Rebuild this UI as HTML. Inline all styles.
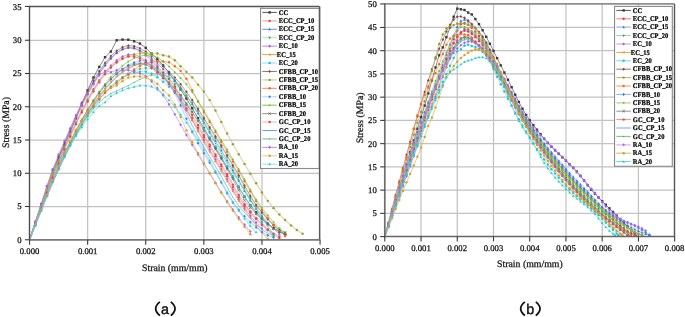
<!DOCTYPE html>
<html><head><meta charset="utf-8"><style>
html,body{margin:0;padding:0;background:#fff;width:685px;height:317px;overflow:hidden}
svg{display:block;text-rendering:geometricPrecision;filter:blur(0.3px)}
.tk{font-family:"Liberation Serif",serif;font-size:8.7px;fill:#111;stroke:#111;stroke-width:0.25px}
.at{font-family:"Liberation Serif",serif;font-size:9.8px;fill:#111;stroke:#111;stroke-width:0.25px}
.lg{font-family:"Liberation Serif",serif;font-size:7.1px;text-rendering:geometricPrecision;font-weight:bold;fill:#000;stroke:#000;stroke-width:0.22px}
.cap{font-family:"Liberation Sans",sans-serif;font-size:14.3px;fill:#111;stroke:#111;stroke-width:0.45px;text-anchor:middle}
</style></head><body>
<svg width="685" height="317" viewBox="0 0 685 317">
<line x1="87.65" y1="6.45" x2="87.65" y2="239.75" stroke="#c2c2c2" stroke-width="1.25"/>
<line x1="145.75" y1="6.45" x2="145.75" y2="239.75" stroke="#c2c2c2" stroke-width="1.25"/>
<line x1="203.85" y1="6.45" x2="203.85" y2="239.75" stroke="#c2c2c2" stroke-width="1.25"/>
<line x1="261.95" y1="6.45" x2="261.95" y2="239.75" stroke="#c2c2c2" stroke-width="1.25"/>
<line x1="29.55" y1="206.50" x2="319.65" y2="206.50" stroke="#c2c2c2" stroke-width="1.25"/>
<line x1="29.55" y1="173.25" x2="319.65" y2="173.25" stroke="#c2c2c2" stroke-width="1.25"/>
<line x1="29.55" y1="140.00" x2="319.65" y2="140.00" stroke="#c2c2c2" stroke-width="1.25"/>
<line x1="29.55" y1="106.75" x2="319.65" y2="106.75" stroke="#c2c2c2" stroke-width="1.25"/>
<line x1="29.55" y1="73.50" x2="319.65" y2="73.50" stroke="#c2c2c2" stroke-width="1.25"/>
<line x1="29.55" y1="40.25" x2="319.65" y2="40.25" stroke="#c2c2c2" stroke-width="1.25"/>
<line x1="421.03" y1="3.95" x2="421.03" y2="236.60" stroke="#c2c2c2" stroke-width="1.25"/>
<line x1="457.26" y1="3.95" x2="457.26" y2="236.60" stroke="#c2c2c2" stroke-width="1.25"/>
<line x1="493.49" y1="3.95" x2="493.49" y2="236.60" stroke="#c2c2c2" stroke-width="1.25"/>
<line x1="529.72" y1="3.95" x2="529.72" y2="236.60" stroke="#c2c2c2" stroke-width="1.25"/>
<line x1="565.95" y1="3.95" x2="565.95" y2="236.60" stroke="#c2c2c2" stroke-width="1.25"/>
<line x1="602.18" y1="3.95" x2="602.18" y2="236.60" stroke="#c2c2c2" stroke-width="1.25"/>
<line x1="638.41" y1="3.95" x2="638.41" y2="236.60" stroke="#c2c2c2" stroke-width="1.25"/>
<line x1="384.80" y1="213.36" x2="674.50" y2="213.36" stroke="#c2c2c2" stroke-width="1.25"/>
<line x1="384.80" y1="190.12" x2="674.50" y2="190.12" stroke="#c2c2c2" stroke-width="1.25"/>
<line x1="384.80" y1="166.88" x2="674.50" y2="166.88" stroke="#c2c2c2" stroke-width="1.25"/>
<line x1="384.80" y1="143.64" x2="674.50" y2="143.64" stroke="#c2c2c2" stroke-width="1.25"/>
<line x1="384.80" y1="120.40" x2="674.50" y2="120.40" stroke="#c2c2c2" stroke-width="1.25"/>
<line x1="384.80" y1="97.16" x2="674.50" y2="97.16" stroke="#c2c2c2" stroke-width="1.25"/>
<line x1="384.80" y1="73.92" x2="674.50" y2="73.92" stroke="#c2c2c2" stroke-width="1.25"/>
<line x1="384.80" y1="50.68" x2="674.50" y2="50.68" stroke="#c2c2c2" stroke-width="1.25"/>
<line x1="384.80" y1="27.44" x2="674.50" y2="27.44" stroke="#c2c2c2" stroke-width="1.25"/>
<clipPath id="cl"><rect x="29.55" y="6.45" width="290.09999999999997" height="233.3"/></clipPath>
<clipPath id="cr"><rect x="384.8" y="3.95" width="289.7" height="232.65"/></clipPath>
<g clip-path="url(#cl)"><polyline points="29.55,239.75 35.36,222.04 41.17,204.50 46.98,186.52 52.79,169.93 58.60,156.68 64.41,144.77 70.22,131.99 76.03,118.04 81.84,104.09 87.65,90.32 93.46,77.49 99.27,66.85 105.08,57.21 110.89,51.55 116.70,40.25 122.51,39.58 128.32,39.72 134.13,41.25 139.94,43.57 145.75,47.90 151.56,53.55 157.37,58.87 163.18,65.41 168.99,72.83 174.80,80.81 180.61,89.37 186.42,98.58 192.23,108.25 198.04,118.18 203.85,128.19 209.66,138.06 215.47,147.80 221.28,157.65 227.09,167.45 232.90,177.15 238.71,187.15 244.52,196.79 250.33,205.17 256.14,212.30 261.95,218.61 267.76,223.79 273.57,228.06 279.38,231.69 285.19,234.43" fill="none" stroke="#555555" stroke-width="0.7" stroke-linejoin="round"/>
<rect x="34.16" y="220.84" width="2.40" height="2.40" fill="#3a3a3a"/><rect x="39.97" y="203.31" width="2.40" height="2.40" fill="#3a3a3a"/><rect x="45.78" y="185.32" width="2.40" height="2.40" fill="#3a3a3a"/><rect x="51.59" y="168.73" width="2.40" height="2.40" fill="#3a3a3a"/><rect x="57.40" y="155.48" width="2.40" height="2.40" fill="#3a3a3a"/><rect x="63.21" y="143.57" width="2.40" height="2.40" fill="#3a3a3a"/><rect x="69.02" y="130.79" width="2.40" height="2.40" fill="#3a3a3a"/><rect x="74.83" y="116.84" width="2.40" height="2.40" fill="#3a3a3a"/><rect x="80.64" y="102.89" width="2.40" height="2.40" fill="#3a3a3a"/><rect x="86.45" y="89.12" width="2.40" height="2.40" fill="#3a3a3a"/><rect x="92.26" y="76.29" width="2.40" height="2.40" fill="#3a3a3a"/><rect x="98.07" y="65.65" width="2.40" height="2.40" fill="#3a3a3a"/><rect x="103.88" y="56.01" width="2.40" height="2.40" fill="#3a3a3a"/><rect x="109.69" y="50.35" width="2.40" height="2.40" fill="#3a3a3a"/><rect x="115.50" y="39.05" width="2.40" height="2.40" fill="#3a3a3a"/><rect x="121.31" y="38.38" width="2.40" height="2.40" fill="#3a3a3a"/><rect x="127.12" y="38.52" width="2.40" height="2.40" fill="#3a3a3a"/><rect x="132.93" y="40.05" width="2.40" height="2.40" fill="#3a3a3a"/><rect x="138.74" y="42.37" width="2.40" height="2.40" fill="#3a3a3a"/><rect x="144.55" y="46.70" width="2.40" height="2.40" fill="#3a3a3a"/><rect x="150.36" y="52.35" width="2.40" height="2.40" fill="#3a3a3a"/><rect x="156.17" y="57.67" width="2.40" height="2.40" fill="#3a3a3a"/><rect x="161.98" y="64.21" width="2.40" height="2.40" fill="#3a3a3a"/><rect x="167.79" y="71.63" width="2.40" height="2.40" fill="#3a3a3a"/><rect x="173.60" y="79.61" width="2.40" height="2.40" fill="#3a3a3a"/><rect x="179.41" y="88.17" width="2.40" height="2.40" fill="#3a3a3a"/><rect x="185.22" y="97.38" width="2.40" height="2.40" fill="#3a3a3a"/><rect x="191.03" y="107.05" width="2.40" height="2.40" fill="#3a3a3a"/><rect x="196.84" y="116.98" width="2.40" height="2.40" fill="#3a3a3a"/><rect x="202.65" y="126.99" width="2.40" height="2.40" fill="#3a3a3a"/><rect x="208.46" y="136.86" width="2.40" height="2.40" fill="#3a3a3a"/><rect x="214.27" y="146.60" width="2.40" height="2.40" fill="#3a3a3a"/><rect x="220.08" y="156.45" width="2.40" height="2.40" fill="#3a3a3a"/><rect x="225.89" y="166.25" width="2.40" height="2.40" fill="#3a3a3a"/><rect x="231.70" y="175.95" width="2.40" height="2.40" fill="#3a3a3a"/><rect x="237.51" y="185.95" width="2.40" height="2.40" fill="#3a3a3a"/><rect x="243.32" y="195.59" width="2.40" height="2.40" fill="#3a3a3a"/><rect x="249.13" y="203.97" width="2.40" height="2.40" fill="#3a3a3a"/><rect x="254.94" y="211.10" width="2.40" height="2.40" fill="#3a3a3a"/><rect x="260.75" y="217.41" width="2.40" height="2.40" fill="#3a3a3a"/><rect x="266.56" y="222.59" width="2.40" height="2.40" fill="#3a3a3a"/><rect x="272.37" y="226.86" width="2.40" height="2.40" fill="#3a3a3a"/><rect x="278.18" y="230.49" width="2.40" height="2.40" fill="#3a3a3a"/><rect x="283.99" y="233.23" width="2.40" height="2.40" fill="#3a3a3a"/>
<polyline points="29.55,239.75 35.36,222.97 41.17,206.57 46.98,190.59 52.79,175.06 58.60,160.02 64.41,145.54 70.22,131.66 76.03,118.45 81.84,105.99 87.65,94.37 93.46,83.68 99.27,74.04 105.08,65.60 110.89,58.51 116.70,52.99 122.51,49.26 128.32,47.63 134.13,48.29 139.94,50.99 145.75,55.22 151.56,60.51 157.37,66.39 163.18,72.37 168.99,78.71 174.80,86.44 180.61,95.29 186.42,104.92 192.23,115.00 198.04,125.20 203.85,135.19 209.66,144.78 215.47,154.52 221.28,164.38 227.09,174.22 232.90,184.60 238.71,195.03 244.52,204.18 250.33,211.47 256.14,218.26 261.95,224.48 267.76,229.97 273.57,234.54 279.38,238.02" fill="none" stroke="#f77d7d" stroke-width="1.4" stroke-opacity="0.45" stroke-linejoin="round"/>
<circle cx="35.36" cy="222.97" r="1.20" fill="#f03a3a"/><circle cx="41.17" cy="206.57" r="1.20" fill="#f03a3a"/><circle cx="46.98" cy="190.59" r="1.20" fill="#f03a3a"/><circle cx="52.79" cy="175.06" r="1.20" fill="#f03a3a"/><circle cx="58.60" cy="160.02" r="1.20" fill="#f03a3a"/><circle cx="64.41" cy="145.54" r="1.20" fill="#f03a3a"/><circle cx="70.22" cy="131.66" r="1.20" fill="#f03a3a"/><circle cx="76.03" cy="118.45" r="1.20" fill="#f03a3a"/><circle cx="81.84" cy="105.99" r="1.20" fill="#f03a3a"/><circle cx="87.65" cy="94.37" r="1.20" fill="#f03a3a"/><circle cx="93.46" cy="83.68" r="1.20" fill="#f03a3a"/><circle cx="99.27" cy="74.04" r="1.20" fill="#f03a3a"/><circle cx="105.08" cy="65.60" r="1.20" fill="#f03a3a"/><circle cx="110.89" cy="58.51" r="1.20" fill="#f03a3a"/><circle cx="116.70" cy="52.99" r="1.20" fill="#f03a3a"/><circle cx="122.51" cy="49.26" r="1.20" fill="#f03a3a"/><circle cx="128.32" cy="47.63" r="1.20" fill="#f03a3a"/><circle cx="134.13" cy="48.29" r="1.20" fill="#f03a3a"/><circle cx="139.94" cy="50.99" r="1.20" fill="#f03a3a"/><circle cx="145.75" cy="55.22" r="1.20" fill="#f03a3a"/><circle cx="151.56" cy="60.51" r="1.20" fill="#f03a3a"/><circle cx="157.37" cy="66.39" r="1.20" fill="#f03a3a"/><circle cx="163.18" cy="72.37" r="1.20" fill="#f03a3a"/><circle cx="168.99" cy="78.71" r="1.20" fill="#f03a3a"/><circle cx="174.80" cy="86.44" r="1.20" fill="#f03a3a"/><circle cx="180.61" cy="95.29" r="1.20" fill="#f03a3a"/><circle cx="186.42" cy="104.92" r="1.20" fill="#f03a3a"/><circle cx="192.23" cy="115.00" r="1.20" fill="#f03a3a"/><circle cx="198.04" cy="125.20" r="1.20" fill="#f03a3a"/><circle cx="203.85" cy="135.19" r="1.20" fill="#f03a3a"/><circle cx="209.66" cy="144.78" r="1.20" fill="#f03a3a"/><circle cx="215.47" cy="154.52" r="1.20" fill="#f03a3a"/><circle cx="221.28" cy="164.38" r="1.20" fill="#f03a3a"/><circle cx="227.09" cy="174.22" r="1.20" fill="#f03a3a"/><circle cx="232.90" cy="184.60" r="1.20" fill="#f03a3a"/><circle cx="238.71" cy="195.03" r="1.20" fill="#f03a3a"/><circle cx="244.52" cy="204.18" r="1.20" fill="#f03a3a"/><circle cx="250.33" cy="211.47" r="1.20" fill="#f03a3a"/><circle cx="256.14" cy="218.26" r="1.20" fill="#f03a3a"/><circle cx="261.95" cy="224.48" r="1.20" fill="#f03a3a"/><circle cx="267.76" cy="229.97" r="1.20" fill="#f03a3a"/><circle cx="273.57" cy="234.54" r="1.20" fill="#f03a3a"/><circle cx="279.38" cy="238.02" r="1.20" fill="#f03a3a"/>
<polyline points="29.55,239.75 35.36,222.66 41.17,205.99 46.98,189.78 52.79,174.07 58.60,158.90 64.41,144.33 70.22,130.41 76.03,117.21 81.84,104.80 87.65,93.27 93.46,82.71 99.27,73.24 105.08,64.98 110.89,58.09 116.70,52.76 122.51,49.18 128.32,47.63 134.13,48.16 139.94,50.40 145.75,53.97 151.56,58.51 157.37,63.66 163.18,69.08 168.99,74.44 174.80,80.50 180.61,87.60 186.42,95.55 192.23,104.14 198.04,113.17 203.85,122.44 209.66,131.75 215.47,140.91 221.28,150.38 227.09,160.30 232.90,170.29 238.71,180.31 244.52,190.71 250.33,200.52 256.14,208.79 261.95,216.15 267.76,222.87 273.57,228.80 279.38,233.76" fill="none" stroke="#5b95ec" stroke-width="0.7" stroke-linejoin="round"/>
<path d="M35.36 221.22L36.68 223.62L34.04 223.62Z" fill="#2f74e0"/><path d="M41.17 204.55L42.49 206.95L39.85 206.95Z" fill="#2f74e0"/><path d="M46.98 188.34L48.30 190.74L45.66 190.74Z" fill="#2f74e0"/><path d="M52.79 172.63L54.11 175.03L51.47 175.03Z" fill="#2f74e0"/><path d="M58.60 157.46L59.92 159.86L57.28 159.86Z" fill="#2f74e0"/><path d="M64.41 142.89L65.73 145.29L63.09 145.29Z" fill="#2f74e0"/><path d="M70.22 128.97L71.54 131.37L68.90 131.37Z" fill="#2f74e0"/><path d="M76.03 115.77L77.35 118.17L74.71 118.17Z" fill="#2f74e0"/><path d="M81.84 103.36L83.16 105.76L80.52 105.76Z" fill="#2f74e0"/><path d="M87.65 91.83L88.97 94.23L86.33 94.23Z" fill="#2f74e0"/><path d="M93.46 81.27L94.78 83.67L92.14 83.67Z" fill="#2f74e0"/><path d="M99.27 71.80L100.59 74.20L97.95 74.20Z" fill="#2f74e0"/><path d="M105.08 63.54L106.40 65.94L103.76 65.94Z" fill="#2f74e0"/><path d="M110.89 56.65L112.21 59.05L109.57 59.05Z" fill="#2f74e0"/><path d="M116.70 51.32L118.02 53.72L115.38 53.72Z" fill="#2f74e0"/><path d="M122.51 47.74L123.83 50.14L121.19 50.14Z" fill="#2f74e0"/><path d="M128.32 46.19L129.64 48.59L127.00 48.59Z" fill="#2f74e0"/><path d="M134.13 46.72L135.45 49.12L132.81 49.12Z" fill="#2f74e0"/><path d="M139.94 48.96L141.26 51.36L138.62 51.36Z" fill="#2f74e0"/><path d="M145.75 52.53L147.07 54.93L144.43 54.93Z" fill="#2f74e0"/><path d="M151.56 57.07L152.88 59.47L150.24 59.47Z" fill="#2f74e0"/><path d="M157.37 62.22L158.69 64.62L156.05 64.62Z" fill="#2f74e0"/><path d="M163.18 67.64L164.50 70.04L161.86 70.04Z" fill="#2f74e0"/><path d="M168.99 73.00L170.31 75.40L167.67 75.40Z" fill="#2f74e0"/><path d="M174.80 79.06L176.12 81.46L173.48 81.46Z" fill="#2f74e0"/><path d="M180.61 86.16L181.93 88.56L179.29 88.56Z" fill="#2f74e0"/><path d="M186.42 94.11L187.74 96.51L185.10 96.51Z" fill="#2f74e0"/><path d="M192.23 102.70L193.55 105.10L190.91 105.10Z" fill="#2f74e0"/><path d="M198.04 111.73L199.36 114.13L196.72 114.13Z" fill="#2f74e0"/><path d="M203.85 121.00L205.17 123.40L202.53 123.40Z" fill="#2f74e0"/><path d="M209.66 130.31L210.98 132.71L208.34 132.71Z" fill="#2f74e0"/><path d="M215.47 139.47L216.79 141.87L214.15 141.87Z" fill="#2f74e0"/><path d="M221.28 148.94L222.60 151.34L219.96 151.34Z" fill="#2f74e0"/><path d="M227.09 158.86L228.41 161.26L225.77 161.26Z" fill="#2f74e0"/><path d="M232.90 168.85L234.22 171.25L231.58 171.25Z" fill="#2f74e0"/><path d="M238.71 178.87L240.03 181.27L237.39 181.27Z" fill="#2f74e0"/><path d="M244.52 189.27L245.84 191.67L243.20 191.67Z" fill="#2f74e0"/><path d="M250.33 199.08L251.65 201.48L249.01 201.48Z" fill="#2f74e0"/><path d="M256.14 207.35L257.46 209.75L254.82 209.75Z" fill="#2f74e0"/><path d="M261.95 214.71L263.27 217.11L260.63 217.11Z" fill="#2f74e0"/><path d="M267.76 221.43L269.08 223.83L266.44 223.83Z" fill="#2f74e0"/><path d="M273.57 227.36L274.89 229.76L272.25 229.76Z" fill="#2f74e0"/><path d="M279.38 232.32L280.70 234.72L278.06 234.72Z" fill="#2f74e0"/>
<polyline points="29.55,239.75 35.36,224.13 41.17,209.19 46.98,194.93 52.79,181.38 58.60,168.54 64.41,156.42 70.22,145.03 76.03,134.37 81.84,124.47 87.65,115.33 93.46,106.96 99.27,99.38 105.08,92.58 110.89,86.60 116.70,81.43 122.51,77.09 128.32,73.60 134.13,70.96 139.94,69.18 145.75,68.31 151.56,68.47 157.37,70.58 163.18,74.29 168.99,79.03 174.80,84.28 180.61,89.53 186.42,95.69 192.23,103.03 198.04,111.24 203.85,120.04 209.66,129.13 215.47,138.21 221.28,147.42 227.09,157.25 232.90,167.30 238.71,177.26 244.52,187.89 250.33,198.12 256.14,206.48 261.95,213.21 267.76,219.41 273.57,224.85 279.38,229.27 285.19,232.44" fill="none" stroke="#8fd3aa" stroke-width="1.4" stroke-opacity="0.45" stroke-linejoin="round"/>
<path d="M35.36 225.57L36.68 223.17L34.04 223.17Z" fill="#25a05a"/><path d="M41.17 210.63L42.49 208.23L39.85 208.23Z" fill="#25a05a"/><path d="M46.98 196.37L48.30 193.97L45.66 193.97Z" fill="#25a05a"/><path d="M52.79 182.82L54.11 180.42L51.47 180.42Z" fill="#25a05a"/><path d="M58.60 169.98L59.92 167.58L57.28 167.58Z" fill="#25a05a"/><path d="M64.41 157.86L65.73 155.46L63.09 155.46Z" fill="#25a05a"/><path d="M70.22 146.47L71.54 144.07L68.90 144.07Z" fill="#25a05a"/><path d="M76.03 135.81L77.35 133.41L74.71 133.41Z" fill="#25a05a"/><path d="M81.84 125.91L83.16 123.51L80.52 123.51Z" fill="#25a05a"/><path d="M87.65 116.77L88.97 114.37L86.33 114.37Z" fill="#25a05a"/><path d="M93.46 108.40L94.78 106.00L92.14 106.00Z" fill="#25a05a"/><path d="M99.27 100.82L100.59 98.42L97.95 98.42Z" fill="#25a05a"/><path d="M105.08 94.02L106.40 91.62L103.76 91.62Z" fill="#25a05a"/><path d="M110.89 88.04L112.21 85.64L109.57 85.64Z" fill="#25a05a"/><path d="M116.70 82.87L118.02 80.47L115.38 80.47Z" fill="#25a05a"/><path d="M122.51 78.53L123.83 76.13L121.19 76.13Z" fill="#25a05a"/><path d="M128.32 75.04L129.64 72.64L127.00 72.64Z" fill="#25a05a"/><path d="M134.13 72.40L135.45 70.00L132.81 70.00Z" fill="#25a05a"/><path d="M139.94 70.62L141.26 68.22L138.62 68.22Z" fill="#25a05a"/><path d="M145.75 69.75L147.07 67.35L144.43 67.35Z" fill="#25a05a"/><path d="M151.56 69.91L152.88 67.51L150.24 67.51Z" fill="#25a05a"/><path d="M157.37 72.02L158.69 69.62L156.05 69.62Z" fill="#25a05a"/><path d="M163.18 75.73L164.50 73.33L161.86 73.33Z" fill="#25a05a"/><path d="M168.99 80.47L170.31 78.07L167.67 78.07Z" fill="#25a05a"/><path d="M174.80 85.72L176.12 83.32L173.48 83.32Z" fill="#25a05a"/><path d="M180.61 90.97L181.93 88.57L179.29 88.57Z" fill="#25a05a"/><path d="M186.42 97.13L187.74 94.73L185.10 94.73Z" fill="#25a05a"/><path d="M192.23 104.47L193.55 102.07L190.91 102.07Z" fill="#25a05a"/><path d="M198.04 112.68L199.36 110.28L196.72 110.28Z" fill="#25a05a"/><path d="M203.85 121.48L205.17 119.08L202.53 119.08Z" fill="#25a05a"/><path d="M209.66 130.57L210.98 128.17L208.34 128.17Z" fill="#25a05a"/><path d="M215.47 139.65L216.79 137.25L214.15 137.25Z" fill="#25a05a"/><path d="M221.28 148.86L222.60 146.46L219.96 146.46Z" fill="#25a05a"/><path d="M227.09 158.69L228.41 156.29L225.77 156.29Z" fill="#25a05a"/><path d="M232.90 168.74L234.22 166.34L231.58 166.34Z" fill="#25a05a"/><path d="M238.71 178.70L240.03 176.30L237.39 176.30Z" fill="#25a05a"/><path d="M244.52 189.33L245.84 186.93L243.20 186.93Z" fill="#25a05a"/><path d="M250.33 199.56L251.65 197.16L249.01 197.16Z" fill="#25a05a"/><path d="M256.14 207.92L257.46 205.52L254.82 205.52Z" fill="#25a05a"/><path d="M261.95 214.65L263.27 212.25L260.63 212.25Z" fill="#25a05a"/><path d="M267.76 220.85L269.08 218.45L266.44 218.45Z" fill="#25a05a"/><path d="M273.57 226.29L274.89 223.89L272.25 223.89Z" fill="#25a05a"/><path d="M279.38 230.71L280.70 228.31L278.06 228.31Z" fill="#25a05a"/><path d="M285.19 233.88L286.51 231.47L283.87 231.47Z" fill="#25a05a"/>
<polyline points="29.55,239.75 35.36,223.33 41.17,207.32 46.98,191.78 52.79,176.72 58.60,162.20 64.41,148.26 70.22,134.96 76.03,122.34 81.84,110.48 87.65,99.46 93.46,89.35 99.27,80.25 105.08,72.28 110.89,65.56 116.70,60.22 122.51,56.46 128.32,54.50 134.13,54.52 139.94,56.75 145.75,60.70 151.56,65.83 157.37,71.62 163.18,77.52 168.99,83.88 174.80,91.69 180.61,100.59 186.42,110.24 192.23,120.26 198.04,130.30 203.85,140.00 209.66,149.59 215.47,159.43 221.28,169.31 227.09,179.25 232.90,189.56 238.71,199.46 244.52,208.08 250.33,215.67 256.14,222.50 261.95,228.44" fill="none" stroke="#b985f3" stroke-width="0.7" stroke-linejoin="round"/>
<path d="M35.36 221.77L36.68 223.33L35.36 224.89L34.04 223.33Z" fill="#a259f0"/><path d="M41.17 205.76L42.49 207.32L41.17 208.88L39.85 207.32Z" fill="#a259f0"/><path d="M46.98 190.22L48.30 191.78L46.98 193.34L45.66 191.78Z" fill="#a259f0"/><path d="M52.79 175.16L54.11 176.72L52.79 178.28L51.47 176.72Z" fill="#a259f0"/><path d="M58.60 160.64L59.92 162.20L58.60 163.76L57.28 162.20Z" fill="#a259f0"/><path d="M64.41 146.70L65.73 148.26L64.41 149.82L63.09 148.26Z" fill="#a259f0"/><path d="M70.22 133.40L71.54 134.96L70.22 136.52L68.90 134.96Z" fill="#a259f0"/><path d="M76.03 120.78L77.35 122.34L76.03 123.90L74.71 122.34Z" fill="#a259f0"/><path d="M81.84 108.92L83.16 110.48L81.84 112.04L80.52 110.48Z" fill="#a259f0"/><path d="M87.65 97.90L88.97 99.46L87.65 101.02L86.33 99.46Z" fill="#a259f0"/><path d="M93.46 87.79L94.78 89.35L93.46 90.91L92.14 89.35Z" fill="#a259f0"/><path d="M99.27 78.69L100.59 80.25L99.27 81.81L97.95 80.25Z" fill="#a259f0"/><path d="M105.08 70.72L106.40 72.28L105.08 73.84L103.76 72.28Z" fill="#a259f0"/><path d="M110.89 64.00L112.21 65.56L110.89 67.12L109.57 65.56Z" fill="#a259f0"/><path d="M116.70 58.66L118.02 60.22L116.70 61.78L115.38 60.22Z" fill="#a259f0"/><path d="M122.51 54.90L123.83 56.46L122.51 58.02L121.19 56.46Z" fill="#a259f0"/><path d="M128.32 52.94L129.64 54.50L128.32 56.06L127.00 54.50Z" fill="#a259f0"/><path d="M134.13 52.96L135.45 54.52L134.13 56.08L132.81 54.52Z" fill="#a259f0"/><path d="M139.94 55.19L141.26 56.75L139.94 58.31L138.62 56.75Z" fill="#a259f0"/><path d="M145.75 59.14L147.07 60.70L145.75 62.26L144.43 60.70Z" fill="#a259f0"/><path d="M151.56 64.27L152.88 65.83L151.56 67.39L150.24 65.83Z" fill="#a259f0"/><path d="M157.37 70.06L158.69 71.62L157.37 73.18L156.05 71.62Z" fill="#a259f0"/><path d="M163.18 75.96L164.50 77.52L163.18 79.08L161.86 77.52Z" fill="#a259f0"/><path d="M168.99 82.32L170.31 83.88L168.99 85.44L167.67 83.88Z" fill="#a259f0"/><path d="M174.80 90.13L176.12 91.69L174.80 93.25L173.48 91.69Z" fill="#a259f0"/><path d="M180.61 99.03L181.93 100.59L180.61 102.15L179.29 100.59Z" fill="#a259f0"/><path d="M186.42 108.68L187.74 110.24L186.42 111.80L185.10 110.24Z" fill="#a259f0"/><path d="M192.23 118.70L193.55 120.26L192.23 121.82L190.91 120.26Z" fill="#a259f0"/><path d="M198.04 128.74L199.36 130.30L198.04 131.86L196.72 130.30Z" fill="#a259f0"/><path d="M203.85 138.44L205.17 140.00L203.85 141.56L202.53 140.00Z" fill="#a259f0"/><path d="M209.66 148.03L210.98 149.59L209.66 151.15L208.34 149.59Z" fill="#a259f0"/><path d="M215.47 157.87L216.79 159.43L215.47 160.99L214.15 159.43Z" fill="#a259f0"/><path d="M221.28 167.75L222.60 169.31L221.28 170.87L219.96 169.31Z" fill="#a259f0"/><path d="M227.09 177.69L228.41 179.25L227.09 180.81L225.77 179.25Z" fill="#a259f0"/><path d="M232.90 188.00L234.22 189.56L232.90 191.12L231.58 189.56Z" fill="#a259f0"/><path d="M238.71 197.90L240.03 199.46L238.71 201.02L237.39 199.46Z" fill="#a259f0"/><path d="M244.52 206.52L245.84 208.08L244.52 209.64L243.20 208.08Z" fill="#a259f0"/><path d="M250.33 214.11L251.65 215.67L250.33 217.23L249.01 215.67Z" fill="#a259f0"/><path d="M256.14 220.94L257.46 222.50L256.14 224.06L254.82 222.50Z" fill="#a259f0"/><path d="M261.95 226.88L263.27 228.44L261.95 230.00L260.63 228.44Z" fill="#a259f0"/>
<polyline points="29.55,239.75 35.36,224.39 41.17,209.56 46.98,195.29 52.79,181.60 58.60,168.52 64.41,156.05 70.22,144.23 76.03,133.09 81.84,122.64 87.65,112.92 93.46,103.95 99.27,95.76 105.08,88.40 110.89,81.88 116.70,76.26 122.51,71.56 128.32,67.82 134.13,65.10 139.94,63.42 145.75,62.86 151.56,64.54 157.37,68.91 163.18,74.97 168.99,81.72 174.80,88.80 180.61,97.98 186.42,108.72 192.23,120.19 198.04,131.55 203.85,142.00 209.66,151.85 215.47,161.57 221.28,171.28 227.09,181.25 232.90,191.43 238.71,201.16 244.52,209.82 250.33,217.88 256.14,225.45 261.95,232.43 267.76,238.75" fill="none" stroke="#e0aa40" stroke-width="0.7" stroke-linejoin="round"/>
<path d="M33.92 224.39L36.32 223.07L36.32 225.71Z" fill="#de9a14"/><path d="M39.73 209.56L42.13 208.24L42.13 210.88Z" fill="#de9a14"/><path d="M45.54 195.29L47.94 193.97L47.94 196.61Z" fill="#de9a14"/><path d="M51.35 181.60L53.75 180.28L53.75 182.92Z" fill="#de9a14"/><path d="M57.16 168.52L59.56 167.20L59.56 169.84Z" fill="#de9a14"/><path d="M62.97 156.05L65.37 154.73L65.37 157.37Z" fill="#de9a14"/><path d="M68.78 144.23L71.18 142.91L71.18 145.55Z" fill="#de9a14"/><path d="M74.59 133.09L76.99 131.77L76.99 134.41Z" fill="#de9a14"/><path d="M80.40 122.64L82.80 121.32L82.80 123.96Z" fill="#de9a14"/><path d="M86.21 112.92L88.61 111.60L88.61 114.24Z" fill="#de9a14"/><path d="M92.02 103.95L94.42 102.63L94.42 105.27Z" fill="#de9a14"/><path d="M97.83 95.76L100.23 94.44L100.23 97.08Z" fill="#de9a14"/><path d="M103.64 88.40L106.04 87.08L106.04 89.72Z" fill="#de9a14"/><path d="M109.45 81.88L111.85 80.56L111.85 83.20Z" fill="#de9a14"/><path d="M115.26 76.26L117.66 74.94L117.66 77.58Z" fill="#de9a14"/><path d="M121.07 71.56L123.47 70.24L123.47 72.88Z" fill="#de9a14"/><path d="M126.88 67.82L129.28 66.50L129.28 69.14Z" fill="#de9a14"/><path d="M132.69 65.10L135.09 63.78L135.09 66.42Z" fill="#de9a14"/><path d="M138.50 63.42L140.90 62.10L140.90 64.74Z" fill="#de9a14"/><path d="M144.31 62.86L146.71 61.54L146.71 64.18Z" fill="#de9a14"/><path d="M150.12 64.54L152.52 63.22L152.52 65.86Z" fill="#de9a14"/><path d="M155.93 68.91L158.33 67.59L158.33 70.23Z" fill="#de9a14"/><path d="M161.74 74.97L164.14 73.65L164.14 76.29Z" fill="#de9a14"/><path d="M167.55 81.72L169.95 80.40L169.95 83.04Z" fill="#de9a14"/><path d="M173.36 88.80L175.76 87.48L175.76 90.12Z" fill="#de9a14"/><path d="M179.17 97.98L181.57 96.66L181.57 99.30Z" fill="#de9a14"/><path d="M184.98 108.72L187.38 107.40L187.38 110.04Z" fill="#de9a14"/><path d="M190.79 120.19L193.19 118.87L193.19 121.51Z" fill="#de9a14"/><path d="M196.60 131.55L199.00 130.23L199.00 132.87Z" fill="#de9a14"/><path d="M202.41 142.00L204.81 140.68L204.81 143.32Z" fill="#de9a14"/><path d="M208.22 151.85L210.62 150.53L210.62 153.17Z" fill="#de9a14"/><path d="M214.03 161.57L216.43 160.25L216.43 162.89Z" fill="#de9a14"/><path d="M219.84 171.28L222.24 169.96L222.24 172.60Z" fill="#de9a14"/><path d="M225.65 181.25L228.05 179.93L228.05 182.57Z" fill="#de9a14"/><path d="M231.46 191.43L233.86 190.11L233.86 192.75Z" fill="#de9a14"/><path d="M237.27 201.16L239.67 199.84L239.67 202.48Z" fill="#de9a14"/><path d="M243.08 209.82L245.48 208.50L245.48 211.14Z" fill="#de9a14"/><path d="M248.89 217.88L251.29 216.56L251.29 219.20Z" fill="#de9a14"/><path d="M254.70 225.45L257.10 224.13L257.10 226.77Z" fill="#de9a14"/><path d="M260.51 232.43L262.91 231.11L262.91 233.75Z" fill="#de9a14"/><path d="M266.32 238.75L268.72 237.43L268.72 240.07Z" fill="#de9a14"/>
<polyline points="29.55,239.75 35.36,224.42 41.17,209.68 46.98,195.57 52.79,182.09 58.60,169.26 64.41,157.11 70.22,145.66 76.03,134.93 81.84,124.94 87.65,115.72 93.46,107.28 99.27,99.66 105.08,92.89 110.89,86.99 116.70,81.99 122.51,77.92 128.32,74.82 134.13,72.70 139.94,71.66 145.75,71.78 151.56,73.76 157.37,77.24 163.18,81.71 168.99,86.67 174.80,91.63 180.61,97.35 186.42,104.15 192.23,111.80 198.04,120.05 203.85,128.66 209.66,137.39 215.47,146.35 221.28,156.15 227.09,166.27 232.90,176.20 238.71,186.30 244.52,196.30 250.33,205.61 256.14,214.07 261.95,222.07 267.76,229.55 273.57,236.43" fill="none" stroke="#72dde3" stroke-width="1.4" stroke-opacity="0.45" stroke-linejoin="round"/>
<circle cx="35.36" cy="224.42" r="1.20" fill="#16c6d0"/><circle cx="41.17" cy="209.68" r="1.20" fill="#16c6d0"/><circle cx="46.98" cy="195.57" r="1.20" fill="#16c6d0"/><circle cx="52.79" cy="182.09" r="1.20" fill="#16c6d0"/><circle cx="58.60" cy="169.26" r="1.20" fill="#16c6d0"/><circle cx="64.41" cy="157.11" r="1.20" fill="#16c6d0"/><circle cx="70.22" cy="145.66" r="1.20" fill="#16c6d0"/><circle cx="76.03" cy="134.93" r="1.20" fill="#16c6d0"/><circle cx="81.84" cy="124.94" r="1.20" fill="#16c6d0"/><circle cx="87.65" cy="115.72" r="1.20" fill="#16c6d0"/><circle cx="93.46" cy="107.28" r="1.20" fill="#16c6d0"/><circle cx="99.27" cy="99.66" r="1.20" fill="#16c6d0"/><circle cx="105.08" cy="92.89" r="1.20" fill="#16c6d0"/><circle cx="110.89" cy="86.99" r="1.20" fill="#16c6d0"/><circle cx="116.70" cy="81.99" r="1.20" fill="#16c6d0"/><circle cx="122.51" cy="77.92" r="1.20" fill="#16c6d0"/><circle cx="128.32" cy="74.82" r="1.20" fill="#16c6d0"/><circle cx="134.13" cy="72.70" r="1.20" fill="#16c6d0"/><circle cx="139.94" cy="71.66" r="1.20" fill="#16c6d0"/><circle cx="145.75" cy="71.78" r="1.20" fill="#16c6d0"/><circle cx="151.56" cy="73.76" r="1.20" fill="#16c6d0"/><circle cx="157.37" cy="77.24" r="1.20" fill="#16c6d0"/><circle cx="163.18" cy="81.71" r="1.20" fill="#16c6d0"/><circle cx="168.99" cy="86.67" r="1.20" fill="#16c6d0"/><circle cx="174.80" cy="91.63" r="1.20" fill="#16c6d0"/><circle cx="180.61" cy="97.35" r="1.20" fill="#16c6d0"/><circle cx="186.42" cy="104.15" r="1.20" fill="#16c6d0"/><circle cx="192.23" cy="111.80" r="1.20" fill="#16c6d0"/><circle cx="198.04" cy="120.05" r="1.20" fill="#16c6d0"/><circle cx="203.85" cy="128.66" r="1.20" fill="#16c6d0"/><circle cx="209.66" cy="137.39" r="1.20" fill="#16c6d0"/><circle cx="215.47" cy="146.35" r="1.20" fill="#16c6d0"/><circle cx="221.28" cy="156.15" r="1.20" fill="#16c6d0"/><circle cx="227.09" cy="166.27" r="1.20" fill="#16c6d0"/><circle cx="232.90" cy="176.20" r="1.20" fill="#16c6d0"/><circle cx="238.71" cy="186.30" r="1.20" fill="#16c6d0"/><circle cx="244.52" cy="196.30" r="1.20" fill="#16c6d0"/><circle cx="250.33" cy="205.61" r="1.20" fill="#16c6d0"/><circle cx="256.14" cy="214.07" r="1.20" fill="#16c6d0"/><circle cx="261.95" cy="222.07" r="1.20" fill="#16c6d0"/><circle cx="267.76" cy="229.55" r="1.20" fill="#16c6d0"/><circle cx="273.57" cy="236.43" r="1.20" fill="#16c6d0"/>
<polyline points="29.55,239.75 35.36,222.34 41.17,205.38 46.98,188.90 52.79,172.94 58.60,157.56 64.41,142.80 70.22,128.71 76.03,115.38 81.84,102.87 87.65,91.26 93.46,80.65 99.27,71.16 105.08,62.90 110.89,56.03 116.70,50.72 122.51,47.17 128.32,45.63 134.13,46.14 139.94,48.29 145.75,51.73 151.56,56.13 157.37,61.15 163.18,66.49 168.99,71.80 174.80,77.51 180.61,84.25 186.42,91.85 192.23,100.12 198.04,108.89 203.85,117.98 209.66,127.20 215.47,136.38 221.28,145.55 227.09,155.29 232.90,165.30 238.71,175.22 244.52,185.62 250.33,195.93 256.14,204.94 261.95,212.27 267.76,219.05 273.57,225.13 279.38,230.32 285.19,234.43" fill="none" stroke="#9c6e6e" stroke-width="0.7" stroke-linejoin="round"/>
<path d="M35.36 220.78L36.68 222.34L35.36 223.90L34.04 222.34Z" fill="#7e4646"/><path d="M41.17 203.82L42.49 205.38L41.17 206.94L39.85 205.38Z" fill="#7e4646"/><path d="M46.98 187.34L48.30 188.90L46.98 190.46L45.66 188.90Z" fill="#7e4646"/><path d="M52.79 171.38L54.11 172.94L52.79 174.50L51.47 172.94Z" fill="#7e4646"/><path d="M58.60 156.00L59.92 157.56L58.60 159.12L57.28 157.56Z" fill="#7e4646"/><path d="M64.41 141.24L65.73 142.80L64.41 144.36L63.09 142.80Z" fill="#7e4646"/><path d="M70.22 127.15L71.54 128.71L70.22 130.27L68.90 128.71Z" fill="#7e4646"/><path d="M76.03 113.82L77.35 115.38L76.03 116.94L74.71 115.38Z" fill="#7e4646"/><path d="M81.84 101.31L83.16 102.87L81.84 104.43L80.52 102.87Z" fill="#7e4646"/><path d="M87.65 89.70L88.97 91.26L87.65 92.82L86.33 91.26Z" fill="#7e4646"/><path d="M93.46 79.09L94.78 80.65L93.46 82.21L92.14 80.65Z" fill="#7e4646"/><path d="M99.27 69.60L100.59 71.16L99.27 72.72L97.95 71.16Z" fill="#7e4646"/><path d="M105.08 61.34L106.40 62.90L105.08 64.46L103.76 62.90Z" fill="#7e4646"/><path d="M110.89 54.47L112.21 56.03L110.89 57.59L109.57 56.03Z" fill="#7e4646"/><path d="M116.70 49.16L118.02 50.72L116.70 52.28L115.38 50.72Z" fill="#7e4646"/><path d="M122.51 45.61L123.83 47.17L122.51 48.73L121.19 47.17Z" fill="#7e4646"/><path d="M128.32 44.07L129.64 45.63L128.32 47.19L127.00 45.63Z" fill="#7e4646"/><path d="M134.13 44.58L135.45 46.14L134.13 47.70L132.81 46.14Z" fill="#7e4646"/><path d="M139.94 46.73L141.26 48.29L139.94 49.85L138.62 48.29Z" fill="#7e4646"/><path d="M145.75 50.17L147.07 51.73L145.75 53.29L144.43 51.73Z" fill="#7e4646"/><path d="M151.56 54.57L152.88 56.13L151.56 57.69L150.24 56.13Z" fill="#7e4646"/><path d="M157.37 59.59L158.69 61.15L157.37 62.71L156.05 61.15Z" fill="#7e4646"/><path d="M163.18 64.93L164.50 66.49L163.18 68.05L161.86 66.49Z" fill="#7e4646"/><path d="M168.99 70.24L170.31 71.80L168.99 73.36L167.67 71.80Z" fill="#7e4646"/><path d="M174.80 75.95L176.12 77.51L174.80 79.07L173.48 77.51Z" fill="#7e4646"/><path d="M180.61 82.69L181.93 84.25L180.61 85.81L179.29 84.25Z" fill="#7e4646"/><path d="M186.42 90.29L187.74 91.85L186.42 93.41L185.10 91.85Z" fill="#7e4646"/><path d="M192.23 98.56L193.55 100.12L192.23 101.68L190.91 100.12Z" fill="#7e4646"/><path d="M198.04 107.33L199.36 108.89L198.04 110.45L196.72 108.89Z" fill="#7e4646"/><path d="M203.85 116.42L205.17 117.98L203.85 119.54L202.53 117.98Z" fill="#7e4646"/><path d="M209.66 125.64L210.98 127.20L209.66 128.76L208.34 127.20Z" fill="#7e4646"/><path d="M215.47 134.82L216.79 136.38L215.47 137.94L214.15 136.38Z" fill="#7e4646"/><path d="M221.28 143.99L222.60 145.55L221.28 147.11L219.96 145.55Z" fill="#7e4646"/><path d="M227.09 153.73L228.41 155.29L227.09 156.85L225.77 155.29Z" fill="#7e4646"/><path d="M232.90 163.74L234.22 165.30L232.90 166.86L231.58 165.30Z" fill="#7e4646"/><path d="M238.71 173.66L240.03 175.22L238.71 176.78L237.39 175.22Z" fill="#7e4646"/><path d="M244.52 184.06L245.84 185.62L244.52 187.18L243.20 185.62Z" fill="#7e4646"/><path d="M250.33 194.37L251.65 195.93L250.33 197.49L249.01 195.93Z" fill="#7e4646"/><path d="M256.14 203.38L257.46 204.94L256.14 206.50L254.82 204.94Z" fill="#7e4646"/><path d="M261.95 210.71L263.27 212.27L261.95 213.83L260.63 212.27Z" fill="#7e4646"/><path d="M267.76 217.49L269.08 219.05L267.76 220.61L266.44 219.05Z" fill="#7e4646"/><path d="M273.57 223.57L274.89 225.13L273.57 226.69L272.25 225.13Z" fill="#7e4646"/><path d="M279.38 228.76L280.70 230.32L279.38 231.88L278.06 230.32Z" fill="#7e4646"/><path d="M285.19 232.87L286.51 234.43L285.19 235.99L283.87 234.43Z" fill="#7e4646"/>
<polyline points="29.55,239.75 35.36,223.04 41.17,206.50 46.98,189.66 52.79,173.91 58.60,160.66 64.41,148.54 70.22,136.23 76.03,123.57 81.84,111.41 87.65,99.89 93.46,89.46 99.27,80.40 105.08,72.83 110.89,66.85 116.70,62.19 122.51,58.71 128.32,56.21 134.13,54.49 139.94,53.55 145.75,53.31 151.56,53.22 157.37,53.55 163.18,55.21 168.99,56.54 174.80,60.20 180.61,66.18 186.42,71.84 192.23,77.49 198.04,84.81 203.85,91.45 209.66,100.10 215.47,110.48 221.28,121.96 227.09,133.49 232.90,144.14 238.71,154.25 244.52,164.07 250.33,173.70 256.14,183.23 261.95,192.53 267.76,200.85 273.57,208.16 279.38,214.48 285.19,220.00 291.00,225.39 296.81,229.97 302.62,233.76" fill="none" stroke="#b8b860" stroke-width="1.4" stroke-opacity="0.45" stroke-linejoin="round"/>
<circle cx="35.36" cy="223.04" r="1.20" fill="#9c9c24"/><circle cx="41.17" cy="206.50" r="1.20" fill="#9c9c24"/><circle cx="46.98" cy="189.66" r="1.20" fill="#9c9c24"/><circle cx="52.79" cy="173.91" r="1.20" fill="#9c9c24"/><circle cx="58.60" cy="160.66" r="1.20" fill="#9c9c24"/><circle cx="64.41" cy="148.54" r="1.20" fill="#9c9c24"/><circle cx="70.22" cy="136.23" r="1.20" fill="#9c9c24"/><circle cx="76.03" cy="123.57" r="1.20" fill="#9c9c24"/><circle cx="81.84" cy="111.41" r="1.20" fill="#9c9c24"/><circle cx="87.65" cy="99.89" r="1.20" fill="#9c9c24"/><circle cx="93.46" cy="89.46" r="1.20" fill="#9c9c24"/><circle cx="99.27" cy="80.40" r="1.20" fill="#9c9c24"/><circle cx="105.08" cy="72.83" r="1.20" fill="#9c9c24"/><circle cx="110.89" cy="66.85" r="1.20" fill="#9c9c24"/><circle cx="116.70" cy="62.19" r="1.20" fill="#9c9c24"/><circle cx="122.51" cy="58.71" r="1.20" fill="#9c9c24"/><circle cx="128.32" cy="56.21" r="1.20" fill="#9c9c24"/><circle cx="134.13" cy="54.49" r="1.20" fill="#9c9c24"/><circle cx="139.94" cy="53.55" r="1.20" fill="#9c9c24"/><circle cx="145.75" cy="53.31" r="1.20" fill="#9c9c24"/><circle cx="151.56" cy="53.22" r="1.20" fill="#9c9c24"/><circle cx="157.37" cy="53.55" r="1.20" fill="#9c9c24"/><circle cx="163.18" cy="55.21" r="1.20" fill="#9c9c24"/><circle cx="168.99" cy="56.54" r="1.20" fill="#9c9c24"/><circle cx="174.80" cy="60.20" r="1.20" fill="#9c9c24"/><circle cx="180.61" cy="66.18" r="1.20" fill="#9c9c24"/><circle cx="186.42" cy="71.84" r="1.20" fill="#9c9c24"/><circle cx="192.23" cy="77.49" r="1.20" fill="#9c9c24"/><circle cx="198.04" cy="84.81" r="1.20" fill="#9c9c24"/><circle cx="203.85" cy="91.45" r="1.20" fill="#9c9c24"/><circle cx="209.66" cy="100.10" r="1.20" fill="#9c9c24"/><circle cx="215.47" cy="110.48" r="1.20" fill="#9c9c24"/><circle cx="221.28" cy="121.96" r="1.20" fill="#9c9c24"/><circle cx="227.09" cy="133.49" r="1.20" fill="#9c9c24"/><circle cx="232.90" cy="144.14" r="1.20" fill="#9c9c24"/><circle cx="238.71" cy="154.25" r="1.20" fill="#9c9c24"/><circle cx="244.52" cy="164.07" r="1.20" fill="#9c9c24"/><circle cx="250.33" cy="173.70" r="1.20" fill="#9c9c24"/><circle cx="256.14" cy="183.23" r="1.20" fill="#9c9c24"/><circle cx="261.95" cy="192.53" r="1.20" fill="#9c9c24"/><circle cx="267.76" cy="200.85" r="1.20" fill="#9c9c24"/><circle cx="273.57" cy="208.16" r="1.20" fill="#9c9c24"/><circle cx="279.38" cy="214.48" r="1.20" fill="#9c9c24"/><circle cx="285.19" cy="220.00" r="1.20" fill="#9c9c24"/><circle cx="291.00" cy="225.39" r="1.20" fill="#9c9c24"/><circle cx="296.81" cy="229.97" r="1.20" fill="#9c9c24"/><circle cx="302.62" cy="233.76" r="1.20" fill="#9c9c24"/>
<polyline points="29.55,239.75 35.36,223.08 41.17,207.16 46.98,191.74 52.79,177.24 58.60,164.57 64.41,153.15 70.22,142.20 76.03,130.97 81.84,120.72 87.65,112.85 93.46,105.89 99.27,98.77 105.08,92.78 110.89,87.27 116.70,83.25 122.51,78.15 128.32,74.16 134.13,69.51 139.94,66.18 145.75,63.52 151.56,62.19 157.37,61.20 163.18,61.53 168.99,62.19 174.80,66.18 180.61,70.84 186.42,78.82 192.23,90.13 198.04,101.43 203.85,111.98 209.66,122.12 215.47,132.06 221.28,141.99 227.09,151.82 232.90,161.56 238.71,171.30 244.52,181.24 250.33,191.38 256.14,201.11 261.95,209.91 267.76,218.05 273.57,225.12 279.38,231.04 285.19,235.96" fill="none" stroke="#ff8a4a" stroke-width="0.7" stroke-linejoin="round"/>
<circle cx="35.36" cy="223.08" r="1.20" fill="#ff6412"/><circle cx="41.17" cy="207.16" r="1.20" fill="#ff6412"/><circle cx="46.98" cy="191.74" r="1.20" fill="#ff6412"/><circle cx="52.79" cy="177.24" r="1.20" fill="#ff6412"/><circle cx="58.60" cy="164.57" r="1.20" fill="#ff6412"/><circle cx="64.41" cy="153.15" r="1.20" fill="#ff6412"/><circle cx="70.22" cy="142.20" r="1.20" fill="#ff6412"/><circle cx="76.03" cy="130.97" r="1.20" fill="#ff6412"/><circle cx="81.84" cy="120.72" r="1.20" fill="#ff6412"/><circle cx="87.65" cy="112.85" r="1.20" fill="#ff6412"/><circle cx="93.46" cy="105.89" r="1.20" fill="#ff6412"/><circle cx="99.27" cy="98.77" r="1.20" fill="#ff6412"/><circle cx="105.08" cy="92.78" r="1.20" fill="#ff6412"/><circle cx="110.89" cy="87.27" r="1.20" fill="#ff6412"/><circle cx="116.70" cy="83.25" r="1.20" fill="#ff6412"/><circle cx="122.51" cy="78.15" r="1.20" fill="#ff6412"/><circle cx="128.32" cy="74.16" r="1.20" fill="#ff6412"/><circle cx="134.13" cy="69.51" r="1.20" fill="#ff6412"/><circle cx="139.94" cy="66.18" r="1.20" fill="#ff6412"/><circle cx="145.75" cy="63.52" r="1.20" fill="#ff6412"/><circle cx="151.56" cy="62.19" r="1.20" fill="#ff6412"/><circle cx="157.37" cy="61.20" r="1.20" fill="#ff6412"/><circle cx="163.18" cy="61.53" r="1.20" fill="#ff6412"/><circle cx="168.99" cy="62.19" r="1.20" fill="#ff6412"/><circle cx="174.80" cy="66.18" r="1.20" fill="#ff6412"/><circle cx="180.61" cy="70.84" r="1.20" fill="#ff6412"/><circle cx="186.42" cy="78.82" r="1.20" fill="#ff6412"/><circle cx="192.23" cy="90.13" r="1.20" fill="#ff6412"/><circle cx="198.04" cy="101.43" r="1.20" fill="#ff6412"/><circle cx="203.85" cy="111.98" r="1.20" fill="#ff6412"/><circle cx="209.66" cy="122.12" r="1.20" fill="#ff6412"/><circle cx="215.47" cy="132.06" r="1.20" fill="#ff6412"/><circle cx="221.28" cy="141.99" r="1.20" fill="#ff6412"/><circle cx="227.09" cy="151.82" r="1.20" fill="#ff6412"/><circle cx="232.90" cy="161.56" r="1.20" fill="#ff6412"/><circle cx="238.71" cy="171.30" r="1.20" fill="#ff6412"/><circle cx="244.52" cy="181.24" r="1.20" fill="#ff6412"/><circle cx="250.33" cy="191.38" r="1.20" fill="#ff6412"/><circle cx="256.14" cy="201.11" r="1.20" fill="#ff6412"/><circle cx="261.95" cy="209.91" r="1.20" fill="#ff6412"/><circle cx="267.76" cy="218.05" r="1.20" fill="#ff6412"/><circle cx="273.57" cy="225.12" r="1.20" fill="#ff6412"/><circle cx="279.38" cy="231.04" r="1.20" fill="#ff6412"/><circle cx="285.19" cy="235.96" r="1.20" fill="#ff6412"/>
<polyline points="29.55,239.75 35.36,224.06 41.17,208.94 46.98,194.40 52.79,180.46 58.60,167.14 64.41,154.46 70.22,142.46 76.03,131.14 81.84,120.55 87.65,110.70 93.46,101.62 99.27,93.35 105.08,85.91 110.89,79.34 116.70,73.66 122.51,68.94 128.32,65.18 134.13,62.45 139.94,60.76 145.75,60.20 151.56,62.37 157.37,67.91 163.18,75.34 168.99,83.21 174.80,92.99 180.61,105.35 186.42,118.80 192.23,131.87 198.04,143.17 203.85,153.17 209.66,162.71 215.47,172.26 221.28,182.58 227.09,193.27 232.90,202.72 238.71,209.79 244.52,216.19 250.33,222.15 256.14,227.47 261.95,231.94 267.76,235.37 273.57,237.56" fill="none" stroke="#8fb4ec" stroke-width="1.4" stroke-opacity="0.45" stroke-linejoin="round"/>
<path d="M35.36 222.50L36.68 224.06L35.36 225.62L34.04 224.06Z" fill="#3d7fd8"/><path d="M41.17 207.38L42.49 208.94L41.17 210.50L39.85 208.94Z" fill="#3d7fd8"/><path d="M46.98 192.84L48.30 194.40L46.98 195.96L45.66 194.40Z" fill="#3d7fd8"/><path d="M52.79 178.90L54.11 180.46L52.79 182.02L51.47 180.46Z" fill="#3d7fd8"/><path d="M58.60 165.58L59.92 167.14L58.60 168.70L57.28 167.14Z" fill="#3d7fd8"/><path d="M64.41 152.90L65.73 154.46L64.41 156.02L63.09 154.46Z" fill="#3d7fd8"/><path d="M70.22 140.90L71.54 142.46L70.22 144.02L68.90 142.46Z" fill="#3d7fd8"/><path d="M76.03 129.58L77.35 131.14L76.03 132.70L74.71 131.14Z" fill="#3d7fd8"/><path d="M81.84 118.99L83.16 120.55L81.84 122.11L80.52 120.55Z" fill="#3d7fd8"/><path d="M87.65 109.14L88.97 110.70L87.65 112.26L86.33 110.70Z" fill="#3d7fd8"/><path d="M93.46 100.06L94.78 101.62L93.46 103.18L92.14 101.62Z" fill="#3d7fd8"/><path d="M99.27 91.79L100.59 93.35L99.27 94.91L97.95 93.35Z" fill="#3d7fd8"/><path d="M105.08 84.35L106.40 85.91L105.08 87.47L103.76 85.91Z" fill="#3d7fd8"/><path d="M110.89 77.78L112.21 79.34L110.89 80.90L109.57 79.34Z" fill="#3d7fd8"/><path d="M116.70 72.10L118.02 73.66L116.70 75.22L115.38 73.66Z" fill="#3d7fd8"/><path d="M122.51 67.38L123.83 68.94L122.51 70.50L121.19 68.94Z" fill="#3d7fd8"/><path d="M128.32 63.62L129.64 65.18L128.32 66.74L127.00 65.18Z" fill="#3d7fd8"/><path d="M134.13 60.89L135.45 62.45L134.13 64.01L132.81 62.45Z" fill="#3d7fd8"/><path d="M139.94 59.20L141.26 60.76L139.94 62.32L138.62 60.76Z" fill="#3d7fd8"/><path d="M145.75 58.64L147.07 60.20L145.75 61.76L144.43 60.20Z" fill="#3d7fd8"/><path d="M151.56 60.81L152.88 62.37L151.56 63.93L150.24 62.37Z" fill="#3d7fd8"/><path d="M157.37 66.35L158.69 67.91L157.37 69.47L156.05 67.91Z" fill="#3d7fd8"/><path d="M163.18 73.78L164.50 75.34L163.18 76.90L161.86 75.34Z" fill="#3d7fd8"/><path d="M168.99 81.65L170.31 83.21L168.99 84.77L167.67 83.21Z" fill="#3d7fd8"/><path d="M174.80 91.43L176.12 92.99L174.80 94.55L173.48 92.99Z" fill="#3d7fd8"/><path d="M180.61 103.79L181.93 105.35L180.61 106.91L179.29 105.35Z" fill="#3d7fd8"/><path d="M186.42 117.24L187.74 118.80L186.42 120.36L185.10 118.80Z" fill="#3d7fd8"/><path d="M192.23 130.31L193.55 131.87L192.23 133.43L190.91 131.87Z" fill="#3d7fd8"/><path d="M198.04 141.61L199.36 143.17L198.04 144.73L196.72 143.17Z" fill="#3d7fd8"/><path d="M203.85 151.61L205.17 153.17L203.85 154.73L202.53 153.17Z" fill="#3d7fd8"/><path d="M209.66 161.15L210.98 162.71L209.66 164.27L208.34 162.71Z" fill="#3d7fd8"/><path d="M215.47 170.70L216.79 172.26L215.47 173.82L214.15 172.26Z" fill="#3d7fd8"/><path d="M221.28 181.02L222.60 182.58L221.28 184.14L219.96 182.58Z" fill="#3d7fd8"/><path d="M227.09 191.71L228.41 193.27L227.09 194.83L225.77 193.27Z" fill="#3d7fd8"/><path d="M232.90 201.16L234.22 202.72L232.90 204.28L231.58 202.72Z" fill="#3d7fd8"/><path d="M238.71 208.23L240.03 209.79L238.71 211.35L237.39 209.79Z" fill="#3d7fd8"/><path d="M244.52 214.63L245.84 216.19L244.52 217.75L243.20 216.19Z" fill="#3d7fd8"/><path d="M250.33 220.59L251.65 222.15L250.33 223.71L249.01 222.15Z" fill="#3d7fd8"/><path d="M256.14 225.91L257.46 227.47L256.14 229.03L254.82 227.47Z" fill="#3d7fd8"/><path d="M261.95 230.38L263.27 231.94L261.95 233.50L260.63 231.94Z" fill="#3d7fd8"/><path d="M267.76 233.81L269.08 235.37L267.76 236.93L266.44 235.37Z" fill="#3d7fd8"/><path d="M273.57 236.00L274.89 237.56L273.57 239.12L272.25 237.56Z" fill="#3d7fd8"/>
<polyline points="29.55,239.75 35.36,224.05 41.17,208.90 46.98,194.30 52.79,180.28 58.60,166.85 64.41,154.05 70.22,141.89 76.03,130.40 81.84,119.60 87.65,109.52 93.46,100.18 99.27,91.61 105.08,83.86 110.89,76.93 116.70,70.88 122.51,65.74 128.32,61.54 134.13,58.33 139.94,56.13 145.75,55.04 151.56,55.18 157.37,57.40 163.18,61.31 168.99,66.41 174.80,72.15 180.61,78.00 186.42,84.31 192.23,92.05 198.04,100.87 203.85,110.43 209.66,120.37 215.47,130.35 221.28,140.00 227.09,149.58 232.90,159.41 238.71,169.31 244.52,179.28 250.33,189.69 256.14,199.60 261.95,208.02 267.76,215.41 273.57,222.17 279.38,228.12 285.19,233.10" fill="none" stroke="#7dc846" stroke-width="0.7" stroke-linejoin="round"/>
<circle cx="35.36" cy="224.05" r="0.96" fill="#6cbf2a"/><circle cx="41.17" cy="208.90" r="0.96" fill="#6cbf2a"/><circle cx="46.98" cy="194.30" r="0.96" fill="#6cbf2a"/><circle cx="52.79" cy="180.28" r="0.96" fill="#6cbf2a"/><circle cx="58.60" cy="166.85" r="0.96" fill="#6cbf2a"/><circle cx="64.41" cy="154.05" r="0.96" fill="#6cbf2a"/><circle cx="70.22" cy="141.89" r="0.96" fill="#6cbf2a"/><circle cx="76.03" cy="130.40" r="0.96" fill="#6cbf2a"/><circle cx="81.84" cy="119.60" r="0.96" fill="#6cbf2a"/><circle cx="87.65" cy="109.52" r="0.96" fill="#6cbf2a"/><circle cx="93.46" cy="100.18" r="0.96" fill="#6cbf2a"/><circle cx="99.27" cy="91.61" r="0.96" fill="#6cbf2a"/><circle cx="105.08" cy="83.86" r="0.96" fill="#6cbf2a"/><circle cx="110.89" cy="76.93" r="0.96" fill="#6cbf2a"/><circle cx="116.70" cy="70.88" r="0.96" fill="#6cbf2a"/><circle cx="122.51" cy="65.74" r="0.96" fill="#6cbf2a"/><circle cx="128.32" cy="61.54" r="0.96" fill="#6cbf2a"/><circle cx="134.13" cy="58.33" r="0.96" fill="#6cbf2a"/><circle cx="139.94" cy="56.13" r="0.96" fill="#6cbf2a"/><circle cx="145.75" cy="55.04" r="0.96" fill="#6cbf2a"/><circle cx="151.56" cy="55.18" r="0.96" fill="#6cbf2a"/><circle cx="157.37" cy="57.40" r="0.96" fill="#6cbf2a"/><circle cx="163.18" cy="61.31" r="0.96" fill="#6cbf2a"/><circle cx="168.99" cy="66.41" r="0.96" fill="#6cbf2a"/><circle cx="174.80" cy="72.15" r="0.96" fill="#6cbf2a"/><circle cx="180.61" cy="78.00" r="0.96" fill="#6cbf2a"/><circle cx="186.42" cy="84.31" r="0.96" fill="#6cbf2a"/><circle cx="192.23" cy="92.05" r="0.96" fill="#6cbf2a"/><circle cx="198.04" cy="100.87" r="0.96" fill="#6cbf2a"/><circle cx="203.85" cy="110.43" r="0.96" fill="#6cbf2a"/><circle cx="209.66" cy="120.37" r="0.96" fill="#6cbf2a"/><circle cx="215.47" cy="130.35" r="0.96" fill="#6cbf2a"/><circle cx="221.28" cy="140.00" r="0.96" fill="#6cbf2a"/><circle cx="227.09" cy="149.58" r="0.96" fill="#6cbf2a"/><circle cx="232.90" cy="159.41" r="0.96" fill="#6cbf2a"/><circle cx="238.71" cy="169.31" r="0.96" fill="#6cbf2a"/><circle cx="244.52" cy="179.28" r="0.96" fill="#6cbf2a"/><circle cx="250.33" cy="189.69" r="0.96" fill="#6cbf2a"/><circle cx="256.14" cy="199.60" r="0.96" fill="#6cbf2a"/><circle cx="261.95" cy="208.02" r="0.96" fill="#6cbf2a"/><circle cx="267.76" cy="215.41" r="0.96" fill="#6cbf2a"/><circle cx="273.57" cy="222.17" r="0.96" fill="#6cbf2a"/><circle cx="279.38" cy="228.12" r="0.96" fill="#6cbf2a"/><circle cx="285.19" cy="233.10" r="0.96" fill="#6cbf2a"/>
<polyline points="29.55,239.75 35.36,224.05 41.17,208.88 46.98,194.26 52.79,180.22 58.60,166.79 64.41,154.00 70.22,141.88 76.03,130.46 81.84,119.78 87.65,109.88 93.46,100.79 99.27,92.57 105.08,85.25 110.89,78.89 116.70,73.54 122.51,69.27 128.32,66.13 134.13,64.18 139.94,63.53 145.75,64.65 151.56,67.68 157.37,72.07 163.18,77.29 168.99,82.78 174.80,88.40 180.61,95.29 186.42,103.28 192.23,112.06 198.04,121.32 203.85,130.74 209.66,140.00 215.47,149.43 221.28,159.31 227.09,169.30 232.90,179.41 238.71,190.30 244.52,200.33 250.33,207.72 256.14,213.79 261.95,219.46 267.76,224.48 273.57,228.60 279.38,231.56 285.19,233.10" fill="none" stroke="#929292" stroke-width="0.7" stroke-linejoin="round"/>
<path d="M34.16 222.85L36.56 225.25M36.56 222.85L34.16 225.25" stroke="#6a6a6a" stroke-width="0.8"/><path d="M39.97 207.68L42.37 210.08M42.37 207.68L39.97 210.08" stroke="#6a6a6a" stroke-width="0.8"/><path d="M45.78 193.06L48.18 195.46M48.18 193.06L45.78 195.46" stroke="#6a6a6a" stroke-width="0.8"/><path d="M51.59 179.02L53.99 181.42M53.99 179.02L51.59 181.42" stroke="#6a6a6a" stroke-width="0.8"/><path d="M57.40 165.59L59.80 167.99M59.80 165.59L57.40 167.99" stroke="#6a6a6a" stroke-width="0.8"/><path d="M63.21 152.80L65.61 155.20M65.61 152.80L63.21 155.20" stroke="#6a6a6a" stroke-width="0.8"/><path d="M69.02 140.68L71.42 143.08M71.42 140.68L69.02 143.08" stroke="#6a6a6a" stroke-width="0.8"/><path d="M74.83 129.26L77.23 131.66M77.23 129.26L74.83 131.66" stroke="#6a6a6a" stroke-width="0.8"/><path d="M80.64 118.58L83.04 120.98M83.04 118.58L80.64 120.98" stroke="#6a6a6a" stroke-width="0.8"/><path d="M86.45 108.68L88.85 111.08M88.85 108.68L86.45 111.08" stroke="#6a6a6a" stroke-width="0.8"/><path d="M92.26 99.59L94.66 101.99M94.66 99.59L92.26 101.99" stroke="#6a6a6a" stroke-width="0.8"/><path d="M98.07 91.37L100.47 93.77M100.47 91.37L98.07 93.77" stroke="#6a6a6a" stroke-width="0.8"/><path d="M103.88 84.05L106.28 86.45M106.28 84.05L103.88 86.45" stroke="#6a6a6a" stroke-width="0.8"/><path d="M109.69 77.69L112.09 80.09M112.09 77.69L109.69 80.09" stroke="#6a6a6a" stroke-width="0.8"/><path d="M115.50 72.34L117.90 74.74M117.90 72.34L115.50 74.74" stroke="#6a6a6a" stroke-width="0.8"/><path d="M121.31 68.07L123.71 70.47M123.71 68.07L121.31 70.47" stroke="#6a6a6a" stroke-width="0.8"/><path d="M127.12 64.93L129.52 67.33M129.52 64.93L127.12 67.33" stroke="#6a6a6a" stroke-width="0.8"/><path d="M132.93 62.98L135.33 65.38M135.33 62.98L132.93 65.38" stroke="#6a6a6a" stroke-width="0.8"/><path d="M138.74 62.33L141.14 64.73M141.14 62.33L138.74 64.73" stroke="#6a6a6a" stroke-width="0.8"/><path d="M144.55 63.45L146.95 65.85M146.95 63.45L144.55 65.85" stroke="#6a6a6a" stroke-width="0.8"/><path d="M150.36 66.48L152.76 68.88M152.76 66.48L150.36 68.88" stroke="#6a6a6a" stroke-width="0.8"/><path d="M156.17 70.87L158.57 73.27M158.57 70.87L156.17 73.27" stroke="#6a6a6a" stroke-width="0.8"/><path d="M161.98 76.09L164.38 78.49M164.38 76.09L161.98 78.49" stroke="#6a6a6a" stroke-width="0.8"/><path d="M167.79 81.58L170.19 83.98M170.19 81.58L167.79 83.98" stroke="#6a6a6a" stroke-width="0.8"/><path d="M173.60 87.20L176.00 89.60M176.00 87.20L173.60 89.60" stroke="#6a6a6a" stroke-width="0.8"/><path d="M179.41 94.09L181.81 96.49M181.81 94.09L179.41 96.49" stroke="#6a6a6a" stroke-width="0.8"/><path d="M185.22 102.08L187.62 104.48M187.62 102.08L185.22 104.48" stroke="#6a6a6a" stroke-width="0.8"/><path d="M191.03 110.86L193.43 113.26M193.43 110.86L191.03 113.26" stroke="#6a6a6a" stroke-width="0.8"/><path d="M196.84 120.12L199.24 122.52M199.24 120.12L196.84 122.52" stroke="#6a6a6a" stroke-width="0.8"/><path d="M202.65 129.54L205.05 131.94M205.05 129.54L202.65 131.94" stroke="#6a6a6a" stroke-width="0.8"/><path d="M208.46 138.80L210.86 141.20M210.86 138.80L208.46 141.20" stroke="#6a6a6a" stroke-width="0.8"/><path d="M214.27 148.23L216.67 150.63M216.67 148.23L214.27 150.63" stroke="#6a6a6a" stroke-width="0.8"/><path d="M220.08 158.11L222.48 160.51M222.48 158.11L220.08 160.51" stroke="#6a6a6a" stroke-width="0.8"/><path d="M225.89 168.10L228.29 170.50M228.29 168.10L225.89 170.50" stroke="#6a6a6a" stroke-width="0.8"/><path d="M231.70 178.21L234.10 180.61M234.10 178.21L231.70 180.61" stroke="#6a6a6a" stroke-width="0.8"/><path d="M237.51 189.10L239.91 191.50M239.91 189.10L237.51 191.50" stroke="#6a6a6a" stroke-width="0.8"/><path d="M243.32 199.13L245.72 201.53M245.72 199.13L243.32 201.53" stroke="#6a6a6a" stroke-width="0.8"/><path d="M249.13 206.52L251.53 208.92M251.53 206.52L249.13 208.92" stroke="#6a6a6a" stroke-width="0.8"/><path d="M254.94 212.59L257.34 214.99M257.34 212.59L254.94 214.99" stroke="#6a6a6a" stroke-width="0.8"/><path d="M260.75 218.26L263.15 220.66M263.15 218.26L260.75 220.66" stroke="#6a6a6a" stroke-width="0.8"/><path d="M266.56 223.28L268.96 225.68M268.96 223.28L266.56 225.68" stroke="#6a6a6a" stroke-width="0.8"/><path d="M272.37 227.40L274.77 229.80M274.77 227.40L272.37 229.80" stroke="#6a6a6a" stroke-width="0.8"/><path d="M278.18 230.36L280.58 232.76M280.58 230.36L278.18 232.76" stroke="#6a6a6a" stroke-width="0.8"/><path d="M283.99 231.90L286.39 234.30M286.39 231.90L283.99 234.30" stroke="#6a6a6a" stroke-width="0.8"/>
<polyline points="29.55,239.75 35.36,223.65 41.17,207.94 46.98,192.66 52.79,177.85 58.60,163.55 64.41,149.80 70.22,136.65 76.03,124.17 81.84,112.42 87.65,101.47 93.46,91.41 99.27,82.34 105.08,74.37 110.89,67.63 116.70,62.28 122.51,58.48 128.32,56.50 134.13,56.49 139.94,58.58 145.75,62.28 151.56,67.12 157.37,72.60 163.18,78.24 168.99,84.12 174.80,91.31 180.61,99.56 186.42,108.57 192.23,118.05 198.04,127.70 203.85,137.22 209.66,146.59 215.47,156.37 221.28,166.33 227.09,176.24 232.90,186.83 238.71,197.18 244.52,205.78 250.33,212.56 256.14,218.93 261.95,224.71 267.76,229.69 273.57,233.66 279.38,236.42" fill="none" stroke="#f58a8a" stroke-width="1.4" stroke-opacity="0.45" stroke-linejoin="round"/>
<circle cx="35.36" cy="223.65" r="1.20" fill="#f0404c"/><circle cx="41.17" cy="207.94" r="1.20" fill="#f0404c"/><circle cx="46.98" cy="192.66" r="1.20" fill="#f0404c"/><circle cx="52.79" cy="177.85" r="1.20" fill="#f0404c"/><circle cx="58.60" cy="163.55" r="1.20" fill="#f0404c"/><circle cx="64.41" cy="149.80" r="1.20" fill="#f0404c"/><circle cx="70.22" cy="136.65" r="1.20" fill="#f0404c"/><circle cx="76.03" cy="124.17" r="1.20" fill="#f0404c"/><circle cx="81.84" cy="112.42" r="1.20" fill="#f0404c"/><circle cx="87.65" cy="101.47" r="1.20" fill="#f0404c"/><circle cx="93.46" cy="91.41" r="1.20" fill="#f0404c"/><circle cx="99.27" cy="82.34" r="1.20" fill="#f0404c"/><circle cx="105.08" cy="74.37" r="1.20" fill="#f0404c"/><circle cx="110.89" cy="67.63" r="1.20" fill="#f0404c"/><circle cx="116.70" cy="62.28" r="1.20" fill="#f0404c"/><circle cx="122.51" cy="58.48" r="1.20" fill="#f0404c"/><circle cx="128.32" cy="56.50" r="1.20" fill="#f0404c"/><circle cx="134.13" cy="56.49" r="1.20" fill="#f0404c"/><circle cx="139.94" cy="58.58" r="1.20" fill="#f0404c"/><circle cx="145.75" cy="62.28" r="1.20" fill="#f0404c"/><circle cx="151.56" cy="67.12" r="1.20" fill="#f0404c"/><circle cx="157.37" cy="72.60" r="1.20" fill="#f0404c"/><circle cx="163.18" cy="78.24" r="1.20" fill="#f0404c"/><circle cx="168.99" cy="84.12" r="1.20" fill="#f0404c"/><circle cx="174.80" cy="91.31" r="1.20" fill="#f0404c"/><circle cx="180.61" cy="99.56" r="1.20" fill="#f0404c"/><circle cx="186.42" cy="108.57" r="1.20" fill="#f0404c"/><circle cx="192.23" cy="118.05" r="1.20" fill="#f0404c"/><circle cx="198.04" cy="127.70" r="1.20" fill="#f0404c"/><circle cx="203.85" cy="137.22" r="1.20" fill="#f0404c"/><circle cx="209.66" cy="146.59" r="1.20" fill="#f0404c"/><circle cx="215.47" cy="156.37" r="1.20" fill="#f0404c"/><circle cx="221.28" cy="166.33" r="1.20" fill="#f0404c"/><circle cx="227.09" cy="176.24" r="1.20" fill="#f0404c"/><circle cx="232.90" cy="186.83" r="1.20" fill="#f0404c"/><circle cx="238.71" cy="197.18" r="1.20" fill="#f0404c"/><circle cx="244.52" cy="205.78" r="1.20" fill="#f0404c"/><circle cx="250.33" cy="212.56" r="1.20" fill="#f0404c"/><circle cx="256.14" cy="218.93" r="1.20" fill="#f0404c"/><circle cx="261.95" cy="224.71" r="1.20" fill="#f0404c"/><circle cx="267.76" cy="229.69" r="1.20" fill="#f0404c"/><circle cx="273.57" cy="233.66" r="1.20" fill="#f0404c"/><circle cx="279.38" cy="236.42" r="1.20" fill="#f0404c"/>
<polyline points="29.55,239.75 35.36,224.70 41.17,210.14 46.98,196.10 52.79,182.60 58.60,169.66 64.41,157.31 70.22,145.57 76.03,134.46 81.84,124.02 87.65,114.29 93.46,105.28 99.27,97.03 105.08,89.59 110.89,82.98 116.70,77.26 122.51,72.46 128.32,68.64 134.13,65.84 139.94,64.10 145.75,63.53 151.56,65.36 157.37,70.10 163.18,76.59 168.99,83.66 174.80,91.52 180.61,101.75 186.42,113.40 192.23,125.44 198.04,136.85 203.85,147.04 209.66,156.80 215.47,166.44 221.28,176.24 227.09,186.86 232.90,197.23 238.71,205.79 244.52,212.48 250.33,218.77 256.14,224.45 261.95,229.32 267.76,233.16 273.57,235.76" fill="none" stroke="#6a9cf0" stroke-width="0.7" stroke-linejoin="round"/>

<polyline points="29.55,239.75 35.36,223.34 41.17,206.50 46.98,187.90 52.79,172.00 58.60,161.12 64.41,152.15 70.22,143.62 76.03,134.24 81.84,124.58 87.65,116.06 93.46,108.80 99.27,102.32 105.08,97.19 110.89,93.64 116.70,90.79 122.51,88.22 128.32,85.55 134.13,82.31 139.94,79.30 145.75,76.82 151.56,75.15 157.37,74.83 163.18,74.83 168.99,76.58 174.80,80.34 180.61,86.80 186.42,95.23 192.23,104.76 198.04,113.95 203.85,123.38 209.66,133.25 215.47,143.38 221.28,153.30 227.09,162.87 232.90,172.27 238.71,181.54 244.52,190.72 250.33,199.82 256.14,208.78 261.95,217.55 267.76,226.09 273.57,234.43" fill="none" stroke="#6cc294" stroke-width="0.7" stroke-linejoin="round"/>
<circle cx="35.36" cy="223.34" r="0.60" fill="#33a867"/><circle cx="41.17" cy="206.50" r="0.60" fill="#33a867"/><circle cx="46.98" cy="187.90" r="0.60" fill="#33a867"/><circle cx="52.79" cy="172.00" r="0.60" fill="#33a867"/><circle cx="58.60" cy="161.12" r="0.60" fill="#33a867"/><circle cx="64.41" cy="152.15" r="0.60" fill="#33a867"/><circle cx="70.22" cy="143.62" r="0.60" fill="#33a867"/><circle cx="76.03" cy="134.24" r="0.60" fill="#33a867"/><circle cx="81.84" cy="124.58" r="0.60" fill="#33a867"/><circle cx="87.65" cy="116.06" r="0.60" fill="#33a867"/><circle cx="93.46" cy="108.80" r="0.60" fill="#33a867"/><circle cx="99.27" cy="102.32" r="0.60" fill="#33a867"/><circle cx="105.08" cy="97.19" r="0.60" fill="#33a867"/><circle cx="110.89" cy="93.64" r="0.60" fill="#33a867"/><circle cx="116.70" cy="90.79" r="0.60" fill="#33a867"/><circle cx="122.51" cy="88.22" r="0.60" fill="#33a867"/><circle cx="128.32" cy="85.55" r="0.60" fill="#33a867"/><circle cx="134.13" cy="82.31" r="0.60" fill="#33a867"/><circle cx="139.94" cy="79.30" r="0.60" fill="#33a867"/><circle cx="145.75" cy="76.82" r="0.60" fill="#33a867"/><circle cx="151.56" cy="75.15" r="0.60" fill="#33a867"/><circle cx="157.37" cy="74.83" r="0.60" fill="#33a867"/><circle cx="163.18" cy="74.83" r="0.60" fill="#33a867"/><circle cx="168.99" cy="76.58" r="0.60" fill="#33a867"/><circle cx="174.80" cy="80.34" r="0.60" fill="#33a867"/><circle cx="180.61" cy="86.80" r="0.60" fill="#33a867"/><circle cx="186.42" cy="95.23" r="0.60" fill="#33a867"/><circle cx="192.23" cy="104.76" r="0.60" fill="#33a867"/><circle cx="198.04" cy="113.95" r="0.60" fill="#33a867"/><circle cx="203.85" cy="123.38" r="0.60" fill="#33a867"/><circle cx="209.66" cy="133.25" r="0.60" fill="#33a867"/><circle cx="215.47" cy="143.38" r="0.60" fill="#33a867"/><circle cx="221.28" cy="153.30" r="0.60" fill="#33a867"/><circle cx="227.09" cy="162.87" r="0.60" fill="#33a867"/><circle cx="232.90" cy="172.27" r="0.60" fill="#33a867"/><circle cx="238.71" cy="181.54" r="0.60" fill="#33a867"/><circle cx="244.52" cy="190.72" r="0.60" fill="#33a867"/><circle cx="250.33" cy="199.82" r="0.60" fill="#33a867"/><circle cx="256.14" cy="208.78" r="0.60" fill="#33a867"/><circle cx="261.95" cy="217.55" r="0.60" fill="#33a867"/><circle cx="267.76" cy="226.09" r="0.60" fill="#33a867"/><circle cx="273.57" cy="234.43" r="0.60" fill="#33a867"/>
<polyline points="29.55,239.75 35.36,221.63 41.17,203.84 46.98,186.00 52.79,169.26 58.60,154.57 64.41,141.04 70.22,128.24 76.03,116.13 81.84,104.75 87.65,93.72 93.46,84.14 99.27,75.47 105.08,70.84 110.89,72.17 116.70,70.17 122.51,70.17 128.32,70.17 134.13,71.50 139.94,73.50 145.75,76.16 151.56,81.48 157.37,88.13 163.18,95.45 168.99,104.33 174.80,114.27 180.61,124.71 186.42,135.05 192.23,144.83 198.04,154.39 203.85,163.85 209.66,173.25 215.47,182.78 221.28,192.30 227.09,201.31 232.90,209.54 238.71,217.33 244.52,224.65 250.33,231.44" fill="none" stroke="#bb8af3" stroke-width="0.7" stroke-linejoin="round"/>
<path d="M35.36 220.07L36.68 221.63L35.36 223.19L34.04 221.63Z" fill="#a45ff0"/><path d="M41.17 202.28L42.49 203.84L41.17 205.40L39.85 203.84Z" fill="#a45ff0"/><path d="M46.98 184.44L48.30 186.00L46.98 187.56L45.66 186.00Z" fill="#a45ff0"/><path d="M52.79 167.70L54.11 169.26L52.79 170.82L51.47 169.26Z" fill="#a45ff0"/><path d="M58.60 153.01L59.92 154.57L58.60 156.13L57.28 154.57Z" fill="#a45ff0"/><path d="M64.41 139.48L65.73 141.04L64.41 142.60L63.09 141.04Z" fill="#a45ff0"/><path d="M70.22 126.68L71.54 128.24L70.22 129.80L68.90 128.24Z" fill="#a45ff0"/><path d="M76.03 114.57L77.35 116.13L76.03 117.69L74.71 116.13Z" fill="#a45ff0"/><path d="M81.84 103.19L83.16 104.75L81.84 106.31L80.52 104.75Z" fill="#a45ff0"/><path d="M87.65 92.16L88.97 93.72L87.65 95.28L86.33 93.72Z" fill="#a45ff0"/><path d="M93.46 82.58L94.78 84.14L93.46 85.70L92.14 84.14Z" fill="#a45ff0"/><path d="M99.27 73.91L100.59 75.47L99.27 77.03L97.95 75.47Z" fill="#a45ff0"/><path d="M105.08 69.28L106.40 70.84L105.08 72.40L103.76 70.84Z" fill="#a45ff0"/><path d="M110.89 70.61L112.21 72.17L110.89 73.73L109.57 72.17Z" fill="#a45ff0"/><path d="M116.70 68.61L118.02 70.17L116.70 71.73L115.38 70.17Z" fill="#a45ff0"/><path d="M122.51 68.61L123.83 70.17L122.51 71.73L121.19 70.17Z" fill="#a45ff0"/><path d="M128.32 68.61L129.64 70.17L128.32 71.73L127.00 70.17Z" fill="#a45ff0"/><path d="M134.13 69.94L135.45 71.50L134.13 73.06L132.81 71.50Z" fill="#a45ff0"/><path d="M139.94 71.94L141.26 73.50L139.94 75.06L138.62 73.50Z" fill="#a45ff0"/><path d="M145.75 74.60L147.07 76.16L145.75 77.72L144.43 76.16Z" fill="#a45ff0"/><path d="M151.56 79.92L152.88 81.48L151.56 83.04L150.24 81.48Z" fill="#a45ff0"/><path d="M157.37 86.57L158.69 88.13L157.37 89.69L156.05 88.13Z" fill="#a45ff0"/><path d="M163.18 93.89L164.50 95.45L163.18 97.01L161.86 95.45Z" fill="#a45ff0"/><path d="M168.99 102.77L170.31 104.33L168.99 105.89L167.67 104.33Z" fill="#a45ff0"/><path d="M174.80 112.71L176.12 114.27L174.80 115.83L173.48 114.27Z" fill="#a45ff0"/><path d="M180.61 123.15L181.93 124.71L180.61 126.27L179.29 124.71Z" fill="#a45ff0"/><path d="M186.42 133.49L187.74 135.05L186.42 136.61L185.10 135.05Z" fill="#a45ff0"/><path d="M192.23 143.27L193.55 144.83L192.23 146.39L190.91 144.83Z" fill="#a45ff0"/><path d="M198.04 152.83L199.36 154.39L198.04 155.95L196.72 154.39Z" fill="#a45ff0"/><path d="M203.85 162.29L205.17 163.85L203.85 165.41L202.53 163.85Z" fill="#a45ff0"/><path d="M209.66 171.69L210.98 173.25L209.66 174.81L208.34 173.25Z" fill="#a45ff0"/><path d="M215.47 181.22L216.79 182.78L215.47 184.34L214.15 182.78Z" fill="#a45ff0"/><path d="M221.28 190.74L222.60 192.30L221.28 193.86L219.96 192.30Z" fill="#a45ff0"/><path d="M227.09 199.75L228.41 201.31L227.09 202.87L225.77 201.31Z" fill="#a45ff0"/><path d="M232.90 207.98L234.22 209.54L232.90 211.10L231.58 209.54Z" fill="#a45ff0"/><path d="M238.71 215.77L240.03 217.33L238.71 218.89L237.39 217.33Z" fill="#a45ff0"/><path d="M244.52 223.09L245.84 224.65L244.52 226.21L243.20 224.65Z" fill="#a45ff0"/><path d="M250.33 229.88L251.65 231.44L250.33 233.00L249.01 231.44Z" fill="#a45ff0"/>
<polyline points="29.55,239.75 35.36,225.20 41.17,210.49 46.98,195.36 52.79,180.56 58.60,166.55 64.41,153.22 70.22,141.23 76.03,130.57 81.84,120.72 87.65,111.13 93.46,102.76 99.27,95.90 105.08,90.79 110.89,88.05 116.70,85.47 122.51,81.15 128.32,77.49 134.13,76.49 139.94,76.49 145.75,77.49 151.56,80.15 157.37,83.81 163.18,90.13 168.99,95.45 174.80,104.65 180.61,117.06 186.42,130.33 192.23,142.19 198.04,152.88 203.85,163.21 209.66,173.25 215.47,183.15 221.28,192.83 227.09,202.09 232.90,210.77 238.71,219.03 244.52,226.86 250.33,234.23" fill="none" stroke="#dcb45a" stroke-width="1.4" stroke-opacity="0.45" stroke-linejoin="round"/>
<circle cx="35.36" cy="225.20" r="1.20" fill="#d9a020"/><circle cx="41.17" cy="210.49" r="1.20" fill="#d9a020"/><circle cx="46.98" cy="195.36" r="1.20" fill="#d9a020"/><circle cx="52.79" cy="180.56" r="1.20" fill="#d9a020"/><circle cx="58.60" cy="166.55" r="1.20" fill="#d9a020"/><circle cx="64.41" cy="153.22" r="1.20" fill="#d9a020"/><circle cx="70.22" cy="141.23" r="1.20" fill="#d9a020"/><circle cx="76.03" cy="130.57" r="1.20" fill="#d9a020"/><circle cx="81.84" cy="120.72" r="1.20" fill="#d9a020"/><circle cx="87.65" cy="111.13" r="1.20" fill="#d9a020"/><circle cx="93.46" cy="102.76" r="1.20" fill="#d9a020"/><circle cx="99.27" cy="95.90" r="1.20" fill="#d9a020"/><circle cx="105.08" cy="90.79" r="1.20" fill="#d9a020"/><circle cx="110.89" cy="88.05" r="1.20" fill="#d9a020"/><circle cx="116.70" cy="85.47" r="1.20" fill="#d9a020"/><circle cx="122.51" cy="81.15" r="1.20" fill="#d9a020"/><circle cx="128.32" cy="77.49" r="1.20" fill="#d9a020"/><circle cx="134.13" cy="76.49" r="1.20" fill="#d9a020"/><circle cx="139.94" cy="76.49" r="1.20" fill="#d9a020"/><circle cx="145.75" cy="77.49" r="1.20" fill="#d9a020"/><circle cx="151.56" cy="80.15" r="1.20" fill="#d9a020"/><circle cx="157.37" cy="83.81" r="1.20" fill="#d9a020"/><circle cx="163.18" cy="90.13" r="1.20" fill="#d9a020"/><circle cx="168.99" cy="95.45" r="1.20" fill="#d9a020"/><circle cx="174.80" cy="104.65" r="1.20" fill="#d9a020"/><circle cx="180.61" cy="117.06" r="1.20" fill="#d9a020"/><circle cx="186.42" cy="130.33" r="1.20" fill="#d9a020"/><circle cx="192.23" cy="142.19" r="1.20" fill="#d9a020"/><circle cx="198.04" cy="152.88" r="1.20" fill="#d9a020"/><circle cx="203.85" cy="163.21" r="1.20" fill="#d9a020"/><circle cx="209.66" cy="173.25" r="1.20" fill="#d9a020"/><circle cx="215.47" cy="183.15" r="1.20" fill="#d9a020"/><circle cx="221.28" cy="192.83" r="1.20" fill="#d9a020"/><circle cx="227.09" cy="202.09" r="1.20" fill="#d9a020"/><circle cx="232.90" cy="210.77" r="1.20" fill="#d9a020"/><circle cx="238.71" cy="219.03" r="1.20" fill="#d9a020"/><circle cx="244.52" cy="226.86" r="1.20" fill="#d9a020"/><circle cx="250.33" cy="234.23" r="1.20" fill="#d9a020"/>
<polyline points="29.55,239.75 35.36,225.54 41.17,211.16 46.98,196.30 52.79,181.90 58.60,168.43 64.41,155.81 70.22,144.94 76.03,135.74 81.84,127.37 87.65,119.33 93.46,112.07 99.27,105.89 105.08,102.20 110.89,96.11 116.70,92.98 122.51,90.37 128.32,88.13 134.13,86.80 139.94,85.47 145.75,85.47 151.56,86.47 157.37,89.46 163.18,94.12 168.99,100.07 174.80,106.90 180.61,114.45 186.42,122.58 192.23,131.15 198.04,140.00 203.85,149.74 209.66,160.45 215.47,171.18 221.28,181.62 227.09,192.15 232.90,202.04 238.71,210.68 244.52,218.57 250.33,225.75 256.14,232.10" fill="none" stroke="#55d8de" stroke-width="1.4" stroke-opacity="0.45" stroke-linejoin="round"/>
<path d="M35.36 224.10L36.68 226.50L34.04 226.50Z" fill="#1ecbd2"/><path d="M41.17 209.72L42.49 212.12L39.85 212.12Z" fill="#1ecbd2"/><path d="M46.98 194.86L48.30 197.26L45.66 197.26Z" fill="#1ecbd2"/><path d="M52.79 180.46L54.11 182.86L51.47 182.86Z" fill="#1ecbd2"/><path d="M58.60 166.99L59.92 169.39L57.28 169.39Z" fill="#1ecbd2"/><path d="M64.41 154.37L65.73 156.77L63.09 156.77Z" fill="#1ecbd2"/><path d="M70.22 143.50L71.54 145.90L68.90 145.90Z" fill="#1ecbd2"/><path d="M76.03 134.30L77.35 136.70L74.71 136.70Z" fill="#1ecbd2"/><path d="M81.84 125.93L83.16 128.33L80.52 128.33Z" fill="#1ecbd2"/><path d="M87.65 117.89L88.97 120.29L86.33 120.29Z" fill="#1ecbd2"/><path d="M93.46 110.63L94.78 113.03L92.14 113.03Z" fill="#1ecbd2"/><path d="M99.27 104.45L100.59 106.85L97.95 106.85Z" fill="#1ecbd2"/><path d="M105.08 100.76L106.40 103.16L103.76 103.16Z" fill="#1ecbd2"/><path d="M110.89 94.67L112.21 97.07L109.57 97.07Z" fill="#1ecbd2"/><path d="M116.70 91.54L118.02 93.94L115.38 93.94Z" fill="#1ecbd2"/><path d="M122.51 88.93L123.83 91.33L121.19 91.33Z" fill="#1ecbd2"/><path d="M128.32 86.69L129.64 89.09L127.00 89.09Z" fill="#1ecbd2"/><path d="M134.13 85.36L135.45 87.76L132.81 87.76Z" fill="#1ecbd2"/><path d="M139.94 84.03L141.26 86.43L138.62 86.43Z" fill="#1ecbd2"/><path d="M145.75 84.03L147.07 86.43L144.43 86.43Z" fill="#1ecbd2"/><path d="M151.56 85.03L152.88 87.43L150.24 87.43Z" fill="#1ecbd2"/><path d="M157.37 88.02L158.69 90.42L156.05 90.42Z" fill="#1ecbd2"/><path d="M163.18 92.68L164.50 95.08L161.86 95.08Z" fill="#1ecbd2"/><path d="M168.99 98.63L170.31 101.03L167.67 101.03Z" fill="#1ecbd2"/><path d="M174.80 105.46L176.12 107.86L173.48 107.86Z" fill="#1ecbd2"/><path d="M180.61 113.01L181.93 115.41L179.29 115.41Z" fill="#1ecbd2"/><path d="M186.42 121.14L187.74 123.54L185.10 123.54Z" fill="#1ecbd2"/><path d="M192.23 129.71L193.55 132.11L190.91 132.11Z" fill="#1ecbd2"/><path d="M198.04 138.56L199.36 140.96L196.72 140.96Z" fill="#1ecbd2"/><path d="M203.85 148.30L205.17 150.70L202.53 150.70Z" fill="#1ecbd2"/><path d="M209.66 159.01L210.98 161.41L208.34 161.41Z" fill="#1ecbd2"/><path d="M215.47 169.74L216.79 172.14L214.15 172.14Z" fill="#1ecbd2"/><path d="M221.28 180.18L222.60 182.58L219.96 182.58Z" fill="#1ecbd2"/><path d="M227.09 190.71L228.41 193.11L225.77 193.11Z" fill="#1ecbd2"/><path d="M232.90 200.60L234.22 203.00L231.58 203.00Z" fill="#1ecbd2"/><path d="M238.71 209.24L240.03 211.64L237.39 211.64Z" fill="#1ecbd2"/><path d="M244.52 217.13L245.84 219.53L243.20 219.53Z" fill="#1ecbd2"/><path d="M250.33 224.31L251.65 226.71L249.01 226.71Z" fill="#1ecbd2"/><path d="M256.14 230.66L257.46 233.06L254.82 233.06Z" fill="#1ecbd2"/></g>
<g clip-path="url(#cr)"><polyline points="384.80,236.60 388.42,224.26 392.05,212.02 395.67,199.88 399.29,187.87 402.92,175.95 406.54,164.09 410.16,152.28 413.78,140.52 417.41,128.77 421.03,117.14 424.65,105.51 428.28,93.44 431.90,80.40 435.52,67.43 439.14,55.37 442.77,47.36 446.39,37.20 450.01,27.44 453.64,16.76 457.26,8.62 460.88,9.31 464.51,10.01 468.13,12.57 471.75,14.43 475.38,19.07 479.00,24.19 482.62,30.23 486.24,36.82 489.87,43.74 493.49,50.89 497.11,58.14 500.74,65.39 504.36,72.53 507.98,79.76 511.61,87.22 515.23,94.69 518.85,101.94 522.47,108.75 526.10,114.90 529.72,120.27 533.34,125.09 536.97,129.70 540.59,134.29 544.21,138.73 547.84,142.92 551.46,146.75 555.08,150.34 558.70,153.87 562.33,157.35 565.95,160.78 569.57,164.28 573.20,167.84 576.82,171.59 580.44,175.86 584.07,180.54 587.69,185.27 591.31,189.71 594.93,193.71 598.56,197.52 602.18,201.18 605.80,204.77 609.43,208.34 613.05,211.97 616.67,215.63 620.29,219.29 623.92,222.93 627.54,226.57 631.16,230.20 634.79,233.81" fill="none" stroke="#555555" stroke-width="0.7" stroke-linejoin="round"/>
<rect x="387.22" y="223.06" width="2.40" height="2.40" fill="#3a3a3a"/><rect x="390.85" y="210.82" width="2.40" height="2.40" fill="#3a3a3a"/><rect x="394.47" y="198.68" width="2.40" height="2.40" fill="#3a3a3a"/><rect x="398.09" y="186.67" width="2.40" height="2.40" fill="#3a3a3a"/><rect x="401.72" y="174.75" width="2.40" height="2.40" fill="#3a3a3a"/><rect x="405.34" y="162.89" width="2.40" height="2.40" fill="#3a3a3a"/><rect x="408.96" y="151.08" width="2.40" height="2.40" fill="#3a3a3a"/><rect x="412.58" y="139.32" width="2.40" height="2.40" fill="#3a3a3a"/><rect x="416.21" y="127.57" width="2.40" height="2.40" fill="#3a3a3a"/><rect x="419.83" y="115.94" width="2.40" height="2.40" fill="#3a3a3a"/><rect x="423.45" y="104.31" width="2.40" height="2.40" fill="#3a3a3a"/><rect x="427.08" y="92.24" width="2.40" height="2.40" fill="#3a3a3a"/><rect x="430.70" y="79.20" width="2.40" height="2.40" fill="#3a3a3a"/><rect x="434.32" y="66.23" width="2.40" height="2.40" fill="#3a3a3a"/><rect x="437.94" y="54.17" width="2.40" height="2.40" fill="#3a3a3a"/><rect x="441.57" y="46.16" width="2.40" height="2.40" fill="#3a3a3a"/><rect x="445.19" y="36.00" width="2.40" height="2.40" fill="#3a3a3a"/><rect x="448.81" y="26.24" width="2.40" height="2.40" fill="#3a3a3a"/><rect x="452.44" y="15.56" width="2.40" height="2.40" fill="#3a3a3a"/><rect x="456.06" y="7.42" width="2.40" height="2.40" fill="#3a3a3a"/><rect x="459.68" y="8.11" width="2.40" height="2.40" fill="#3a3a3a"/><rect x="463.31" y="8.81" width="2.40" height="2.40" fill="#3a3a3a"/><rect x="466.93" y="11.37" width="2.40" height="2.40" fill="#3a3a3a"/><rect x="470.55" y="13.23" width="2.40" height="2.40" fill="#3a3a3a"/><rect x="474.18" y="17.87" width="2.40" height="2.40" fill="#3a3a3a"/><rect x="477.80" y="22.99" width="2.40" height="2.40" fill="#3a3a3a"/><rect x="481.42" y="29.03" width="2.40" height="2.40" fill="#3a3a3a"/><rect x="485.04" y="35.62" width="2.40" height="2.40" fill="#3a3a3a"/><rect x="488.67" y="42.54" width="2.40" height="2.40" fill="#3a3a3a"/><rect x="492.29" y="49.69" width="2.40" height="2.40" fill="#3a3a3a"/><rect x="495.91" y="56.94" width="2.40" height="2.40" fill="#3a3a3a"/><rect x="499.54" y="64.19" width="2.40" height="2.40" fill="#3a3a3a"/><rect x="503.16" y="71.33" width="2.40" height="2.40" fill="#3a3a3a"/><rect x="506.78" y="78.56" width="2.40" height="2.40" fill="#3a3a3a"/><rect x="510.41" y="86.02" width="2.40" height="2.40" fill="#3a3a3a"/><rect x="514.03" y="93.49" width="2.40" height="2.40" fill="#3a3a3a"/><rect x="517.65" y="100.74" width="2.40" height="2.40" fill="#3a3a3a"/><rect x="521.27" y="107.55" width="2.40" height="2.40" fill="#3a3a3a"/><rect x="524.90" y="113.70" width="2.40" height="2.40" fill="#3a3a3a"/><rect x="528.52" y="119.07" width="2.40" height="2.40" fill="#3a3a3a"/><rect x="532.14" y="123.89" width="2.40" height="2.40" fill="#3a3a3a"/><rect x="535.77" y="128.50" width="2.40" height="2.40" fill="#3a3a3a"/><rect x="539.39" y="133.09" width="2.40" height="2.40" fill="#3a3a3a"/><rect x="543.01" y="137.53" width="2.40" height="2.40" fill="#3a3a3a"/><rect x="546.63" y="141.72" width="2.40" height="2.40" fill="#3a3a3a"/><rect x="550.26" y="145.55" width="2.40" height="2.40" fill="#3a3a3a"/><rect x="553.88" y="149.14" width="2.40" height="2.40" fill="#3a3a3a"/><rect x="557.50" y="152.67" width="2.40" height="2.40" fill="#3a3a3a"/><rect x="561.13" y="156.15" width="2.40" height="2.40" fill="#3a3a3a"/><rect x="564.75" y="159.58" width="2.40" height="2.40" fill="#3a3a3a"/><rect x="568.37" y="163.08" width="2.40" height="2.40" fill="#3a3a3a"/><rect x="572.00" y="166.64" width="2.40" height="2.40" fill="#3a3a3a"/><rect x="575.62" y="170.39" width="2.40" height="2.40" fill="#3a3a3a"/><rect x="579.24" y="174.66" width="2.40" height="2.40" fill="#3a3a3a"/><rect x="582.87" y="179.34" width="2.40" height="2.40" fill="#3a3a3a"/><rect x="586.49" y="184.07" width="2.40" height="2.40" fill="#3a3a3a"/><rect x="590.11" y="188.51" width="2.40" height="2.40" fill="#3a3a3a"/><rect x="593.73" y="192.51" width="2.40" height="2.40" fill="#3a3a3a"/><rect x="597.36" y="196.32" width="2.40" height="2.40" fill="#3a3a3a"/><rect x="600.98" y="199.98" width="2.40" height="2.40" fill="#3a3a3a"/><rect x="604.60" y="203.57" width="2.40" height="2.40" fill="#3a3a3a"/><rect x="608.23" y="207.14" width="2.40" height="2.40" fill="#3a3a3a"/><rect x="611.85" y="210.77" width="2.40" height="2.40" fill="#3a3a3a"/><rect x="615.47" y="214.43" width="2.40" height="2.40" fill="#3a3a3a"/><rect x="619.09" y="218.09" width="2.40" height="2.40" fill="#3a3a3a"/><rect x="622.72" y="221.73" width="2.40" height="2.40" fill="#3a3a3a"/><rect x="626.34" y="225.37" width="2.40" height="2.40" fill="#3a3a3a"/><rect x="629.96" y="229.00" width="2.40" height="2.40" fill="#3a3a3a"/><rect x="633.59" y="232.61" width="2.40" height="2.40" fill="#3a3a3a"/>
<polyline points="384.80,236.60 388.42,226.00 392.05,215.40 395.67,204.81 399.29,194.22 402.92,183.64 406.54,173.07 410.16,162.51 413.78,151.96 417.41,141.43 421.03,130.91 424.65,120.42 428.28,109.96 431.90,99.53 435.52,89.15 439.14,78.84 442.77,68.63 446.39,58.57 450.01,48.74 453.64,39.31 457.26,30.70 460.88,24.22 464.51,23.03 468.13,24.75 471.75,27.78 475.38,31.66 479.00,35.96 482.62,40.56 486.24,46.84 489.87,54.39 493.49,62.47 497.11,70.32 500.74,77.38 504.36,84.33 507.98,91.25 511.61,98.09 515.23,104.78 518.85,111.25 522.47,117.43 526.10,123.30 529.72,128.97 533.34,134.47 536.97,139.82 540.59,145.02 544.21,150.09 547.84,155.03 551.46,159.85 555.08,164.56 558.70,169.17 562.33,173.63 565.95,177.94 569.57,182.13 573.20,186.18 576.82,190.12 580.44,193.96 584.07,197.72 587.69,201.38 591.31,204.94 594.93,208.40 598.56,211.74 602.18,214.96 605.80,218.11 609.43,221.18 613.05,224.17 616.67,227.07 620.29,229.88 623.92,232.59 627.54,235.21" fill="none" stroke="#f77d7d" stroke-width="0.7" stroke-linejoin="round"/>
<circle cx="388.42" cy="226.00" r="1.20" fill="#f03a3a"/><circle cx="392.05" cy="215.40" r="1.20" fill="#f03a3a"/><circle cx="395.67" cy="204.81" r="1.20" fill="#f03a3a"/><circle cx="399.29" cy="194.22" r="1.20" fill="#f03a3a"/><circle cx="402.92" cy="183.64" r="1.20" fill="#f03a3a"/><circle cx="406.54" cy="173.07" r="1.20" fill="#f03a3a"/><circle cx="410.16" cy="162.51" r="1.20" fill="#f03a3a"/><circle cx="413.78" cy="151.96" r="1.20" fill="#f03a3a"/><circle cx="417.41" cy="141.43" r="1.20" fill="#f03a3a"/><circle cx="421.03" cy="130.91" r="1.20" fill="#f03a3a"/><circle cx="424.65" cy="120.42" r="1.20" fill="#f03a3a"/><circle cx="428.28" cy="109.96" r="1.20" fill="#f03a3a"/><circle cx="431.90" cy="99.53" r="1.20" fill="#f03a3a"/><circle cx="435.52" cy="89.15" r="1.20" fill="#f03a3a"/><circle cx="439.14" cy="78.84" r="1.20" fill="#f03a3a"/><circle cx="442.77" cy="68.63" r="1.20" fill="#f03a3a"/><circle cx="446.39" cy="58.57" r="1.20" fill="#f03a3a"/><circle cx="450.01" cy="48.74" r="1.20" fill="#f03a3a"/><circle cx="453.64" cy="39.31" r="1.20" fill="#f03a3a"/><circle cx="457.26" cy="30.70" r="1.20" fill="#f03a3a"/><circle cx="460.88" cy="24.22" r="1.20" fill="#f03a3a"/><circle cx="464.51" cy="23.03" r="1.20" fill="#f03a3a"/><circle cx="468.13" cy="24.75" r="1.20" fill="#f03a3a"/><circle cx="471.75" cy="27.78" r="1.20" fill="#f03a3a"/><circle cx="475.38" cy="31.66" r="1.20" fill="#f03a3a"/><circle cx="479.00" cy="35.96" r="1.20" fill="#f03a3a"/><circle cx="482.62" cy="40.56" r="1.20" fill="#f03a3a"/><circle cx="486.24" cy="46.84" r="1.20" fill="#f03a3a"/><circle cx="489.87" cy="54.39" r="1.20" fill="#f03a3a"/><circle cx="493.49" cy="62.47" r="1.20" fill="#f03a3a"/><circle cx="497.11" cy="70.32" r="1.20" fill="#f03a3a"/><circle cx="500.74" cy="77.38" r="1.20" fill="#f03a3a"/><circle cx="504.36" cy="84.33" r="1.20" fill="#f03a3a"/><circle cx="507.98" cy="91.25" r="1.20" fill="#f03a3a"/><circle cx="511.61" cy="98.09" r="1.20" fill="#f03a3a"/><circle cx="515.23" cy="104.78" r="1.20" fill="#f03a3a"/><circle cx="518.85" cy="111.25" r="1.20" fill="#f03a3a"/><circle cx="522.47" cy="117.43" r="1.20" fill="#f03a3a"/><circle cx="526.10" cy="123.30" r="1.20" fill="#f03a3a"/><circle cx="529.72" cy="128.97" r="1.20" fill="#f03a3a"/><circle cx="533.34" cy="134.47" r="1.20" fill="#f03a3a"/><circle cx="536.97" cy="139.82" r="1.20" fill="#f03a3a"/><circle cx="540.59" cy="145.02" r="1.20" fill="#f03a3a"/><circle cx="544.21" cy="150.09" r="1.20" fill="#f03a3a"/><circle cx="547.84" cy="155.03" r="1.20" fill="#f03a3a"/><circle cx="551.46" cy="159.85" r="1.20" fill="#f03a3a"/><circle cx="555.08" cy="164.56" r="1.20" fill="#f03a3a"/><circle cx="558.70" cy="169.17" r="1.20" fill="#f03a3a"/><circle cx="562.33" cy="173.63" r="1.20" fill="#f03a3a"/><circle cx="565.95" cy="177.94" r="1.20" fill="#f03a3a"/><circle cx="569.57" cy="182.13" r="1.20" fill="#f03a3a"/><circle cx="573.20" cy="186.18" r="1.20" fill="#f03a3a"/><circle cx="576.82" cy="190.12" r="1.20" fill="#f03a3a"/><circle cx="580.44" cy="193.96" r="1.20" fill="#f03a3a"/><circle cx="584.07" cy="197.72" r="1.20" fill="#f03a3a"/><circle cx="587.69" cy="201.38" r="1.20" fill="#f03a3a"/><circle cx="591.31" cy="204.94" r="1.20" fill="#f03a3a"/><circle cx="594.93" cy="208.40" r="1.20" fill="#f03a3a"/><circle cx="598.56" cy="211.74" r="1.20" fill="#f03a3a"/><circle cx="602.18" cy="214.96" r="1.20" fill="#f03a3a"/><circle cx="605.80" cy="218.11" r="1.20" fill="#f03a3a"/><circle cx="609.43" cy="221.18" r="1.20" fill="#f03a3a"/><circle cx="613.05" cy="224.17" r="1.20" fill="#f03a3a"/><circle cx="616.67" cy="227.07" r="1.20" fill="#f03a3a"/><circle cx="620.29" cy="229.88" r="1.20" fill="#f03a3a"/><circle cx="623.92" cy="232.59" r="1.20" fill="#f03a3a"/><circle cx="627.54" cy="235.21" r="1.20" fill="#f03a3a"/>
<polyline points="384.80,236.60 388.42,225.72 392.05,214.85 395.67,203.99 399.29,193.14 402.92,182.29 406.54,171.46 410.16,160.64 413.78,149.84 417.41,139.06 421.03,128.30 424.65,117.58 428.28,106.89 431.90,96.25 435.52,85.68 439.14,75.20 442.77,64.84 446.39,54.67 450.01,44.80 453.64,35.41 457.26,26.98 460.88,20.84 464.51,19.77 468.13,21.44 471.75,24.40 475.38,28.24 479.00,32.55 482.62,37.01 486.24,42.91 489.87,50.28 493.49,58.39 497.11,66.51 500.74,73.92 504.36,80.73 507.98,87.52 511.61,94.21 515.23,100.74 518.85,107.06 522.47,113.09 526.10,118.77 529.72,124.10 533.34,129.19 536.97,134.09 540.59,138.81 544.21,143.38 547.84,147.83 551.46,152.17 555.08,156.43 558.70,160.63 562.33,164.80 565.95,168.94 569.57,172.97 573.20,176.90 576.82,180.74 580.44,184.52 584.07,188.26 587.69,192.00 591.31,195.87 594.93,199.78 598.56,203.60 602.18,207.21 605.80,210.51 609.43,213.36 613.05,215.93 616.67,218.43 620.29,220.85 623.92,223.17 627.54,225.37 631.16,227.43 634.79,229.33 638.41,231.06 642.03,232.60 645.66,233.92 649.28,235.02 650.00,235.21" fill="none" stroke="#5b95ec" stroke-width="1.4" stroke-opacity="0.45" stroke-linejoin="round"/>
<path d="M388.42 224.28L389.74 226.68L387.10 226.68Z" fill="#2f74e0"/><path d="M392.05 213.41L393.37 215.81L390.73 215.81Z" fill="#2f74e0"/><path d="M395.67 202.55L396.99 204.95L394.35 204.95Z" fill="#2f74e0"/><path d="M399.29 191.70L400.61 194.10L397.97 194.10Z" fill="#2f74e0"/><path d="M402.92 180.85L404.24 183.25L401.60 183.25Z" fill="#2f74e0"/><path d="M406.54 170.02L407.86 172.42L405.22 172.42Z" fill="#2f74e0"/><path d="M410.16 159.20L411.48 161.60L408.84 161.60Z" fill="#2f74e0"/><path d="M413.78 148.40L415.10 150.80L412.46 150.80Z" fill="#2f74e0"/><path d="M417.41 137.62L418.73 140.02L416.09 140.02Z" fill="#2f74e0"/><path d="M421.03 126.86L422.35 129.26L419.71 129.26Z" fill="#2f74e0"/><path d="M424.65 116.14L425.97 118.54L423.33 118.54Z" fill="#2f74e0"/><path d="M428.28 105.45L429.60 107.85L426.96 107.85Z" fill="#2f74e0"/><path d="M431.90 94.81L433.22 97.21L430.58 97.21Z" fill="#2f74e0"/><path d="M435.52 84.24L436.84 86.64L434.20 86.64Z" fill="#2f74e0"/><path d="M439.14 73.76L440.46 76.16L437.82 76.16Z" fill="#2f74e0"/><path d="M442.77 63.40L444.09 65.80L441.45 65.80Z" fill="#2f74e0"/><path d="M446.39 53.23L447.71 55.63L445.07 55.63Z" fill="#2f74e0"/><path d="M450.01 43.36L451.33 45.76L448.69 45.76Z" fill="#2f74e0"/><path d="M453.64 33.97L454.96 36.37L452.32 36.37Z" fill="#2f74e0"/><path d="M457.26 25.54L458.58 27.94L455.94 27.94Z" fill="#2f74e0"/><path d="M460.88 19.40L462.20 21.80L459.56 21.80Z" fill="#2f74e0"/><path d="M464.51 18.33L465.83 20.73L463.19 20.73Z" fill="#2f74e0"/><path d="M468.13 20.00L469.45 22.40L466.81 22.40Z" fill="#2f74e0"/><path d="M471.75 22.96L473.07 25.36L470.43 25.36Z" fill="#2f74e0"/><path d="M475.38 26.80L476.69 29.20L474.06 29.20Z" fill="#2f74e0"/><path d="M479.00 31.11L480.32 33.51L477.68 33.51Z" fill="#2f74e0"/><path d="M482.62 35.57L483.94 37.97L481.30 37.97Z" fill="#2f74e0"/><path d="M486.24 41.47L487.56 43.87L484.92 43.87Z" fill="#2f74e0"/><path d="M489.87 48.84L491.19 51.24L488.55 51.24Z" fill="#2f74e0"/><path d="M493.49 56.95L494.81 59.35L492.17 59.35Z" fill="#2f74e0"/><path d="M497.11 65.07L498.43 67.47L495.79 67.47Z" fill="#2f74e0"/><path d="M500.74 72.48L502.06 74.88L499.42 74.88Z" fill="#2f74e0"/><path d="M504.36 79.29L505.68 81.69L503.04 81.69Z" fill="#2f74e0"/><path d="M507.98 86.08L509.30 88.48L506.66 88.48Z" fill="#2f74e0"/><path d="M511.61 92.77L512.93 95.17L510.29 95.17Z" fill="#2f74e0"/><path d="M515.23 99.30L516.55 101.70L513.91 101.70Z" fill="#2f74e0"/><path d="M518.85 105.62L520.17 108.02L517.53 108.02Z" fill="#2f74e0"/><path d="M522.47 111.65L523.79 114.05L521.15 114.05Z" fill="#2f74e0"/><path d="M526.10 117.33L527.42 119.73L524.78 119.73Z" fill="#2f74e0"/><path d="M529.72 122.66L531.04 125.06L528.40 125.06Z" fill="#2f74e0"/><path d="M533.34 127.75L534.66 130.15L532.02 130.15Z" fill="#2f74e0"/><path d="M536.97 132.65L538.29 135.05L535.65 135.05Z" fill="#2f74e0"/><path d="M540.59 137.37L541.91 139.77L539.27 139.77Z" fill="#2f74e0"/><path d="M544.21 141.94L545.53 144.34L542.89 144.34Z" fill="#2f74e0"/><path d="M547.84 146.39L549.16 148.79L546.51 148.79Z" fill="#2f74e0"/><path d="M551.46 150.73L552.78 153.13L550.14 153.13Z" fill="#2f74e0"/><path d="M555.08 154.99L556.40 157.39L553.76 157.39Z" fill="#2f74e0"/><path d="M558.70 159.19L560.02 161.59L557.38 161.59Z" fill="#2f74e0"/><path d="M562.33 163.36L563.65 165.76L561.01 165.76Z" fill="#2f74e0"/><path d="M565.95 167.50L567.27 169.90L564.63 169.90Z" fill="#2f74e0"/><path d="M569.57 171.53L570.89 173.93L568.25 173.93Z" fill="#2f74e0"/><path d="M573.20 175.46L574.52 177.86L571.88 177.86Z" fill="#2f74e0"/><path d="M576.82 179.30L578.14 181.70L575.50 181.70Z" fill="#2f74e0"/><path d="M580.44 183.08L581.76 185.48L579.12 185.48Z" fill="#2f74e0"/><path d="M584.07 186.82L585.39 189.22L582.75 189.22Z" fill="#2f74e0"/><path d="M587.69 190.56L589.01 192.96L586.37 192.96Z" fill="#2f74e0"/><path d="M591.31 194.43L592.63 196.83L589.99 196.83Z" fill="#2f74e0"/><path d="M594.93 198.34L596.25 200.74L593.61 200.74Z" fill="#2f74e0"/><path d="M598.56 202.16L599.88 204.56L597.24 204.56Z" fill="#2f74e0"/><path d="M602.18 205.77L603.50 208.17L600.86 208.17Z" fill="#2f74e0"/><path d="M605.80 209.07L607.12 211.47L604.48 211.47Z" fill="#2f74e0"/><path d="M609.43 211.92L610.75 214.32L608.11 214.32Z" fill="#2f74e0"/><path d="M613.05 214.49L614.37 216.89L611.73 216.89Z" fill="#2f74e0"/><path d="M616.67 216.99L617.99 219.39L615.35 219.39Z" fill="#2f74e0"/><path d="M620.29 219.41L621.62 221.81L618.97 221.81Z" fill="#2f74e0"/><path d="M623.92 221.73L625.24 224.13L622.60 224.13Z" fill="#2f74e0"/><path d="M627.54 223.93L628.86 226.33L626.22 226.33Z" fill="#2f74e0"/><path d="M631.16 225.99L632.48 228.39L629.84 228.39Z" fill="#2f74e0"/><path d="M634.79 227.89L636.11 230.29L633.47 230.29Z" fill="#2f74e0"/><path d="M638.41 229.62L639.73 232.02L637.09 232.02Z" fill="#2f74e0"/><path d="M642.03 231.16L643.35 233.56L640.71 233.56Z" fill="#2f74e0"/><path d="M645.66 232.48L646.98 234.88L644.34 234.88Z" fill="#2f74e0"/><path d="M649.28 233.58L650.60 235.98L647.96 235.98Z" fill="#2f74e0"/><path d="M650.00 233.77L651.32 236.17L648.68 236.17Z" fill="#2f74e0"/>
<polyline points="384.80,236.60 388.42,224.53 392.05,212.58 395.67,200.76 399.29,189.08 402.92,177.55 406.54,166.19 410.16,155.03 413.78,144.07 417.41,133.34 421.03,122.87 424.65,112.69 428.28,102.84 431.90,93.36 435.52,84.30 439.14,75.72 442.77,67.69 446.39,60.31 450.01,53.68 453.64,47.92 457.26,43.22 460.88,39.81 464.51,37.96 468.13,37.87 471.75,39.36 475.38,41.92 479.00,45.12 482.62,48.54 486.24,52.76 489.87,58.26 493.49,64.48 497.11,70.85 500.74,76.97 504.36,83.36 507.98,90.01 511.61,96.77 515.23,103.51 518.85,110.07 522.47,116.30 526.10,122.09 529.72,127.61 533.34,132.96 536.97,138.15 540.59,143.20 544.21,148.13 547.84,152.94 551.46,157.67 555.08,162.31 558.70,166.88 562.33,171.39 565.95,175.82 569.57,180.12 573.20,184.27 576.82,188.22 580.44,191.97 584.07,195.59 587.69,199.09 591.31,202.46 594.93,205.72 598.56,208.87 602.18,211.89 605.80,214.81 609.43,217.65 613.05,220.42 616.67,223.11 620.29,225.72 623.92,228.24 627.54,230.67 631.16,232.99 634.79,235.21" fill="none" stroke="#8fd3aa" stroke-width="0.7" stroke-linejoin="round"/>
<path d="M388.42 225.97L389.74 223.57L387.10 223.57Z" fill="#25a05a"/><path d="M392.05 214.02L393.37 211.62L390.73 211.62Z" fill="#25a05a"/><path d="M395.67 202.20L396.99 199.80L394.35 199.80Z" fill="#25a05a"/><path d="M399.29 190.52L400.61 188.12L397.97 188.12Z" fill="#25a05a"/><path d="M402.92 178.99L404.24 176.59L401.60 176.59Z" fill="#25a05a"/><path d="M406.54 167.63L407.86 165.23L405.22 165.23Z" fill="#25a05a"/><path d="M410.16 156.47L411.48 154.07L408.84 154.07Z" fill="#25a05a"/><path d="M413.78 145.51L415.10 143.11L412.46 143.11Z" fill="#25a05a"/><path d="M417.41 134.78L418.73 132.38L416.09 132.38Z" fill="#25a05a"/><path d="M421.03 124.31L422.35 121.91L419.71 121.91Z" fill="#25a05a"/><path d="M424.65 114.13L425.97 111.73L423.33 111.73Z" fill="#25a05a"/><path d="M428.28 104.28L429.60 101.88L426.96 101.88Z" fill="#25a05a"/><path d="M431.90 94.80L433.22 92.40L430.58 92.40Z" fill="#25a05a"/><path d="M435.52 85.74L436.84 83.34L434.20 83.34Z" fill="#25a05a"/><path d="M439.14 77.16L440.46 74.76L437.82 74.76Z" fill="#25a05a"/><path d="M442.77 69.13L444.09 66.73L441.45 66.73Z" fill="#25a05a"/><path d="M446.39 61.75L447.71 59.35L445.07 59.35Z" fill="#25a05a"/><path d="M450.01 55.12L451.33 52.72L448.69 52.72Z" fill="#25a05a"/><path d="M453.64 49.36L454.96 46.96L452.32 46.96Z" fill="#25a05a"/><path d="M457.26 44.66L458.58 42.26L455.94 42.26Z" fill="#25a05a"/><path d="M460.88 41.25L462.20 38.85L459.56 38.85Z" fill="#25a05a"/><path d="M464.51 39.40L465.83 37.00L463.19 37.00Z" fill="#25a05a"/><path d="M468.13 39.31L469.45 36.91L466.81 36.91Z" fill="#25a05a"/><path d="M471.75 40.80L473.07 38.40L470.43 38.40Z" fill="#25a05a"/><path d="M475.38 43.36L476.69 40.96L474.06 40.96Z" fill="#25a05a"/><path d="M479.00 46.56L480.32 44.16L477.68 44.16Z" fill="#25a05a"/><path d="M482.62 49.98L483.94 47.58L481.30 47.58Z" fill="#25a05a"/><path d="M486.24 54.20L487.56 51.80L484.92 51.80Z" fill="#25a05a"/><path d="M489.87 59.70L491.19 57.30L488.55 57.30Z" fill="#25a05a"/><path d="M493.49 65.92L494.81 63.52L492.17 63.52Z" fill="#25a05a"/><path d="M497.11 72.29L498.43 69.89L495.79 69.89Z" fill="#25a05a"/><path d="M500.74 78.41L502.06 76.01L499.42 76.01Z" fill="#25a05a"/><path d="M504.36 84.80L505.68 82.40L503.04 82.40Z" fill="#25a05a"/><path d="M507.98 91.45L509.30 89.05L506.66 89.05Z" fill="#25a05a"/><path d="M511.61 98.21L512.93 95.81L510.29 95.81Z" fill="#25a05a"/><path d="M515.23 104.95L516.55 102.55L513.91 102.55Z" fill="#25a05a"/><path d="M518.85 111.51L520.17 109.11L517.53 109.11Z" fill="#25a05a"/><path d="M522.47 117.74L523.79 115.34L521.15 115.34Z" fill="#25a05a"/><path d="M526.10 123.53L527.42 121.13L524.78 121.13Z" fill="#25a05a"/><path d="M529.72 129.05L531.04 126.65L528.40 126.65Z" fill="#25a05a"/><path d="M533.34 134.40L534.66 132.00L532.02 132.00Z" fill="#25a05a"/><path d="M536.97 139.59L538.29 137.19L535.65 137.19Z" fill="#25a05a"/><path d="M540.59 144.64L541.91 142.24L539.27 142.24Z" fill="#25a05a"/><path d="M544.21 149.57L545.53 147.17L542.89 147.17Z" fill="#25a05a"/><path d="M547.84 154.38L549.16 151.98L546.51 151.98Z" fill="#25a05a"/><path d="M551.46 159.11L552.78 156.71L550.14 156.71Z" fill="#25a05a"/><path d="M555.08 163.75L556.40 161.35L553.76 161.35Z" fill="#25a05a"/><path d="M558.70 168.32L560.02 165.92L557.38 165.92Z" fill="#25a05a"/><path d="M562.33 172.83L563.65 170.43L561.01 170.43Z" fill="#25a05a"/><path d="M565.95 177.26L567.27 174.86L564.63 174.86Z" fill="#25a05a"/><path d="M569.57 181.56L570.89 179.16L568.25 179.16Z" fill="#25a05a"/><path d="M573.20 185.71L574.52 183.31L571.88 183.31Z" fill="#25a05a"/><path d="M576.82 189.66L578.14 187.26L575.50 187.26Z" fill="#25a05a"/><path d="M580.44 193.41L581.76 191.01L579.12 191.01Z" fill="#25a05a"/><path d="M584.07 197.03L585.39 194.63L582.75 194.63Z" fill="#25a05a"/><path d="M587.69 200.53L589.01 198.13L586.37 198.13Z" fill="#25a05a"/><path d="M591.31 203.90L592.63 201.50L589.99 201.50Z" fill="#25a05a"/><path d="M594.93 207.16L596.25 204.76L593.61 204.76Z" fill="#25a05a"/><path d="M598.56 210.31L599.88 207.91L597.24 207.91Z" fill="#25a05a"/><path d="M602.18 213.33L603.50 210.93L600.86 210.93Z" fill="#25a05a"/><path d="M605.80 216.25L607.12 213.85L604.48 213.85Z" fill="#25a05a"/><path d="M609.43 219.09L610.75 216.69L608.11 216.69Z" fill="#25a05a"/><path d="M613.05 221.86L614.37 219.46L611.73 219.46Z" fill="#25a05a"/><path d="M616.67 224.55L617.99 222.15L615.35 222.15Z" fill="#25a05a"/><path d="M620.29 227.16L621.62 224.76L618.97 224.76Z" fill="#25a05a"/><path d="M623.92 229.68L625.24 227.28L622.60 227.28Z" fill="#25a05a"/><path d="M627.54 232.11L628.86 229.71L626.22 229.71Z" fill="#25a05a"/><path d="M631.16 234.43L632.48 232.03L629.84 232.03Z" fill="#25a05a"/><path d="M634.79 236.65L636.11 234.25L633.47 234.25Z" fill="#25a05a"/>
<polyline points="384.80,236.60 388.42,226.54 392.05,216.49 395.67,206.44 399.29,196.39 402.92,186.36 406.54,176.33 410.16,166.31 413.78,156.30 417.41,146.30 421.03,136.32 424.65,126.35 428.28,116.42 431.90,106.51 435.52,96.64 439.14,86.83 442.77,77.10 446.39,67.48 450.01,58.03 453.64,48.88 457.26,40.26 460.88,32.70 464.51,28.83 468.13,29.64 471.75,31.78 475.38,34.87 479.00,38.53 482.62,42.36 486.24,47.03 489.87,53.09 493.49,59.98 497.11,67.11 500.74,73.92 504.36,80.57 507.98,87.47 511.61,94.49 515.23,101.44 518.85,108.18 522.47,114.56 526.10,120.40 529.72,125.78 533.34,130.90 536.97,135.79 540.59,140.49 544.21,145.04 547.84,149.48 551.46,153.84 555.08,158.17 558.70,162.51 562.33,166.88 565.95,171.30 569.57,175.70 573.20,180.03 576.82,184.22 580.44,188.22 584.07,191.97 587.69,195.60 591.31,199.11 594.93,202.49 598.56,205.76 602.18,208.90 605.80,211.91 609.43,214.79 613.05,217.60 616.67,220.33 620.29,222.97 623.92,225.53 627.54,228.00 631.16,230.36 634.79,232.61 638.41,234.74" fill="none" stroke="#b985f3" stroke-width="1.4" stroke-opacity="0.45" stroke-linejoin="round"/>
<path d="M388.42 224.98L389.74 226.54L388.42 228.10L387.10 226.54Z" fill="#a259f0"/><path d="M392.05 214.93L393.37 216.49L392.05 218.05L390.73 216.49Z" fill="#a259f0"/><path d="M395.67 204.88L396.99 206.44L395.67 208.00L394.35 206.44Z" fill="#a259f0"/><path d="M399.29 194.83L400.61 196.39L399.29 197.95L397.97 196.39Z" fill="#a259f0"/><path d="M402.92 184.80L404.24 186.36L402.92 187.92L401.60 186.36Z" fill="#a259f0"/><path d="M406.54 174.77L407.86 176.33L406.54 177.89L405.22 176.33Z" fill="#a259f0"/><path d="M410.16 164.75L411.48 166.31L410.16 167.87L408.84 166.31Z" fill="#a259f0"/><path d="M413.78 154.74L415.10 156.30L413.78 157.86L412.46 156.30Z" fill="#a259f0"/><path d="M417.41 144.74L418.73 146.30L417.41 147.86L416.09 146.30Z" fill="#a259f0"/><path d="M421.03 134.76L422.35 136.32L421.03 137.88L419.71 136.32Z" fill="#a259f0"/><path d="M424.65 124.79L425.97 126.35L424.65 127.91L423.33 126.35Z" fill="#a259f0"/><path d="M428.28 114.86L429.60 116.42L428.28 117.98L426.96 116.42Z" fill="#a259f0"/><path d="M431.90 104.95L433.22 106.51L431.90 108.07L430.58 106.51Z" fill="#a259f0"/><path d="M435.52 95.08L436.84 96.64L435.52 98.20L434.20 96.64Z" fill="#a259f0"/><path d="M439.14 85.27L440.46 86.83L439.14 88.39L437.82 86.83Z" fill="#a259f0"/><path d="M442.77 75.54L444.09 77.10L442.77 78.66L441.45 77.10Z" fill="#a259f0"/><path d="M446.39 65.92L447.71 67.48L446.39 69.04L445.07 67.48Z" fill="#a259f0"/><path d="M450.01 56.47L451.33 58.03L450.01 59.59L448.69 58.03Z" fill="#a259f0"/><path d="M453.64 47.32L454.96 48.88L453.64 50.44L452.32 48.88Z" fill="#a259f0"/><path d="M457.26 38.70L458.58 40.26L457.26 41.82L455.94 40.26Z" fill="#a259f0"/><path d="M460.88 31.14L462.20 32.70L460.88 34.26L459.56 32.70Z" fill="#a259f0"/><path d="M464.51 27.27L465.83 28.83L464.51 30.39L463.19 28.83Z" fill="#a259f0"/><path d="M468.13 28.08L469.45 29.64L468.13 31.20L466.81 29.64Z" fill="#a259f0"/><path d="M471.75 30.22L473.07 31.78L471.75 33.34L470.43 31.78Z" fill="#a259f0"/><path d="M475.38 33.31L476.69 34.87L475.38 36.43L474.06 34.87Z" fill="#a259f0"/><path d="M479.00 36.97L480.32 38.53L479.00 40.09L477.68 38.53Z" fill="#a259f0"/><path d="M482.62 40.80L483.94 42.36L482.62 43.92L481.30 42.36Z" fill="#a259f0"/><path d="M486.24 45.47L487.56 47.03L486.24 48.59L484.92 47.03Z" fill="#a259f0"/><path d="M489.87 51.53L491.19 53.09L489.87 54.65L488.55 53.09Z" fill="#a259f0"/><path d="M493.49 58.42L494.81 59.98L493.49 61.54L492.17 59.98Z" fill="#a259f0"/><path d="M497.11 65.55L498.43 67.11L497.11 68.67L495.79 67.11Z" fill="#a259f0"/><path d="M500.74 72.36L502.06 73.92L500.74 75.48L499.42 73.92Z" fill="#a259f0"/><path d="M504.36 79.01L505.68 80.57L504.36 82.13L503.04 80.57Z" fill="#a259f0"/><path d="M507.98 85.91L509.30 87.47L507.98 89.03L506.66 87.47Z" fill="#a259f0"/><path d="M511.61 92.93L512.93 94.49L511.61 96.05L510.29 94.49Z" fill="#a259f0"/><path d="M515.23 99.88L516.55 101.44L515.23 103.00L513.91 101.44Z" fill="#a259f0"/><path d="M518.85 106.62L520.17 108.18L518.85 109.74L517.53 108.18Z" fill="#a259f0"/><path d="M522.47 113.00L523.79 114.56L522.47 116.12L521.15 114.56Z" fill="#a259f0"/><path d="M526.10 118.84L527.42 120.40L526.10 121.96L524.78 120.40Z" fill="#a259f0"/><path d="M529.72 124.22L531.04 125.78L529.72 127.34L528.40 125.78Z" fill="#a259f0"/><path d="M533.34 129.34L534.66 130.90L533.34 132.46L532.02 130.90Z" fill="#a259f0"/><path d="M536.97 134.23L538.29 135.79L536.97 137.35L535.65 135.79Z" fill="#a259f0"/><path d="M540.59 138.93L541.91 140.49L540.59 142.05L539.27 140.49Z" fill="#a259f0"/><path d="M544.21 143.48L545.53 145.04L544.21 146.60L542.89 145.04Z" fill="#a259f0"/><path d="M547.84 147.92L549.16 149.48L547.84 151.04L546.51 149.48Z" fill="#a259f0"/><path d="M551.46 152.28L552.78 153.84L551.46 155.40L550.14 153.84Z" fill="#a259f0"/><path d="M555.08 156.61L556.40 158.17L555.08 159.73L553.76 158.17Z" fill="#a259f0"/><path d="M558.70 160.95L560.02 162.51L558.70 164.07L557.38 162.51Z" fill="#a259f0"/><path d="M562.33 165.32L563.65 166.88L562.33 168.44L561.01 166.88Z" fill="#a259f0"/><path d="M565.95 169.74L567.27 171.30L565.95 172.86L564.63 171.30Z" fill="#a259f0"/><path d="M569.57 174.14L570.89 175.70L569.57 177.26L568.25 175.70Z" fill="#a259f0"/><path d="M573.20 178.47L574.52 180.03L573.20 181.59L571.88 180.03Z" fill="#a259f0"/><path d="M576.82 182.66L578.14 184.22L576.82 185.78L575.50 184.22Z" fill="#a259f0"/><path d="M580.44 186.66L581.76 188.22L580.44 189.78L579.12 188.22Z" fill="#a259f0"/><path d="M584.07 190.41L585.39 191.97L584.07 193.53L582.75 191.97Z" fill="#a259f0"/><path d="M587.69 194.04L589.01 195.60L587.69 197.16L586.37 195.60Z" fill="#a259f0"/><path d="M591.31 197.55L592.63 199.11L591.31 200.67L589.99 199.11Z" fill="#a259f0"/><path d="M594.93 200.93L596.25 202.49L594.93 204.05L593.61 202.49Z" fill="#a259f0"/><path d="M598.56 204.20L599.88 205.76L598.56 207.32L597.24 205.76Z" fill="#a259f0"/><path d="M602.18 207.34L603.50 208.90L602.18 210.46L600.86 208.90Z" fill="#a259f0"/><path d="M605.80 210.35L607.12 211.91L605.80 213.47L604.48 211.91Z" fill="#a259f0"/><path d="M609.43 213.23L610.75 214.79L609.43 216.35L608.11 214.79Z" fill="#a259f0"/><path d="M613.05 216.04L614.37 217.60L613.05 219.16L611.73 217.60Z" fill="#a259f0"/><path d="M616.67 218.77L617.99 220.33L616.67 221.89L615.35 220.33Z" fill="#a259f0"/><path d="M620.29 221.41L621.62 222.97L620.29 224.53L618.97 222.97Z" fill="#a259f0"/><path d="M623.92 223.97L625.24 225.53L623.92 227.09L622.60 225.53Z" fill="#a259f0"/><path d="M627.54 226.44L628.86 228.00L627.54 229.56L626.22 228.00Z" fill="#a259f0"/><path d="M631.16 228.80L632.48 230.36L631.16 231.92L629.84 230.36Z" fill="#a259f0"/><path d="M634.79 231.05L636.11 232.61L634.79 234.17L633.47 232.61Z" fill="#a259f0"/><path d="M638.41 233.18L639.73 234.74L638.41 236.30L637.09 234.74Z" fill="#a259f0"/>
<polyline points="384.80,236.60 388.42,226.16 392.05,215.73 395.67,205.33 399.29,194.96 402.92,184.62 406.54,174.32 410.16,164.05 413.78,153.84 417.41,143.68 421.03,133.59 424.65,123.58 428.28,113.67 431.90,103.88 435.52,94.25 439.14,84.80 442.77,75.62 446.39,66.77 450.01,58.39 453.64,50.68 457.26,43.98 460.88,38.85 464.51,36.74 468.13,37.51 471.75,39.56 475.38,42.47 479.00,45.83 482.62,49.39 486.24,54.16 489.87,59.98 493.49,66.33 497.11,72.69 500.74,78.94 504.36,85.56 507.98,92.44 511.61,99.39 515.23,106.28 518.85,112.94 522.47,119.21 526.10,125.08 529.72,130.81 533.34,136.39 536.97,141.82 540.59,147.12 544.21,152.27 547.84,157.29 551.46,162.15 555.08,166.88 558.70,171.47 562.33,175.91 565.95,180.19 569.57,184.30 573.20,188.23 576.82,191.97 580.44,195.56 584.07,199.01 587.69,202.35 591.31,205.59 594.93,208.75 598.56,211.84 602.18,214.87 605.80,217.85 609.43,220.78 613.05,223.64 616.67,226.44 620.29,229.17 623.92,231.82 627.54,234.41 629.35,235.67" fill="none" stroke="#e0aa40" stroke-width="0.7" stroke-linejoin="round"/>
<path d="M386.98 226.16L389.38 224.84L389.38 227.48Z" fill="#de9a14"/><path d="M390.61 215.73L393.01 214.41L393.01 217.05Z" fill="#de9a14"/><path d="M394.23 205.33L396.63 204.01L396.63 206.65Z" fill="#de9a14"/><path d="M397.85 194.96L400.25 193.64L400.25 196.28Z" fill="#de9a14"/><path d="M401.48 184.62L403.88 183.30L403.88 185.94Z" fill="#de9a14"/><path d="M405.10 174.32L407.50 173.00L407.50 175.64Z" fill="#de9a14"/><path d="M408.72 164.05L411.12 162.73L411.12 165.37Z" fill="#de9a14"/><path d="M412.34 153.84L414.74 152.52L414.74 155.16Z" fill="#de9a14"/><path d="M415.97 143.68L418.37 142.36L418.37 145.00Z" fill="#de9a14"/><path d="M419.59 133.59L421.99 132.27L421.99 134.91Z" fill="#de9a14"/><path d="M423.21 123.58L425.61 122.26L425.61 124.90Z" fill="#de9a14"/><path d="M426.84 113.67L429.24 112.35L429.24 114.99Z" fill="#de9a14"/><path d="M430.46 103.88L432.86 102.56L432.86 105.20Z" fill="#de9a14"/><path d="M434.08 94.25L436.48 92.93L436.48 95.57Z" fill="#de9a14"/><path d="M437.70 84.80L440.10 83.48L440.10 86.12Z" fill="#de9a14"/><path d="M441.33 75.62L443.73 74.30L443.73 76.94Z" fill="#de9a14"/><path d="M444.95 66.77L447.35 65.45L447.35 68.09Z" fill="#de9a14"/><path d="M448.57 58.39L450.97 57.07L450.97 59.71Z" fill="#de9a14"/><path d="M452.20 50.68L454.60 49.36L454.60 52.00Z" fill="#de9a14"/><path d="M455.82 43.98L458.22 42.66L458.22 45.30Z" fill="#de9a14"/><path d="M459.44 38.85L461.84 37.53L461.84 40.17Z" fill="#de9a14"/><path d="M463.07 36.74L465.47 35.42L465.47 38.06Z" fill="#de9a14"/><path d="M466.69 37.51L469.09 36.19L469.09 38.83Z" fill="#de9a14"/><path d="M470.31 39.56L472.71 38.24L472.71 40.88Z" fill="#de9a14"/><path d="M473.94 42.47L476.33 41.15L476.33 43.79Z" fill="#de9a14"/><path d="M477.56 45.83L479.96 44.51L479.96 47.15Z" fill="#de9a14"/><path d="M481.18 49.39L483.58 48.07L483.58 50.71Z" fill="#de9a14"/><path d="M484.80 54.16L487.20 52.84L487.20 55.48Z" fill="#de9a14"/><path d="M488.43 59.98L490.83 58.66L490.83 61.30Z" fill="#de9a14"/><path d="M492.05 66.33L494.45 65.01L494.45 67.65Z" fill="#de9a14"/><path d="M495.67 72.69L498.07 71.37L498.07 74.01Z" fill="#de9a14"/><path d="M499.30 78.94L501.70 77.62L501.70 80.26Z" fill="#de9a14"/><path d="M502.92 85.56L505.32 84.24L505.32 86.88Z" fill="#de9a14"/><path d="M506.54 92.44L508.94 91.12L508.94 93.76Z" fill="#de9a14"/><path d="M510.17 99.39L512.57 98.07L512.57 100.71Z" fill="#de9a14"/><path d="M513.79 106.28L516.19 104.96L516.19 107.60Z" fill="#de9a14"/><path d="M517.41 112.94L519.81 111.62L519.81 114.26Z" fill="#de9a14"/><path d="M521.03 119.21L523.43 117.89L523.43 120.53Z" fill="#de9a14"/><path d="M524.66 125.08L527.06 123.76L527.06 126.40Z" fill="#de9a14"/><path d="M528.28 130.81L530.68 129.49L530.68 132.13Z" fill="#de9a14"/><path d="M531.90 136.39L534.30 135.07L534.30 137.71Z" fill="#de9a14"/><path d="M535.53 141.82L537.93 140.50L537.93 143.14Z" fill="#de9a14"/><path d="M539.15 147.12L541.55 145.80L541.55 148.44Z" fill="#de9a14"/><path d="M542.77 152.27L545.17 150.95L545.17 153.59Z" fill="#de9a14"/><path d="M546.39 157.29L548.80 155.97L548.80 158.61Z" fill="#de9a14"/><path d="M550.02 162.15L552.42 160.83L552.42 163.47Z" fill="#de9a14"/><path d="M553.64 166.88L556.04 165.56L556.04 168.20Z" fill="#de9a14"/><path d="M557.26 171.47L559.66 170.15L559.66 172.79Z" fill="#de9a14"/><path d="M560.89 175.91L563.29 174.59L563.29 177.23Z" fill="#de9a14"/><path d="M564.51 180.19L566.91 178.87L566.91 181.51Z" fill="#de9a14"/><path d="M568.13 184.30L570.53 182.98L570.53 185.62Z" fill="#de9a14"/><path d="M571.76 188.23L574.16 186.91L574.16 189.55Z" fill="#de9a14"/><path d="M575.38 191.97L577.78 190.65L577.78 193.29Z" fill="#de9a14"/><path d="M579.00 195.56L581.40 194.24L581.40 196.88Z" fill="#de9a14"/><path d="M582.62 199.01L585.03 197.69L585.03 200.33Z" fill="#de9a14"/><path d="M586.25 202.35L588.65 201.03L588.65 203.67Z" fill="#de9a14"/><path d="M589.87 205.59L592.27 204.27L592.27 206.91Z" fill="#de9a14"/><path d="M593.49 208.75L595.89 207.43L595.89 210.07Z" fill="#de9a14"/><path d="M597.12 211.84L599.52 210.52L599.52 213.16Z" fill="#de9a14"/><path d="M600.74 214.87L603.14 213.55L603.14 216.19Z" fill="#de9a14"/><path d="M604.36 217.85L606.76 216.53L606.76 219.17Z" fill="#de9a14"/><path d="M607.99 220.78L610.39 219.46L610.39 222.10Z" fill="#de9a14"/><path d="M611.61 223.64L614.01 222.32L614.01 224.96Z" fill="#de9a14"/><path d="M615.23 226.44L617.63 225.12L617.63 227.76Z" fill="#de9a14"/><path d="M618.85 229.17L621.25 227.85L621.25 230.49Z" fill="#de9a14"/><path d="M622.48 231.82L624.88 230.50L624.88 233.14Z" fill="#de9a14"/><path d="M626.10 234.41L628.50 233.09L628.50 235.73Z" fill="#de9a14"/><path d="M627.91 235.67L630.31 234.35L630.31 236.99Z" fill="#de9a14"/>
<polyline points="384.80,236.60 388.42,226.18 392.05,215.82 395.67,205.50 399.29,195.23 402.92,185.01 406.54,174.81 410.16,164.65 413.78,154.58 417.41,144.63 421.03,134.75 424.65,125.06 428.28,115.87 431.90,107.09 435.52,98.57 439.14,90.19 442.77,81.99 446.39,73.92 450.01,65.71 453.64,57.94 457.26,51.61 460.88,49.09 464.51,45.75 468.13,44.65 471.75,45.90 475.38,46.96 479.00,49.03 482.62,52.07 486.24,54.53 489.87,60.28 493.49,68.99 497.11,76.87 500.74,84.24 504.36,91.57 507.98,98.78 511.61,105.82 515.23,112.63 518.85,119.14 522.47,125.38 526.10,131.50 529.72,137.48 533.34,143.30 536.97,148.93 540.59,154.36 544.21,159.56 547.84,164.51 551.46,169.19 555.08,173.62 558.70,177.84 562.33,181.86 565.95,185.71 569.57,189.40 573.20,192.90 576.82,196.17 580.44,199.28 584.07,202.31 587.69,205.32 591.31,208.42 594.93,211.66 598.56,215.14 602.18,218.87 605.80,222.67 609.43,226.33 613.05,229.92 616.67,233.46 618.48,235.21" fill="none" stroke="#72dde3" stroke-width="0.7" stroke-linejoin="round"/>
<circle cx="388.42" cy="226.18" r="1.20" fill="#16c6d0"/><circle cx="392.05" cy="215.82" r="1.20" fill="#16c6d0"/><circle cx="395.67" cy="205.50" r="1.20" fill="#16c6d0"/><circle cx="399.29" cy="195.23" r="1.20" fill="#16c6d0"/><circle cx="402.92" cy="185.01" r="1.20" fill="#16c6d0"/><circle cx="406.54" cy="174.81" r="1.20" fill="#16c6d0"/><circle cx="410.16" cy="164.65" r="1.20" fill="#16c6d0"/><circle cx="413.78" cy="154.58" r="1.20" fill="#16c6d0"/><circle cx="417.41" cy="144.63" r="1.20" fill="#16c6d0"/><circle cx="421.03" cy="134.75" r="1.20" fill="#16c6d0"/><circle cx="424.65" cy="125.06" r="1.20" fill="#16c6d0"/><circle cx="428.28" cy="115.87" r="1.20" fill="#16c6d0"/><circle cx="431.90" cy="107.09" r="1.20" fill="#16c6d0"/><circle cx="435.52" cy="98.57" r="1.20" fill="#16c6d0"/><circle cx="439.14" cy="90.19" r="1.20" fill="#16c6d0"/><circle cx="442.77" cy="81.99" r="1.20" fill="#16c6d0"/><circle cx="446.39" cy="73.92" r="1.20" fill="#16c6d0"/><circle cx="450.01" cy="65.71" r="1.20" fill="#16c6d0"/><circle cx="453.64" cy="57.94" r="1.20" fill="#16c6d0"/><circle cx="457.26" cy="51.61" r="1.20" fill="#16c6d0"/><circle cx="460.88" cy="49.09" r="1.20" fill="#16c6d0"/><circle cx="464.51" cy="45.75" r="1.20" fill="#16c6d0"/><circle cx="468.13" cy="44.65" r="1.20" fill="#16c6d0"/><circle cx="471.75" cy="45.90" r="1.20" fill="#16c6d0"/><circle cx="475.38" cy="46.96" r="1.20" fill="#16c6d0"/><circle cx="479.00" cy="49.03" r="1.20" fill="#16c6d0"/><circle cx="482.62" cy="52.07" r="1.20" fill="#16c6d0"/><circle cx="486.24" cy="54.53" r="1.20" fill="#16c6d0"/><circle cx="489.87" cy="60.28" r="1.20" fill="#16c6d0"/><circle cx="493.49" cy="68.99" r="1.20" fill="#16c6d0"/><circle cx="497.11" cy="76.87" r="1.20" fill="#16c6d0"/><circle cx="500.74" cy="84.24" r="1.20" fill="#16c6d0"/><circle cx="504.36" cy="91.57" r="1.20" fill="#16c6d0"/><circle cx="507.98" cy="98.78" r="1.20" fill="#16c6d0"/><circle cx="511.61" cy="105.82" r="1.20" fill="#16c6d0"/><circle cx="515.23" cy="112.63" r="1.20" fill="#16c6d0"/><circle cx="518.85" cy="119.14" r="1.20" fill="#16c6d0"/><circle cx="522.47" cy="125.38" r="1.20" fill="#16c6d0"/><circle cx="526.10" cy="131.50" r="1.20" fill="#16c6d0"/><circle cx="529.72" cy="137.48" r="1.20" fill="#16c6d0"/><circle cx="533.34" cy="143.30" r="1.20" fill="#16c6d0"/><circle cx="536.97" cy="148.93" r="1.20" fill="#16c6d0"/><circle cx="540.59" cy="154.36" r="1.20" fill="#16c6d0"/><circle cx="544.21" cy="159.56" r="1.20" fill="#16c6d0"/><circle cx="547.84" cy="164.51" r="1.20" fill="#16c6d0"/><circle cx="551.46" cy="169.19" r="1.20" fill="#16c6d0"/><circle cx="555.08" cy="173.62" r="1.20" fill="#16c6d0"/><circle cx="558.70" cy="177.84" r="1.20" fill="#16c6d0"/><circle cx="562.33" cy="181.86" r="1.20" fill="#16c6d0"/><circle cx="565.95" cy="185.71" r="1.20" fill="#16c6d0"/><circle cx="569.57" cy="189.40" r="1.20" fill="#16c6d0"/><circle cx="573.20" cy="192.90" r="1.20" fill="#16c6d0"/><circle cx="576.82" cy="196.17" r="1.20" fill="#16c6d0"/><circle cx="580.44" cy="199.28" r="1.20" fill="#16c6d0"/><circle cx="584.07" cy="202.31" r="1.20" fill="#16c6d0"/><circle cx="587.69" cy="205.32" r="1.20" fill="#16c6d0"/><circle cx="591.31" cy="208.42" r="1.20" fill="#16c6d0"/><circle cx="594.93" cy="211.66" r="1.20" fill="#16c6d0"/><circle cx="598.56" cy="215.14" r="1.20" fill="#16c6d0"/><circle cx="602.18" cy="218.87" r="1.20" fill="#16c6d0"/><circle cx="605.80" cy="222.67" r="1.20" fill="#16c6d0"/><circle cx="609.43" cy="226.33" r="1.20" fill="#16c6d0"/><circle cx="613.05" cy="229.92" r="1.20" fill="#16c6d0"/><circle cx="616.67" cy="233.46" r="1.20" fill="#16c6d0"/><circle cx="618.48" cy="235.21" r="1.20" fill="#16c6d0"/>
<polyline points="384.80,236.60 388.42,222.67 392.05,208.84 395.67,195.14 399.29,181.56 402.92,168.13 406.54,154.87 410.16,141.79 413.78,128.94 417.41,116.33 421.03,104.00 424.65,92.01 428.28,80.41 431.90,69.27 435.52,58.68 439.14,48.76 442.77,39.65 446.39,31.57 450.01,24.77 453.64,19.62 457.26,16.75 460.88,16.48 464.51,17.93 468.13,20.53 471.75,23.97 475.38,27.93 479.00,32.12 482.62,36.65 486.24,42.65 489.87,49.75 493.49,57.43 497.11,65.20 500.74,72.55 504.36,79.39 507.98,86.31 511.61,93.25 515.23,100.10 518.85,106.78 522.47,113.19 526.10,119.24 529.72,124.94 533.34,130.46 536.97,135.81 540.59,141.00 544.21,146.03 547.84,150.91 551.46,155.65 555.08,160.24 558.70,164.70 562.33,169.01 565.95,173.11 569.57,177.04 573.20,180.84 576.82,184.57 580.44,188.26 584.07,191.98 587.69,195.69 591.31,199.36 594.93,202.98 598.56,206.54 602.18,210.00 605.80,213.36 609.43,216.63 613.05,219.83 616.67,222.96 620.29,226.02 623.92,229.01 627.54,231.91 631.16,234.74" fill="none" stroke="#9c6e6e" stroke-width="0.7" stroke-linejoin="round"/>
<path d="M388.42 221.11L389.74 222.67L388.42 224.23L387.10 222.67Z" fill="#7e4646"/><path d="M392.05 207.28L393.37 208.84L392.05 210.40L390.73 208.84Z" fill="#7e4646"/><path d="M395.67 193.58L396.99 195.14L395.67 196.70L394.35 195.14Z" fill="#7e4646"/><path d="M399.29 180.00L400.61 181.56L399.29 183.12L397.97 181.56Z" fill="#7e4646"/><path d="M402.92 166.57L404.24 168.13L402.92 169.69L401.60 168.13Z" fill="#7e4646"/><path d="M406.54 153.31L407.86 154.87L406.54 156.43L405.22 154.87Z" fill="#7e4646"/><path d="M410.16 140.23L411.48 141.79L410.16 143.35L408.84 141.79Z" fill="#7e4646"/><path d="M413.78 127.38L415.10 128.94L413.78 130.50L412.46 128.94Z" fill="#7e4646"/><path d="M417.41 114.77L418.73 116.33L417.41 117.89L416.09 116.33Z" fill="#7e4646"/><path d="M421.03 102.44L422.35 104.00L421.03 105.56L419.71 104.00Z" fill="#7e4646"/><path d="M424.65 90.45L425.97 92.01L424.65 93.57L423.33 92.01Z" fill="#7e4646"/><path d="M428.28 78.85L429.60 80.41L428.28 81.97L426.96 80.41Z" fill="#7e4646"/><path d="M431.90 67.71L433.22 69.27L431.90 70.83L430.58 69.27Z" fill="#7e4646"/><path d="M435.52 57.12L436.84 58.68L435.52 60.24L434.20 58.68Z" fill="#7e4646"/><path d="M439.14 47.20L440.46 48.76L439.14 50.32L437.82 48.76Z" fill="#7e4646"/><path d="M442.77 38.09L444.09 39.65L442.77 41.21L441.45 39.65Z" fill="#7e4646"/><path d="M446.39 30.01L447.71 31.57L446.39 33.13L445.07 31.57Z" fill="#7e4646"/><path d="M450.01 23.21L451.33 24.77L450.01 26.33L448.69 24.77Z" fill="#7e4646"/><path d="M453.64 18.06L454.96 19.62L453.64 21.18L452.32 19.62Z" fill="#7e4646"/><path d="M457.26 15.19L458.58 16.75L457.26 18.31L455.94 16.75Z" fill="#7e4646"/><path d="M460.88 14.92L462.20 16.48L460.88 18.04L459.56 16.48Z" fill="#7e4646"/><path d="M464.51 16.37L465.83 17.93L464.51 19.49L463.19 17.93Z" fill="#7e4646"/><path d="M468.13 18.97L469.45 20.53L468.13 22.09L466.81 20.53Z" fill="#7e4646"/><path d="M471.75 22.41L473.07 23.97L471.75 25.53L470.43 23.97Z" fill="#7e4646"/><path d="M475.38 26.37L476.69 27.93L475.38 29.49L474.06 27.93Z" fill="#7e4646"/><path d="M479.00 30.56L480.32 32.12L479.00 33.68L477.68 32.12Z" fill="#7e4646"/><path d="M482.62 35.09L483.94 36.65L482.62 38.21L481.30 36.65Z" fill="#7e4646"/><path d="M486.24 41.09L487.56 42.65L486.24 44.21L484.92 42.65Z" fill="#7e4646"/><path d="M489.87 48.19L491.19 49.75L489.87 51.31L488.55 49.75Z" fill="#7e4646"/><path d="M493.49 55.87L494.81 57.43L493.49 58.99L492.17 57.43Z" fill="#7e4646"/><path d="M497.11 63.64L498.43 65.20L497.11 66.76L495.79 65.20Z" fill="#7e4646"/><path d="M500.74 70.99L502.06 72.55L500.74 74.11L499.42 72.55Z" fill="#7e4646"/><path d="M504.36 77.83L505.68 79.39L504.36 80.95L503.04 79.39Z" fill="#7e4646"/><path d="M507.98 84.75L509.30 86.31L507.98 87.87L506.66 86.31Z" fill="#7e4646"/><path d="M511.61 91.69L512.93 93.25L511.61 94.81L510.29 93.25Z" fill="#7e4646"/><path d="M515.23 98.54L516.55 100.10L515.23 101.66L513.91 100.10Z" fill="#7e4646"/><path d="M518.85 105.22L520.17 106.78L518.85 108.34L517.53 106.78Z" fill="#7e4646"/><path d="M522.47 111.63L523.79 113.19L522.47 114.75L521.15 113.19Z" fill="#7e4646"/><path d="M526.10 117.68L527.42 119.24L526.10 120.80L524.78 119.24Z" fill="#7e4646"/><path d="M529.72 123.38L531.04 124.94L529.72 126.50L528.40 124.94Z" fill="#7e4646"/><path d="M533.34 128.90L534.66 130.46L533.34 132.02L532.02 130.46Z" fill="#7e4646"/><path d="M536.97 134.25L538.29 135.81L536.97 137.37L535.65 135.81Z" fill="#7e4646"/><path d="M540.59 139.44L541.91 141.00L540.59 142.56L539.27 141.00Z" fill="#7e4646"/><path d="M544.21 144.47L545.53 146.03L544.21 147.59L542.89 146.03Z" fill="#7e4646"/><path d="M547.84 149.35L549.16 150.91L547.84 152.47L546.51 150.91Z" fill="#7e4646"/><path d="M551.46 154.09L552.78 155.65L551.46 157.21L550.14 155.65Z" fill="#7e4646"/><path d="M555.08 158.68L556.40 160.24L555.08 161.80L553.76 160.24Z" fill="#7e4646"/><path d="M558.70 163.14L560.02 164.70L558.70 166.26L557.38 164.70Z" fill="#7e4646"/><path d="M562.33 167.45L563.65 169.01L562.33 170.57L561.01 169.01Z" fill="#7e4646"/><path d="M565.95 171.55L567.27 173.11L565.95 174.67L564.63 173.11Z" fill="#7e4646"/><path d="M569.57 175.48L570.89 177.04L569.57 178.60L568.25 177.04Z" fill="#7e4646"/><path d="M573.20 179.28L574.52 180.84L573.20 182.40L571.88 180.84Z" fill="#7e4646"/><path d="M576.82 183.01L578.14 184.57L576.82 186.13L575.50 184.57Z" fill="#7e4646"/><path d="M580.44 186.70L581.76 188.26L580.44 189.82L579.12 188.26Z" fill="#7e4646"/><path d="M584.07 190.42L585.39 191.98L584.07 193.54L582.75 191.98Z" fill="#7e4646"/><path d="M587.69 194.13L589.01 195.69L587.69 197.25L586.37 195.69Z" fill="#7e4646"/><path d="M591.31 197.80L592.63 199.36L591.31 200.92L589.99 199.36Z" fill="#7e4646"/><path d="M594.93 201.42L596.25 202.98L594.93 204.54L593.61 202.98Z" fill="#7e4646"/><path d="M598.56 204.98L599.88 206.54L598.56 208.10L597.24 206.54Z" fill="#7e4646"/><path d="M602.18 208.44L603.50 210.00L602.18 211.56L600.86 210.00Z" fill="#7e4646"/><path d="M605.80 211.80L607.12 213.36L605.80 214.92L604.48 213.36Z" fill="#7e4646"/><path d="M609.43 215.07L610.75 216.63L609.43 218.19L608.11 216.63Z" fill="#7e4646"/><path d="M613.05 218.27L614.37 219.83L613.05 221.39L611.73 219.83Z" fill="#7e4646"/><path d="M616.67 221.40L617.99 222.96L616.67 224.52L615.35 222.96Z" fill="#7e4646"/><path d="M620.29 224.46L621.62 226.02L620.29 227.58L618.97 226.02Z" fill="#7e4646"/><path d="M623.92 227.45L625.24 229.01L623.92 230.57L622.60 229.01Z" fill="#7e4646"/><path d="M627.54 230.35L628.86 231.91L627.54 233.47L626.22 231.91Z" fill="#7e4646"/><path d="M631.16 233.18L632.48 234.74L631.16 236.30L629.84 234.74Z" fill="#7e4646"/>
<polyline points="384.80,236.60 388.42,223.48 392.05,210.47 395.67,197.56 399.29,184.73 402.92,172.01 406.54,159.44 410.16,146.98 413.78,134.67 417.41,122.72 421.03,111.96 424.65,101.30 428.28,87.83 431.90,70.93 435.52,57.19 439.14,43.90 442.77,34.41 446.39,28.37 450.01,26.51 453.64,25.12 457.26,23.72 460.88,23.26 464.51,23.72 468.13,24.65 471.75,26.05 475.38,28.37 479.00,33.01 482.62,39.06 486.24,45.40 489.87,52.34 493.49,59.60 497.11,66.89 500.74,73.92 504.36,80.80 507.98,87.77 511.61,94.71 515.23,101.55 518.85,108.17 522.47,114.49 526.10,120.40 529.72,125.98 533.34,131.37 536.97,136.57 540.59,141.61 544.21,146.50 547.84,151.24 551.46,155.85 555.08,160.34 558.70,164.73 562.33,169.00 565.95,173.12 569.57,177.09 573.20,180.93 576.82,184.67 580.44,188.32 584.07,191.91 587.69,195.48 591.31,199.01 594.93,202.46 598.56,205.79 602.18,208.97 605.80,211.95 609.43,214.73 613.05,217.43 616.67,220.04 620.29,222.58 623.92,225.02 627.54,227.35 631.16,229.58 634.79,231.68 638.41,233.66 642.03,235.49 642.40,235.67" fill="none" stroke="#b8b860" stroke-width="0.7" stroke-linejoin="round"/>
<circle cx="388.42" cy="223.48" r="1.20" fill="#9c9c24"/><circle cx="392.05" cy="210.47" r="1.20" fill="#9c9c24"/><circle cx="395.67" cy="197.56" r="1.20" fill="#9c9c24"/><circle cx="399.29" cy="184.73" r="1.20" fill="#9c9c24"/><circle cx="402.92" cy="172.01" r="1.20" fill="#9c9c24"/><circle cx="406.54" cy="159.44" r="1.20" fill="#9c9c24"/><circle cx="410.16" cy="146.98" r="1.20" fill="#9c9c24"/><circle cx="413.78" cy="134.67" r="1.20" fill="#9c9c24"/><circle cx="417.41" cy="122.72" r="1.20" fill="#9c9c24"/><circle cx="421.03" cy="111.96" r="1.20" fill="#9c9c24"/><circle cx="424.65" cy="101.30" r="1.20" fill="#9c9c24"/><circle cx="428.28" cy="87.83" r="1.20" fill="#9c9c24"/><circle cx="431.90" cy="70.93" r="1.20" fill="#9c9c24"/><circle cx="435.52" cy="57.19" r="1.20" fill="#9c9c24"/><circle cx="439.14" cy="43.90" r="1.20" fill="#9c9c24"/><circle cx="442.77" cy="34.41" r="1.20" fill="#9c9c24"/><circle cx="446.39" cy="28.37" r="1.20" fill="#9c9c24"/><circle cx="450.01" cy="26.51" r="1.20" fill="#9c9c24"/><circle cx="453.64" cy="25.12" r="1.20" fill="#9c9c24"/><circle cx="457.26" cy="23.72" r="1.20" fill="#9c9c24"/><circle cx="460.88" cy="23.26" r="1.20" fill="#9c9c24"/><circle cx="464.51" cy="23.72" r="1.20" fill="#9c9c24"/><circle cx="468.13" cy="24.65" r="1.20" fill="#9c9c24"/><circle cx="471.75" cy="26.05" r="1.20" fill="#9c9c24"/><circle cx="475.38" cy="28.37" r="1.20" fill="#9c9c24"/><circle cx="479.00" cy="33.01" r="1.20" fill="#9c9c24"/><circle cx="482.62" cy="39.06" r="1.20" fill="#9c9c24"/><circle cx="486.24" cy="45.40" r="1.20" fill="#9c9c24"/><circle cx="489.87" cy="52.34" r="1.20" fill="#9c9c24"/><circle cx="493.49" cy="59.60" r="1.20" fill="#9c9c24"/><circle cx="497.11" cy="66.89" r="1.20" fill="#9c9c24"/><circle cx="500.74" cy="73.92" r="1.20" fill="#9c9c24"/><circle cx="504.36" cy="80.80" r="1.20" fill="#9c9c24"/><circle cx="507.98" cy="87.77" r="1.20" fill="#9c9c24"/><circle cx="511.61" cy="94.71" r="1.20" fill="#9c9c24"/><circle cx="515.23" cy="101.55" r="1.20" fill="#9c9c24"/><circle cx="518.85" cy="108.17" r="1.20" fill="#9c9c24"/><circle cx="522.47" cy="114.49" r="1.20" fill="#9c9c24"/><circle cx="526.10" cy="120.40" r="1.20" fill="#9c9c24"/><circle cx="529.72" cy="125.98" r="1.20" fill="#9c9c24"/><circle cx="533.34" cy="131.37" r="1.20" fill="#9c9c24"/><circle cx="536.97" cy="136.57" r="1.20" fill="#9c9c24"/><circle cx="540.59" cy="141.61" r="1.20" fill="#9c9c24"/><circle cx="544.21" cy="146.50" r="1.20" fill="#9c9c24"/><circle cx="547.84" cy="151.24" r="1.20" fill="#9c9c24"/><circle cx="551.46" cy="155.85" r="1.20" fill="#9c9c24"/><circle cx="555.08" cy="160.34" r="1.20" fill="#9c9c24"/><circle cx="558.70" cy="164.73" r="1.20" fill="#9c9c24"/><circle cx="562.33" cy="169.00" r="1.20" fill="#9c9c24"/><circle cx="565.95" cy="173.12" r="1.20" fill="#9c9c24"/><circle cx="569.57" cy="177.09" r="1.20" fill="#9c9c24"/><circle cx="573.20" cy="180.93" r="1.20" fill="#9c9c24"/><circle cx="576.82" cy="184.67" r="1.20" fill="#9c9c24"/><circle cx="580.44" cy="188.32" r="1.20" fill="#9c9c24"/><circle cx="584.07" cy="191.91" r="1.20" fill="#9c9c24"/><circle cx="587.69" cy="195.48" r="1.20" fill="#9c9c24"/><circle cx="591.31" cy="199.01" r="1.20" fill="#9c9c24"/><circle cx="594.93" cy="202.46" r="1.20" fill="#9c9c24"/><circle cx="598.56" cy="205.79" r="1.20" fill="#9c9c24"/><circle cx="602.18" cy="208.97" r="1.20" fill="#9c9c24"/><circle cx="605.80" cy="211.95" r="1.20" fill="#9c9c24"/><circle cx="609.43" cy="214.73" r="1.20" fill="#9c9c24"/><circle cx="613.05" cy="217.43" r="1.20" fill="#9c9c24"/><circle cx="616.67" cy="220.04" r="1.20" fill="#9c9c24"/><circle cx="620.29" cy="222.58" r="1.20" fill="#9c9c24"/><circle cx="623.92" cy="225.02" r="1.20" fill="#9c9c24"/><circle cx="627.54" cy="227.35" r="1.20" fill="#9c9c24"/><circle cx="631.16" cy="229.58" r="1.20" fill="#9c9c24"/><circle cx="634.79" cy="231.68" r="1.20" fill="#9c9c24"/><circle cx="638.41" cy="233.66" r="1.20" fill="#9c9c24"/><circle cx="642.03" cy="235.49" r="1.20" fill="#9c9c24"/><circle cx="642.40" cy="235.67" r="1.20" fill="#9c9c24"/>
<polyline points="384.80,236.60 388.42,223.02 392.05,209.53 395.67,196.16 399.29,183.07 402.92,170.19 406.54,157.17 410.16,143.64 413.78,128.75 417.41,115.52 421.03,104.47 424.65,94.81 428.28,86.47 431.90,79.75 435.52,73.14 439.14,64.21 442.77,53.93 446.39,44.64 450.01,38.60 453.64,36.28 457.26,34.88 460.88,33.95 464.51,34.41 468.13,34.88 471.75,37.35 475.38,41.38 479.00,45.58 482.62,50.35 486.24,55.57 489.87,61.13 493.49,66.89 497.11,72.75 500.74,78.80 504.36,85.36 507.98,92.25 511.61,99.28 515.23,106.24 518.85,112.96 522.47,119.22 526.10,125.03 529.72,130.67 533.34,136.17 536.97,141.52 540.59,146.72 544.21,151.77 547.84,156.66 551.46,161.40 555.08,165.98 558.70,170.38 562.33,174.58 565.95,178.60 569.57,182.51 573.20,186.33 576.82,190.12 580.44,193.94 584.07,197.79 587.69,201.59 591.31,205.26 594.93,208.72 598.56,211.90 602.18,214.76 605.80,217.52 609.43,220.18 613.05,222.75 616.67,225.20 620.29,227.52 623.92,229.69 627.54,231.71 631.16,233.56 634.79,235.21 635.87,235.67" fill="none" stroke="#ff8a4a" stroke-width="1.4" stroke-opacity="0.45" stroke-linejoin="round"/>
<circle cx="388.42" cy="223.02" r="1.20" fill="#ff6412"/><circle cx="392.05" cy="209.53" r="1.20" fill="#ff6412"/><circle cx="395.67" cy="196.16" r="1.20" fill="#ff6412"/><circle cx="399.29" cy="183.07" r="1.20" fill="#ff6412"/><circle cx="402.92" cy="170.19" r="1.20" fill="#ff6412"/><circle cx="406.54" cy="157.17" r="1.20" fill="#ff6412"/><circle cx="410.16" cy="143.64" r="1.20" fill="#ff6412"/><circle cx="413.78" cy="128.75" r="1.20" fill="#ff6412"/><circle cx="417.41" cy="115.52" r="1.20" fill="#ff6412"/><circle cx="421.03" cy="104.47" r="1.20" fill="#ff6412"/><circle cx="424.65" cy="94.81" r="1.20" fill="#ff6412"/><circle cx="428.28" cy="86.47" r="1.20" fill="#ff6412"/><circle cx="431.90" cy="79.75" r="1.20" fill="#ff6412"/><circle cx="435.52" cy="73.14" r="1.20" fill="#ff6412"/><circle cx="439.14" cy="64.21" r="1.20" fill="#ff6412"/><circle cx="442.77" cy="53.93" r="1.20" fill="#ff6412"/><circle cx="446.39" cy="44.64" r="1.20" fill="#ff6412"/><circle cx="450.01" cy="38.60" r="1.20" fill="#ff6412"/><circle cx="453.64" cy="36.28" r="1.20" fill="#ff6412"/><circle cx="457.26" cy="34.88" r="1.20" fill="#ff6412"/><circle cx="460.88" cy="33.95" r="1.20" fill="#ff6412"/><circle cx="464.51" cy="34.41" r="1.20" fill="#ff6412"/><circle cx="468.13" cy="34.88" r="1.20" fill="#ff6412"/><circle cx="471.75" cy="37.35" r="1.20" fill="#ff6412"/><circle cx="475.38" cy="41.38" r="1.20" fill="#ff6412"/><circle cx="479.00" cy="45.58" r="1.20" fill="#ff6412"/><circle cx="482.62" cy="50.35" r="1.20" fill="#ff6412"/><circle cx="486.24" cy="55.57" r="1.20" fill="#ff6412"/><circle cx="489.87" cy="61.13" r="1.20" fill="#ff6412"/><circle cx="493.49" cy="66.89" r="1.20" fill="#ff6412"/><circle cx="497.11" cy="72.75" r="1.20" fill="#ff6412"/><circle cx="500.74" cy="78.80" r="1.20" fill="#ff6412"/><circle cx="504.36" cy="85.36" r="1.20" fill="#ff6412"/><circle cx="507.98" cy="92.25" r="1.20" fill="#ff6412"/><circle cx="511.61" cy="99.28" r="1.20" fill="#ff6412"/><circle cx="515.23" cy="106.24" r="1.20" fill="#ff6412"/><circle cx="518.85" cy="112.96" r="1.20" fill="#ff6412"/><circle cx="522.47" cy="119.22" r="1.20" fill="#ff6412"/><circle cx="526.10" cy="125.03" r="1.20" fill="#ff6412"/><circle cx="529.72" cy="130.67" r="1.20" fill="#ff6412"/><circle cx="533.34" cy="136.17" r="1.20" fill="#ff6412"/><circle cx="536.97" cy="141.52" r="1.20" fill="#ff6412"/><circle cx="540.59" cy="146.72" r="1.20" fill="#ff6412"/><circle cx="544.21" cy="151.77" r="1.20" fill="#ff6412"/><circle cx="547.84" cy="156.66" r="1.20" fill="#ff6412"/><circle cx="551.46" cy="161.40" r="1.20" fill="#ff6412"/><circle cx="555.08" cy="165.98" r="1.20" fill="#ff6412"/><circle cx="558.70" cy="170.38" r="1.20" fill="#ff6412"/><circle cx="562.33" cy="174.58" r="1.20" fill="#ff6412"/><circle cx="565.95" cy="178.60" r="1.20" fill="#ff6412"/><circle cx="569.57" cy="182.51" r="1.20" fill="#ff6412"/><circle cx="573.20" cy="186.33" r="1.20" fill="#ff6412"/><circle cx="576.82" cy="190.12" r="1.20" fill="#ff6412"/><circle cx="580.44" cy="193.94" r="1.20" fill="#ff6412"/><circle cx="584.07" cy="197.79" r="1.20" fill="#ff6412"/><circle cx="587.69" cy="201.59" r="1.20" fill="#ff6412"/><circle cx="591.31" cy="205.26" r="1.20" fill="#ff6412"/><circle cx="594.93" cy="208.72" r="1.20" fill="#ff6412"/><circle cx="598.56" cy="211.90" r="1.20" fill="#ff6412"/><circle cx="602.18" cy="214.76" r="1.20" fill="#ff6412"/><circle cx="605.80" cy="217.52" r="1.20" fill="#ff6412"/><circle cx="609.43" cy="220.18" r="1.20" fill="#ff6412"/><circle cx="613.05" cy="222.75" r="1.20" fill="#ff6412"/><circle cx="616.67" cy="225.20" r="1.20" fill="#ff6412"/><circle cx="620.29" cy="227.52" r="1.20" fill="#ff6412"/><circle cx="623.92" cy="229.69" r="1.20" fill="#ff6412"/><circle cx="627.54" cy="231.71" r="1.20" fill="#ff6412"/><circle cx="631.16" cy="233.56" r="1.20" fill="#ff6412"/><circle cx="634.79" cy="235.21" r="1.20" fill="#ff6412"/><circle cx="635.87" cy="235.67" r="1.20" fill="#ff6412"/>
<polyline points="384.80,236.60 388.42,225.49 392.05,214.42 395.67,203.39 399.29,192.39 402.92,181.45 406.54,170.56 410.16,159.73 413.78,148.97 417.41,138.30 421.03,127.72 424.65,117.27 428.28,106.96 431.90,96.81 435.52,86.88 439.14,77.22 442.77,67.89 446.39,58.99 450.01,50.68 453.64,43.17 457.26,36.80 460.88,32.08 464.51,30.23 468.13,31.04 471.75,33.19 475.38,36.29 479.00,39.93 482.62,43.72 486.24,48.53 489.87,54.68 493.49,61.57 497.11,68.60 500.74,75.19 504.36,81.74 507.98,88.47 511.61,95.26 515.23,101.97 518.85,108.49 522.47,114.67 526.10,120.40 529.72,125.74 533.34,130.87 536.97,135.81 540.59,140.59 544.21,145.21 547.84,149.71 551.46,154.11 555.08,158.42 558.70,162.67 562.33,166.88 565.95,171.02 569.57,175.06 573.20,179.00 576.82,182.82 580.44,186.53 584.07,190.12 587.69,193.66 591.31,197.18 594.93,200.63 598.56,203.97 602.18,207.15 605.80,210.13 609.43,212.85 613.05,215.32 616.67,217.55 620.29,219.46 623.92,220.94 627.54,222.35 631.16,224.06 634.79,225.95 638.41,227.94 642.03,230.07 645.66,232.34 649.28,234.74" fill="none" stroke="#8fb4ec" stroke-width="0.7" stroke-linejoin="round"/>
<path d="M388.42 223.93L389.74 225.49L388.42 227.05L387.10 225.49Z" fill="#3d7fd8"/><path d="M392.05 212.86L393.37 214.42L392.05 215.98L390.73 214.42Z" fill="#3d7fd8"/><path d="M395.67 201.83L396.99 203.39L395.67 204.95L394.35 203.39Z" fill="#3d7fd8"/><path d="M399.29 190.83L400.61 192.39L399.29 193.95L397.97 192.39Z" fill="#3d7fd8"/><path d="M402.92 179.89L404.24 181.45L402.92 183.01L401.60 181.45Z" fill="#3d7fd8"/><path d="M406.54 169.00L407.86 170.56L406.54 172.12L405.22 170.56Z" fill="#3d7fd8"/><path d="M410.16 158.17L411.48 159.73L410.16 161.29L408.84 159.73Z" fill="#3d7fd8"/><path d="M413.78 147.41L415.10 148.97L413.78 150.53L412.46 148.97Z" fill="#3d7fd8"/><path d="M417.41 136.74L418.73 138.30L417.41 139.86L416.09 138.30Z" fill="#3d7fd8"/><path d="M421.03 126.16L422.35 127.72L421.03 129.28L419.71 127.72Z" fill="#3d7fd8"/><path d="M424.65 115.71L425.97 117.27L424.65 118.83L423.33 117.27Z" fill="#3d7fd8"/><path d="M428.28 105.40L429.60 106.96L428.28 108.52L426.96 106.96Z" fill="#3d7fd8"/><path d="M431.90 95.25L433.22 96.81L431.90 98.37L430.58 96.81Z" fill="#3d7fd8"/><path d="M435.52 85.32L436.84 86.88L435.52 88.44L434.20 86.88Z" fill="#3d7fd8"/><path d="M439.14 75.66L440.46 77.22L439.14 78.78L437.82 77.22Z" fill="#3d7fd8"/><path d="M442.77 66.33L444.09 67.89L442.77 69.45L441.45 67.89Z" fill="#3d7fd8"/><path d="M446.39 57.43L447.71 58.99L446.39 60.55L445.07 58.99Z" fill="#3d7fd8"/><path d="M450.01 49.12L451.33 50.68L450.01 52.24L448.69 50.68Z" fill="#3d7fd8"/><path d="M453.64 41.61L454.96 43.17L453.64 44.73L452.32 43.17Z" fill="#3d7fd8"/><path d="M457.26 35.24L458.58 36.80L457.26 38.36L455.94 36.80Z" fill="#3d7fd8"/><path d="M460.88 30.52L462.20 32.08L460.88 33.64L459.56 32.08Z" fill="#3d7fd8"/><path d="M464.51 28.67L465.83 30.23L464.51 31.79L463.19 30.23Z" fill="#3d7fd8"/><path d="M468.13 29.48L469.45 31.04L468.13 32.60L466.81 31.04Z" fill="#3d7fd8"/><path d="M471.75 31.63L473.07 33.19L471.75 34.75L470.43 33.19Z" fill="#3d7fd8"/><path d="M475.38 34.73L476.69 36.29L475.38 37.85L474.06 36.29Z" fill="#3d7fd8"/><path d="M479.00 38.37L480.32 39.93L479.00 41.49L477.68 39.93Z" fill="#3d7fd8"/><path d="M482.62 42.16L483.94 43.72L482.62 45.28L481.30 43.72Z" fill="#3d7fd8"/><path d="M486.24 46.97L487.56 48.53L486.24 50.09L484.92 48.53Z" fill="#3d7fd8"/><path d="M489.87 53.12L491.19 54.68L489.87 56.24L488.55 54.68Z" fill="#3d7fd8"/><path d="M493.49 60.01L494.81 61.57L493.49 63.13L492.17 61.57Z" fill="#3d7fd8"/><path d="M497.11 67.04L498.43 68.60L497.11 70.16L495.79 68.60Z" fill="#3d7fd8"/><path d="M500.74 73.63L502.06 75.19L500.74 76.75L499.42 75.19Z" fill="#3d7fd8"/><path d="M504.36 80.18L505.68 81.74L504.36 83.30L503.04 81.74Z" fill="#3d7fd8"/><path d="M507.98 86.91L509.30 88.47L507.98 90.03L506.66 88.47Z" fill="#3d7fd8"/><path d="M511.61 93.70L512.93 95.26L511.61 96.82L510.29 95.26Z" fill="#3d7fd8"/><path d="M515.23 100.41L516.55 101.97L515.23 103.53L513.91 101.97Z" fill="#3d7fd8"/><path d="M518.85 106.93L520.17 108.49L518.85 110.05L517.53 108.49Z" fill="#3d7fd8"/><path d="M522.47 113.11L523.79 114.67L522.47 116.23L521.15 114.67Z" fill="#3d7fd8"/><path d="M526.10 118.84L527.42 120.40L526.10 121.96L524.78 120.40Z" fill="#3d7fd8"/><path d="M529.72 124.18L531.04 125.74L529.72 127.30L528.40 125.74Z" fill="#3d7fd8"/><path d="M533.34 129.31L534.66 130.87L533.34 132.43L532.02 130.87Z" fill="#3d7fd8"/><path d="M536.97 134.25L538.29 135.81L536.97 137.37L535.65 135.81Z" fill="#3d7fd8"/><path d="M540.59 139.03L541.91 140.59L540.59 142.15L539.27 140.59Z" fill="#3d7fd8"/><path d="M544.21 143.65L545.53 145.21L544.21 146.77L542.89 145.21Z" fill="#3d7fd8"/><path d="M547.84 148.15L549.16 149.71L547.84 151.27L546.51 149.71Z" fill="#3d7fd8"/><path d="M551.46 152.55L552.78 154.11L551.46 155.67L550.14 154.11Z" fill="#3d7fd8"/><path d="M555.08 156.86L556.40 158.42L555.08 159.98L553.76 158.42Z" fill="#3d7fd8"/><path d="M558.70 161.11L560.02 162.67L558.70 164.23L557.38 162.67Z" fill="#3d7fd8"/><path d="M562.33 165.32L563.65 166.88L562.33 168.44L561.01 166.88Z" fill="#3d7fd8"/><path d="M565.95 169.46L567.27 171.02L565.95 172.58L564.63 171.02Z" fill="#3d7fd8"/><path d="M569.57 173.50L570.89 175.06L569.57 176.62L568.25 175.06Z" fill="#3d7fd8"/><path d="M573.20 177.44L574.52 179.00L573.20 180.56L571.88 179.00Z" fill="#3d7fd8"/><path d="M576.82 181.26L578.14 182.82L576.82 184.38L575.50 182.82Z" fill="#3d7fd8"/><path d="M580.44 184.97L581.76 186.53L580.44 188.09L579.12 186.53Z" fill="#3d7fd8"/><path d="M584.07 188.56L585.39 190.12L584.07 191.68L582.75 190.12Z" fill="#3d7fd8"/><path d="M587.69 192.10L589.01 193.66L587.69 195.22L586.37 193.66Z" fill="#3d7fd8"/><path d="M591.31 195.62L592.63 197.18L591.31 198.74L589.99 197.18Z" fill="#3d7fd8"/><path d="M594.93 199.07L596.25 200.63L594.93 202.19L593.61 200.63Z" fill="#3d7fd8"/><path d="M598.56 202.41L599.88 203.97L598.56 205.53L597.24 203.97Z" fill="#3d7fd8"/><path d="M602.18 205.59L603.50 207.15L602.18 208.71L600.86 207.15Z" fill="#3d7fd8"/><path d="M605.80 208.57L607.12 210.13L605.80 211.69L604.48 210.13Z" fill="#3d7fd8"/><path d="M609.43 211.29L610.75 212.85L609.43 214.41L608.11 212.85Z" fill="#3d7fd8"/><path d="M613.05 213.76L614.37 215.32L613.05 216.88L611.73 215.32Z" fill="#3d7fd8"/><path d="M616.67 215.99L617.99 217.55L616.67 219.11L615.35 217.55Z" fill="#3d7fd8"/><path d="M620.29 217.90L621.62 219.46L620.29 221.02L618.97 219.46Z" fill="#3d7fd8"/><path d="M623.92 219.38L625.24 220.94L623.92 222.50L622.60 220.94Z" fill="#3d7fd8"/><path d="M627.54 220.79L628.86 222.35L627.54 223.91L626.22 222.35Z" fill="#3d7fd8"/><path d="M631.16 222.50L632.48 224.06L631.16 225.62L629.84 224.06Z" fill="#3d7fd8"/><path d="M634.79 224.39L636.11 225.95L634.79 227.51L633.47 225.95Z" fill="#3d7fd8"/><path d="M638.41 226.38L639.73 227.94L638.41 229.50L637.09 227.94Z" fill="#3d7fd8"/><path d="M642.03 228.51L643.35 230.07L642.03 231.63L640.71 230.07Z" fill="#3d7fd8"/><path d="M645.66 230.78L646.98 232.34L645.66 233.90L644.34 232.34Z" fill="#3d7fd8"/><path d="M649.28 233.18L650.60 234.74L649.28 236.30L647.96 234.74Z" fill="#3d7fd8"/>
<polyline points="384.80,236.60 388.42,225.04 392.05,213.52 395.67,202.03 399.29,190.59 402.92,179.20 406.54,167.87 410.16,156.60 413.78,145.42 417.41,134.32 421.03,123.34 424.65,112.48 428.28,101.79 431.90,91.28 435.52,81.01 439.14,71.05 442.77,61.47 446.39,52.41 450.01,44.06 453.64,36.67 457.26,30.74 460.88,27.14 464.51,26.72 468.13,28.23 471.75,30.90 475.38,34.34 479.00,38.19 482.62,42.20 486.24,47.51 489.87,54.03 493.49,61.20 497.11,68.44 500.74,75.23 504.36,81.96 507.98,88.86 511.61,95.81 515.23,102.68 518.85,109.34 522.47,115.66 526.10,121.54 529.72,127.11 533.34,132.48 536.97,137.69 540.59,142.73 544.21,147.62 547.84,152.38 551.46,157.02 555.08,161.55 558.70,166.00 562.33,170.35 565.95,174.56 569.57,178.64 573.20,182.59 576.82,186.42 580.44,190.12 584.07,193.69 587.69,197.12 591.31,200.46 594.93,203.72 598.56,206.94 602.18,210.14 605.80,213.36 609.43,216.90 613.05,220.41 616.67,222.89 620.29,224.05 623.92,225.32 627.54,227.69 631.16,230.09 634.79,231.92 638.41,233.53 641.67,234.74" fill="none" stroke="#7dc846" stroke-width="1.4" stroke-opacity="0.45" stroke-linejoin="round"/>
<circle cx="388.42" cy="225.04" r="0.96" fill="#6cbf2a"/><circle cx="392.05" cy="213.52" r="0.96" fill="#6cbf2a"/><circle cx="395.67" cy="202.03" r="0.96" fill="#6cbf2a"/><circle cx="399.29" cy="190.59" r="0.96" fill="#6cbf2a"/><circle cx="402.92" cy="179.20" r="0.96" fill="#6cbf2a"/><circle cx="406.54" cy="167.87" r="0.96" fill="#6cbf2a"/><circle cx="410.16" cy="156.60" r="0.96" fill="#6cbf2a"/><circle cx="413.78" cy="145.42" r="0.96" fill="#6cbf2a"/><circle cx="417.41" cy="134.32" r="0.96" fill="#6cbf2a"/><circle cx="421.03" cy="123.34" r="0.96" fill="#6cbf2a"/><circle cx="424.65" cy="112.48" r="0.96" fill="#6cbf2a"/><circle cx="428.28" cy="101.79" r="0.96" fill="#6cbf2a"/><circle cx="431.90" cy="91.28" r="0.96" fill="#6cbf2a"/><circle cx="435.52" cy="81.01" r="0.96" fill="#6cbf2a"/><circle cx="439.14" cy="71.05" r="0.96" fill="#6cbf2a"/><circle cx="442.77" cy="61.47" r="0.96" fill="#6cbf2a"/><circle cx="446.39" cy="52.41" r="0.96" fill="#6cbf2a"/><circle cx="450.01" cy="44.06" r="0.96" fill="#6cbf2a"/><circle cx="453.64" cy="36.67" r="0.96" fill="#6cbf2a"/><circle cx="457.26" cy="30.74" r="0.96" fill="#6cbf2a"/><circle cx="460.88" cy="27.14" r="0.96" fill="#6cbf2a"/><circle cx="464.51" cy="26.72" r="0.96" fill="#6cbf2a"/><circle cx="468.13" cy="28.23" r="0.96" fill="#6cbf2a"/><circle cx="471.75" cy="30.90" r="0.96" fill="#6cbf2a"/><circle cx="475.38" cy="34.34" r="0.96" fill="#6cbf2a"/><circle cx="479.00" cy="38.19" r="0.96" fill="#6cbf2a"/><circle cx="482.62" cy="42.20" r="0.96" fill="#6cbf2a"/><circle cx="486.24" cy="47.51" r="0.96" fill="#6cbf2a"/><circle cx="489.87" cy="54.03" r="0.96" fill="#6cbf2a"/><circle cx="493.49" cy="61.20" r="0.96" fill="#6cbf2a"/><circle cx="497.11" cy="68.44" r="0.96" fill="#6cbf2a"/><circle cx="500.74" cy="75.23" r="0.96" fill="#6cbf2a"/><circle cx="504.36" cy="81.96" r="0.96" fill="#6cbf2a"/><circle cx="507.98" cy="88.86" r="0.96" fill="#6cbf2a"/><circle cx="511.61" cy="95.81" r="0.96" fill="#6cbf2a"/><circle cx="515.23" cy="102.68" r="0.96" fill="#6cbf2a"/><circle cx="518.85" cy="109.34" r="0.96" fill="#6cbf2a"/><circle cx="522.47" cy="115.66" r="0.96" fill="#6cbf2a"/><circle cx="526.10" cy="121.54" r="0.96" fill="#6cbf2a"/><circle cx="529.72" cy="127.11" r="0.96" fill="#6cbf2a"/><circle cx="533.34" cy="132.48" r="0.96" fill="#6cbf2a"/><circle cx="536.97" cy="137.69" r="0.96" fill="#6cbf2a"/><circle cx="540.59" cy="142.73" r="0.96" fill="#6cbf2a"/><circle cx="544.21" cy="147.62" r="0.96" fill="#6cbf2a"/><circle cx="547.84" cy="152.38" r="0.96" fill="#6cbf2a"/><circle cx="551.46" cy="157.02" r="0.96" fill="#6cbf2a"/><circle cx="555.08" cy="161.55" r="0.96" fill="#6cbf2a"/><circle cx="558.70" cy="166.00" r="0.96" fill="#6cbf2a"/><circle cx="562.33" cy="170.35" r="0.96" fill="#6cbf2a"/><circle cx="565.95" cy="174.56" r="0.96" fill="#6cbf2a"/><circle cx="569.57" cy="178.64" r="0.96" fill="#6cbf2a"/><circle cx="573.20" cy="182.59" r="0.96" fill="#6cbf2a"/><circle cx="576.82" cy="186.42" r="0.96" fill="#6cbf2a"/><circle cx="580.44" cy="190.12" r="0.96" fill="#6cbf2a"/><circle cx="584.07" cy="193.69" r="0.96" fill="#6cbf2a"/><circle cx="587.69" cy="197.12" r="0.96" fill="#6cbf2a"/><circle cx="591.31" cy="200.46" r="0.96" fill="#6cbf2a"/><circle cx="594.93" cy="203.72" r="0.96" fill="#6cbf2a"/><circle cx="598.56" cy="206.94" r="0.96" fill="#6cbf2a"/><circle cx="602.18" cy="210.14" r="0.96" fill="#6cbf2a"/><circle cx="605.80" cy="213.36" r="0.96" fill="#6cbf2a"/><circle cx="609.43" cy="216.90" r="0.96" fill="#6cbf2a"/><circle cx="613.05" cy="220.41" r="0.96" fill="#6cbf2a"/><circle cx="616.67" cy="222.89" r="0.96" fill="#6cbf2a"/><circle cx="620.29" cy="224.05" r="0.96" fill="#6cbf2a"/><circle cx="623.92" cy="225.32" r="0.96" fill="#6cbf2a"/><circle cx="627.54" cy="227.69" r="0.96" fill="#6cbf2a"/><circle cx="631.16" cy="230.09" r="0.96" fill="#6cbf2a"/><circle cx="634.79" cy="231.92" r="0.96" fill="#6cbf2a"/><circle cx="638.41" cy="233.53" r="0.96" fill="#6cbf2a"/><circle cx="641.67" cy="234.74" r="0.96" fill="#6cbf2a"/>
<polyline points="384.80,236.60 388.42,225.34 392.05,214.13 395.67,202.99 399.29,191.91 402.92,180.91 406.54,169.99 410.16,159.17 413.78,148.46 417.41,137.88 421.03,127.44 424.65,117.18 428.28,107.12 431.90,97.31 435.52,87.78 439.14,78.60 442.77,69.85 446.39,61.65 450.01,54.12 453.64,47.49 457.26,42.04 460.88,38.18 464.51,36.74 468.13,37.46 471.75,39.40 475.38,42.17 479.00,45.40 482.62,48.76 486.24,53.13 489.87,58.58 493.49,64.65 497.11,70.88 500.74,76.98 504.36,83.46 507.98,90.28 511.61,97.27 515.23,104.24 518.85,111.01 522.47,117.40 526.10,123.30 529.72,128.97 533.34,134.47 536.97,139.82 540.59,145.02 544.21,150.09 547.84,155.03 551.46,159.85 555.08,164.56 558.70,169.17 562.33,173.65 565.95,178.00 569.57,182.20 573.20,186.24 576.82,190.12 580.44,193.84 584.07,197.41 587.69,200.87 591.31,204.24 594.93,207.54 598.56,210.78 602.18,214.00 605.80,217.19 609.43,220.32 613.05,223.40 616.67,226.44 620.29,229.42 623.92,232.34 627.54,235.21" fill="none" stroke="#929292" stroke-width="0.7" stroke-linejoin="round"/>
<path d="M387.22 224.14L389.62 226.54M389.62 224.14L387.22 226.54" stroke="#6a6a6a" stroke-width="0.8"/><path d="M390.85 212.93L393.25 215.33M393.25 212.93L390.85 215.33" stroke="#6a6a6a" stroke-width="0.8"/><path d="M394.47 201.79L396.87 204.19M396.87 201.79L394.47 204.19" stroke="#6a6a6a" stroke-width="0.8"/><path d="M398.09 190.71L400.49 193.11M400.49 190.71L398.09 193.11" stroke="#6a6a6a" stroke-width="0.8"/><path d="M401.72 179.71L404.12 182.11M404.12 179.71L401.72 182.11" stroke="#6a6a6a" stroke-width="0.8"/><path d="M405.34 168.79L407.74 171.19M407.74 168.79L405.34 171.19" stroke="#6a6a6a" stroke-width="0.8"/><path d="M408.96 157.97L411.36 160.37M411.36 157.97L408.96 160.37" stroke="#6a6a6a" stroke-width="0.8"/><path d="M412.58 147.26L414.98 149.66M414.98 147.26L412.58 149.66" stroke="#6a6a6a" stroke-width="0.8"/><path d="M416.21 136.68L418.61 139.08M418.61 136.68L416.21 139.08" stroke="#6a6a6a" stroke-width="0.8"/><path d="M419.83 126.24L422.23 128.64M422.23 126.24L419.83 128.64" stroke="#6a6a6a" stroke-width="0.8"/><path d="M423.45 115.98L425.85 118.38M425.85 115.98L423.45 118.38" stroke="#6a6a6a" stroke-width="0.8"/><path d="M427.08 105.92L429.48 108.32M429.48 105.92L427.08 108.32" stroke="#6a6a6a" stroke-width="0.8"/><path d="M430.70 96.11L433.10 98.51M433.10 96.11L430.70 98.51" stroke="#6a6a6a" stroke-width="0.8"/><path d="M434.32 86.58L436.72 88.98M436.72 86.58L434.32 88.98" stroke="#6a6a6a" stroke-width="0.8"/><path d="M437.94 77.40L440.34 79.80M440.34 77.40L437.94 79.80" stroke="#6a6a6a" stroke-width="0.8"/><path d="M441.57 68.65L443.97 71.05M443.97 68.65L441.57 71.05" stroke="#6a6a6a" stroke-width="0.8"/><path d="M445.19 60.45L447.59 62.85M447.59 60.45L445.19 62.85" stroke="#6a6a6a" stroke-width="0.8"/><path d="M448.81 52.92L451.21 55.32M451.21 52.92L448.81 55.32" stroke="#6a6a6a" stroke-width="0.8"/><path d="M452.44 46.29L454.84 48.69M454.84 46.29L452.44 48.69" stroke="#6a6a6a" stroke-width="0.8"/><path d="M456.06 40.84L458.46 43.24M458.46 40.84L456.06 43.24" stroke="#6a6a6a" stroke-width="0.8"/><path d="M459.68 36.98L462.08 39.38M462.08 36.98L459.68 39.38" stroke="#6a6a6a" stroke-width="0.8"/><path d="M463.31 35.54L465.71 37.94M465.71 35.54L463.31 37.94" stroke="#6a6a6a" stroke-width="0.8"/><path d="M466.93 36.26L469.33 38.66M469.33 36.26L466.93 38.66" stroke="#6a6a6a" stroke-width="0.8"/><path d="M470.55 38.20L472.95 40.60M472.95 38.20L470.55 40.60" stroke="#6a6a6a" stroke-width="0.8"/><path d="M474.18 40.97L476.57 43.37M476.57 40.97L474.18 43.37" stroke="#6a6a6a" stroke-width="0.8"/><path d="M477.80 44.20L480.20 46.60M480.20 44.20L477.80 46.60" stroke="#6a6a6a" stroke-width="0.8"/><path d="M481.42 47.56L483.82 49.96M483.82 47.56L481.42 49.96" stroke="#6a6a6a" stroke-width="0.8"/><path d="M485.04 51.93L487.44 54.33M487.44 51.93L485.04 54.33" stroke="#6a6a6a" stroke-width="0.8"/><path d="M488.67 57.38L491.07 59.78M491.07 57.38L488.67 59.78" stroke="#6a6a6a" stroke-width="0.8"/><path d="M492.29 63.45L494.69 65.85M494.69 63.45L492.29 65.85" stroke="#6a6a6a" stroke-width="0.8"/><path d="M495.91 69.68L498.31 72.08M498.31 69.68L495.91 72.08" stroke="#6a6a6a" stroke-width="0.8"/><path d="M499.54 75.78L501.94 78.18M501.94 75.78L499.54 78.18" stroke="#6a6a6a" stroke-width="0.8"/><path d="M503.16 82.26L505.56 84.66M505.56 82.26L503.16 84.66" stroke="#6a6a6a" stroke-width="0.8"/><path d="M506.78 89.08L509.18 91.48M509.18 89.08L506.78 91.48" stroke="#6a6a6a" stroke-width="0.8"/><path d="M510.41 96.07L512.81 98.47M512.81 96.07L510.41 98.47" stroke="#6a6a6a" stroke-width="0.8"/><path d="M514.03 103.04L516.43 105.44M516.43 103.04L514.03 105.44" stroke="#6a6a6a" stroke-width="0.8"/><path d="M517.65 109.81L520.05 112.21M520.05 109.81L517.65 112.21" stroke="#6a6a6a" stroke-width="0.8"/><path d="M521.27 116.20L523.67 118.60M523.67 116.20L521.27 118.60" stroke="#6a6a6a" stroke-width="0.8"/><path d="M524.90 122.10L527.30 124.50M527.30 122.10L524.90 124.50" stroke="#6a6a6a" stroke-width="0.8"/><path d="M528.52 127.77L530.92 130.17M530.92 127.77L528.52 130.17" stroke="#6a6a6a" stroke-width="0.8"/><path d="M532.14 133.27L534.54 135.67M534.54 133.27L532.14 135.67" stroke="#6a6a6a" stroke-width="0.8"/><path d="M535.77 138.62L538.17 141.02M538.17 138.62L535.77 141.02" stroke="#6a6a6a" stroke-width="0.8"/><path d="M539.39 143.82L541.79 146.22M541.79 143.82L539.39 146.22" stroke="#6a6a6a" stroke-width="0.8"/><path d="M543.01 148.89L545.41 151.29M545.41 148.89L543.01 151.29" stroke="#6a6a6a" stroke-width="0.8"/><path d="M546.63 153.83L549.04 156.23M549.04 153.83L546.63 156.23" stroke="#6a6a6a" stroke-width="0.8"/><path d="M550.26 158.65L552.66 161.05M552.66 158.65L550.26 161.05" stroke="#6a6a6a" stroke-width="0.8"/><path d="M553.88 163.36L556.28 165.76M556.28 163.36L553.88 165.76" stroke="#6a6a6a" stroke-width="0.8"/><path d="M557.50 167.97L559.90 170.37M559.90 167.97L557.50 170.37" stroke="#6a6a6a" stroke-width="0.8"/><path d="M561.13 172.45L563.53 174.85M563.53 172.45L561.13 174.85" stroke="#6a6a6a" stroke-width="0.8"/><path d="M564.75 176.80L567.15 179.20M567.15 176.80L564.75 179.20" stroke="#6a6a6a" stroke-width="0.8"/><path d="M568.37 181.00L570.77 183.40M570.77 181.00L568.37 183.40" stroke="#6a6a6a" stroke-width="0.8"/><path d="M572.00 185.04L574.40 187.44M574.40 185.04L572.00 187.44" stroke="#6a6a6a" stroke-width="0.8"/><path d="M575.62 188.92L578.02 191.32M578.02 188.92L575.62 191.32" stroke="#6a6a6a" stroke-width="0.8"/><path d="M579.24 192.64L581.64 195.04M581.64 192.64L579.24 195.04" stroke="#6a6a6a" stroke-width="0.8"/><path d="M582.87 196.21L585.27 198.61M585.27 196.21L582.87 198.61" stroke="#6a6a6a" stroke-width="0.8"/><path d="M586.49 199.67L588.89 202.07M588.89 199.67L586.49 202.07" stroke="#6a6a6a" stroke-width="0.8"/><path d="M590.11 203.04L592.51 205.44M592.51 203.04L590.11 205.44" stroke="#6a6a6a" stroke-width="0.8"/><path d="M593.73 206.34L596.13 208.74M596.13 206.34L593.73 208.74" stroke="#6a6a6a" stroke-width="0.8"/><path d="M597.36 209.58L599.76 211.98M599.76 209.58L597.36 211.98" stroke="#6a6a6a" stroke-width="0.8"/><path d="M600.98 212.80L603.38 215.20M603.38 212.80L600.98 215.20" stroke="#6a6a6a" stroke-width="0.8"/><path d="M604.60 215.99L607.00 218.39M607.00 215.99L604.60 218.39" stroke="#6a6a6a" stroke-width="0.8"/><path d="M608.23 219.12L610.63 221.52M610.63 219.12L608.23 221.52" stroke="#6a6a6a" stroke-width="0.8"/><path d="M611.85 222.20L614.25 224.60M614.25 222.20L611.85 224.60" stroke="#6a6a6a" stroke-width="0.8"/><path d="M615.47 225.24L617.87 227.64M617.87 225.24L615.47 227.64" stroke="#6a6a6a" stroke-width="0.8"/><path d="M619.09 228.22L621.50 230.62M621.50 228.22L619.09 230.62" stroke="#6a6a6a" stroke-width="0.8"/><path d="M622.72 231.14L625.12 233.54M625.12 231.14L622.72 233.54" stroke="#6a6a6a" stroke-width="0.8"/><path d="M626.34 234.01L628.74 236.41M628.74 234.01L626.34 236.41" stroke="#6a6a6a" stroke-width="0.8"/>
<polyline points="384.80,236.60 388.42,225.44 392.05,214.32 395.67,203.24 399.29,192.20 402.92,181.21 406.54,170.29 410.16,159.43 413.78,148.65 417.41,137.96 421.03,127.37 424.65,116.92 428.28,106.61 431.90,96.49 435.52,86.59 439.14,76.97 442.77,67.70 446.39,58.89 450.01,50.68 453.64,43.29 457.26,37.06 460.88,32.48 464.51,30.69 468.13,31.59 471.75,33.98 475.38,37.36 479.00,41.27 482.62,45.41 486.24,51.05 489.87,57.93 493.49,65.34 497.11,72.56 500.74,79.38 504.36,86.41 507.98,93.54 511.61,100.65 515.23,107.58 518.85,114.21 522.47,120.40 526.10,126.22 529.72,131.84 533.34,137.27 536.97,142.54 540.59,147.65 544.21,152.63 547.84,157.48 551.46,162.23 555.08,166.88 558.70,171.41 562.33,175.80 565.95,180.05 569.57,184.17 573.20,188.16 576.82,192.07 580.44,195.98 584.07,199.84 587.69,203.58 591.31,207.13 594.93,210.42 598.56,213.36 602.18,216.08 605.80,218.72 609.43,221.27 613.05,223.72 616.67,226.04 620.29,228.23 623.92,230.26 627.54,232.12 631.16,233.80 634.79,235.27 635.87,235.67" fill="none" stroke="#f58a8a" stroke-width="0.7" stroke-linejoin="round"/>
<circle cx="388.42" cy="225.44" r="1.20" fill="#f0404c"/><circle cx="392.05" cy="214.32" r="1.20" fill="#f0404c"/><circle cx="395.67" cy="203.24" r="1.20" fill="#f0404c"/><circle cx="399.29" cy="192.20" r="1.20" fill="#f0404c"/><circle cx="402.92" cy="181.21" r="1.20" fill="#f0404c"/><circle cx="406.54" cy="170.29" r="1.20" fill="#f0404c"/><circle cx="410.16" cy="159.43" r="1.20" fill="#f0404c"/><circle cx="413.78" cy="148.65" r="1.20" fill="#f0404c"/><circle cx="417.41" cy="137.96" r="1.20" fill="#f0404c"/><circle cx="421.03" cy="127.37" r="1.20" fill="#f0404c"/><circle cx="424.65" cy="116.92" r="1.20" fill="#f0404c"/><circle cx="428.28" cy="106.61" r="1.20" fill="#f0404c"/><circle cx="431.90" cy="96.49" r="1.20" fill="#f0404c"/><circle cx="435.52" cy="86.59" r="1.20" fill="#f0404c"/><circle cx="439.14" cy="76.97" r="1.20" fill="#f0404c"/><circle cx="442.77" cy="67.70" r="1.20" fill="#f0404c"/><circle cx="446.39" cy="58.89" r="1.20" fill="#f0404c"/><circle cx="450.01" cy="50.68" r="1.20" fill="#f0404c"/><circle cx="453.64" cy="43.29" r="1.20" fill="#f0404c"/><circle cx="457.26" cy="37.06" r="1.20" fill="#f0404c"/><circle cx="460.88" cy="32.48" r="1.20" fill="#f0404c"/><circle cx="464.51" cy="30.69" r="1.20" fill="#f0404c"/><circle cx="468.13" cy="31.59" r="1.20" fill="#f0404c"/><circle cx="471.75" cy="33.98" r="1.20" fill="#f0404c"/><circle cx="475.38" cy="37.36" r="1.20" fill="#f0404c"/><circle cx="479.00" cy="41.27" r="1.20" fill="#f0404c"/><circle cx="482.62" cy="45.41" r="1.20" fill="#f0404c"/><circle cx="486.24" cy="51.05" r="1.20" fill="#f0404c"/><circle cx="489.87" cy="57.93" r="1.20" fill="#f0404c"/><circle cx="493.49" cy="65.34" r="1.20" fill="#f0404c"/><circle cx="497.11" cy="72.56" r="1.20" fill="#f0404c"/><circle cx="500.74" cy="79.38" r="1.20" fill="#f0404c"/><circle cx="504.36" cy="86.41" r="1.20" fill="#f0404c"/><circle cx="507.98" cy="93.54" r="1.20" fill="#f0404c"/><circle cx="511.61" cy="100.65" r="1.20" fill="#f0404c"/><circle cx="515.23" cy="107.58" r="1.20" fill="#f0404c"/><circle cx="518.85" cy="114.21" r="1.20" fill="#f0404c"/><circle cx="522.47" cy="120.40" r="1.20" fill="#f0404c"/><circle cx="526.10" cy="126.22" r="1.20" fill="#f0404c"/><circle cx="529.72" cy="131.84" r="1.20" fill="#f0404c"/><circle cx="533.34" cy="137.27" r="1.20" fill="#f0404c"/><circle cx="536.97" cy="142.54" r="1.20" fill="#f0404c"/><circle cx="540.59" cy="147.65" r="1.20" fill="#f0404c"/><circle cx="544.21" cy="152.63" r="1.20" fill="#f0404c"/><circle cx="547.84" cy="157.48" r="1.20" fill="#f0404c"/><circle cx="551.46" cy="162.23" r="1.20" fill="#f0404c"/><circle cx="555.08" cy="166.88" r="1.20" fill="#f0404c"/><circle cx="558.70" cy="171.41" r="1.20" fill="#f0404c"/><circle cx="562.33" cy="175.80" r="1.20" fill="#f0404c"/><circle cx="565.95" cy="180.05" r="1.20" fill="#f0404c"/><circle cx="569.57" cy="184.17" r="1.20" fill="#f0404c"/><circle cx="573.20" cy="188.16" r="1.20" fill="#f0404c"/><circle cx="576.82" cy="192.07" r="1.20" fill="#f0404c"/><circle cx="580.44" cy="195.98" r="1.20" fill="#f0404c"/><circle cx="584.07" cy="199.84" r="1.20" fill="#f0404c"/><circle cx="587.69" cy="203.58" r="1.20" fill="#f0404c"/><circle cx="591.31" cy="207.13" r="1.20" fill="#f0404c"/><circle cx="594.93" cy="210.42" r="1.20" fill="#f0404c"/><circle cx="598.56" cy="213.36" r="1.20" fill="#f0404c"/><circle cx="602.18" cy="216.08" r="1.20" fill="#f0404c"/><circle cx="605.80" cy="218.72" r="1.20" fill="#f0404c"/><circle cx="609.43" cy="221.27" r="1.20" fill="#f0404c"/><circle cx="613.05" cy="223.72" r="1.20" fill="#f0404c"/><circle cx="616.67" cy="226.04" r="1.20" fill="#f0404c"/><circle cx="620.29" cy="228.23" r="1.20" fill="#f0404c"/><circle cx="623.92" cy="230.26" r="1.20" fill="#f0404c"/><circle cx="627.54" cy="232.12" r="1.20" fill="#f0404c"/><circle cx="631.16" cy="233.80" r="1.20" fill="#f0404c"/><circle cx="634.79" cy="235.27" r="1.20" fill="#f0404c"/><circle cx="635.87" cy="235.67" r="1.20" fill="#f0404c"/>
<polyline points="384.80,236.60 388.42,225.32 392.05,214.11 395.67,202.98 399.29,191.94 402.92,180.99 406.54,170.15 410.16,159.43 413.78,148.84 417.41,138.41 421.03,128.16 424.65,118.10 428.28,108.28 431.90,98.72 435.52,89.48 439.14,80.62 442.77,72.20 446.39,64.31 450.01,57.09 453.64,50.68 457.26,45.29 460.88,41.25 464.51,38.97 468.13,38.82 471.75,40.43 475.38,43.17 479.00,46.54 482.62,50.13 486.24,54.92 489.87,60.93 493.49,67.48 497.11,73.92 500.74,80.30 504.36,87.02 507.98,93.92 511.61,100.85 515.23,107.67 518.85,114.24 522.47,120.40 526.10,126.23 529.72,131.92 533.34,137.45 536.97,142.85 540.59,148.10 544.21,153.22 547.84,158.21 551.46,163.08 555.08,167.82 558.70,172.42 562.33,176.88 565.95,181.19 569.57,185.34 573.20,189.34 576.82,193.18 580.44,196.88 584.07,200.47 587.69,203.96 591.31,207.36 594.93,210.71 598.56,214.02 602.18,217.28 605.80,220.49 609.43,223.65 613.05,226.75 616.67,229.78 620.29,232.76 623.92,235.67" fill="none" stroke="#6a9cf0" stroke-width="1.4" stroke-opacity="0.45" stroke-linejoin="round"/>

<polyline points="384.80,236.60 388.42,224.61 392.05,212.75 395.67,201.01 399.29,189.41 402.92,177.97 406.54,166.71 410.16,155.63 413.78,144.76 417.41,134.12 421.03,123.75 424.65,113.66 428.28,103.90 431.90,94.52 435.52,85.55 439.14,77.07 442.77,69.13 446.39,61.84 450.01,55.29 453.64,49.62 457.26,44.99 460.88,41.63 464.51,39.82 468.13,39.73 471.75,41.23 475.38,43.80 479.00,46.99 482.62,50.36 486.24,54.75 489.87,60.34 493.49,66.53 497.11,72.73 500.74,78.76 504.36,85.11 507.98,91.66 511.61,98.31 515.23,104.91 518.85,111.34 522.47,117.48 526.10,123.25 529.72,128.84 533.34,134.32 536.97,139.67 540.59,144.89 544.21,149.99 547.84,154.97 551.46,159.83 555.08,164.56 558.70,169.17 562.33,173.65 565.95,178.00 569.57,182.20 573.20,186.24 576.82,190.12 580.44,193.86 584.07,197.50 587.69,201.03 591.31,204.44 594.93,207.74 598.56,210.91 602.18,213.96 605.80,216.92 609.43,219.80 613.05,222.61 616.67,225.32 620.29,227.95 623.92,230.47 627.54,232.90 631.16,235.21" fill="none" stroke="#6cc294" stroke-width="0.7" stroke-linejoin="round"/>
<circle cx="388.42" cy="224.61" r="0.60" fill="#33a867"/><circle cx="392.05" cy="212.75" r="0.60" fill="#33a867"/><circle cx="395.67" cy="201.01" r="0.60" fill="#33a867"/><circle cx="399.29" cy="189.41" r="0.60" fill="#33a867"/><circle cx="402.92" cy="177.97" r="0.60" fill="#33a867"/><circle cx="406.54" cy="166.71" r="0.60" fill="#33a867"/><circle cx="410.16" cy="155.63" r="0.60" fill="#33a867"/><circle cx="413.78" cy="144.76" r="0.60" fill="#33a867"/><circle cx="417.41" cy="134.12" r="0.60" fill="#33a867"/><circle cx="421.03" cy="123.75" r="0.60" fill="#33a867"/><circle cx="424.65" cy="113.66" r="0.60" fill="#33a867"/><circle cx="428.28" cy="103.90" r="0.60" fill="#33a867"/><circle cx="431.90" cy="94.52" r="0.60" fill="#33a867"/><circle cx="435.52" cy="85.55" r="0.60" fill="#33a867"/><circle cx="439.14" cy="77.07" r="0.60" fill="#33a867"/><circle cx="442.77" cy="69.13" r="0.60" fill="#33a867"/><circle cx="446.39" cy="61.84" r="0.60" fill="#33a867"/><circle cx="450.01" cy="55.29" r="0.60" fill="#33a867"/><circle cx="453.64" cy="49.62" r="0.60" fill="#33a867"/><circle cx="457.26" cy="44.99" r="0.60" fill="#33a867"/><circle cx="460.88" cy="41.63" r="0.60" fill="#33a867"/><circle cx="464.51" cy="39.82" r="0.60" fill="#33a867"/><circle cx="468.13" cy="39.73" r="0.60" fill="#33a867"/><circle cx="471.75" cy="41.23" r="0.60" fill="#33a867"/><circle cx="475.38" cy="43.80" r="0.60" fill="#33a867"/><circle cx="479.00" cy="46.99" r="0.60" fill="#33a867"/><circle cx="482.62" cy="50.36" r="0.60" fill="#33a867"/><circle cx="486.24" cy="54.75" r="0.60" fill="#33a867"/><circle cx="489.87" cy="60.34" r="0.60" fill="#33a867"/><circle cx="493.49" cy="66.53" r="0.60" fill="#33a867"/><circle cx="497.11" cy="72.73" r="0.60" fill="#33a867"/><circle cx="500.74" cy="78.76" r="0.60" fill="#33a867"/><circle cx="504.36" cy="85.11" r="0.60" fill="#33a867"/><circle cx="507.98" cy="91.66" r="0.60" fill="#33a867"/><circle cx="511.61" cy="98.31" r="0.60" fill="#33a867"/><circle cx="515.23" cy="104.91" r="0.60" fill="#33a867"/><circle cx="518.85" cy="111.34" r="0.60" fill="#33a867"/><circle cx="522.47" cy="117.48" r="0.60" fill="#33a867"/><circle cx="526.10" cy="123.25" r="0.60" fill="#33a867"/><circle cx="529.72" cy="128.84" r="0.60" fill="#33a867"/><circle cx="533.34" cy="134.32" r="0.60" fill="#33a867"/><circle cx="536.97" cy="139.67" r="0.60" fill="#33a867"/><circle cx="540.59" cy="144.89" r="0.60" fill="#33a867"/><circle cx="544.21" cy="149.99" r="0.60" fill="#33a867"/><circle cx="547.84" cy="154.97" r="0.60" fill="#33a867"/><circle cx="551.46" cy="159.83" r="0.60" fill="#33a867"/><circle cx="555.08" cy="164.56" r="0.60" fill="#33a867"/><circle cx="558.70" cy="169.17" r="0.60" fill="#33a867"/><circle cx="562.33" cy="173.65" r="0.60" fill="#33a867"/><circle cx="565.95" cy="178.00" r="0.60" fill="#33a867"/><circle cx="569.57" cy="182.20" r="0.60" fill="#33a867"/><circle cx="573.20" cy="186.24" r="0.60" fill="#33a867"/><circle cx="576.82" cy="190.12" r="0.60" fill="#33a867"/><circle cx="580.44" cy="193.86" r="0.60" fill="#33a867"/><circle cx="584.07" cy="197.50" r="0.60" fill="#33a867"/><circle cx="587.69" cy="201.03" r="0.60" fill="#33a867"/><circle cx="591.31" cy="204.44" r="0.60" fill="#33a867"/><circle cx="594.93" cy="207.74" r="0.60" fill="#33a867"/><circle cx="598.56" cy="210.91" r="0.60" fill="#33a867"/><circle cx="602.18" cy="213.96" r="0.60" fill="#33a867"/><circle cx="605.80" cy="216.92" r="0.60" fill="#33a867"/><circle cx="609.43" cy="219.80" r="0.60" fill="#33a867"/><circle cx="613.05" cy="222.61" r="0.60" fill="#33a867"/><circle cx="616.67" cy="225.32" r="0.60" fill="#33a867"/><circle cx="620.29" cy="227.95" r="0.60" fill="#33a867"/><circle cx="623.92" cy="230.47" r="0.60" fill="#33a867"/><circle cx="627.54" cy="232.90" r="0.60" fill="#33a867"/><circle cx="631.16" cy="235.21" r="0.60" fill="#33a867"/>
<polyline points="384.80,236.60 388.42,224.01 392.05,211.62 395.67,199.46 399.29,187.54 402.92,175.87 406.54,164.47 410.16,153.36 413.78,142.56 417.41,132.10 421.03,122.00 424.65,112.28 428.28,102.97 431.90,94.12 435.52,85.76 439.14,77.93 442.77,70.68 446.39,64.06 450.01,58.13 453.64,52.96 457.26,48.62 460.88,45.20 464.51,42.82 468.13,41.58 471.75,41.58 475.38,43.00 479.00,45.43 482.62,48.44 486.24,51.63 489.87,55.76 493.49,61.00 497.11,66.84 500.74,72.77 504.36,78.71 507.98,85.20 511.61,92.03 515.23,98.95 518.85,105.72 522.47,112.10 526.10,117.84 529.72,122.79 533.34,127.31 536.97,131.52 540.59,135.49 544.21,139.25 547.84,142.86 551.46,146.37 555.08,149.83 558.70,153.28 562.33,156.79 565.95,160.39 569.57,164.14 573.20,168.08 576.82,172.16 580.44,176.30 584.07,180.49 587.69,184.69 591.31,188.87 594.93,193.11 598.56,197.57 602.18,202.07 605.80,206.39 609.43,210.33 613.05,213.66 616.67,216.36 620.29,218.71 623.92,220.94 627.54,222.81 631.16,224.14 634.79,225.29 638.41,226.69 642.03,228.49 645.66,230.56" fill="none" stroke="#bb8af3" stroke-width="1.4" stroke-opacity="0.45" stroke-linejoin="round"/>
<path d="M388.42 222.45L389.74 224.01L388.42 225.57L387.10 224.01Z" fill="#a45ff0"/><path d="M392.05 210.06L393.37 211.62L392.05 213.18L390.73 211.62Z" fill="#a45ff0"/><path d="M395.67 197.90L396.99 199.46L395.67 201.02L394.35 199.46Z" fill="#a45ff0"/><path d="M399.29 185.98L400.61 187.54L399.29 189.10L397.97 187.54Z" fill="#a45ff0"/><path d="M402.92 174.31L404.24 175.87L402.92 177.43L401.60 175.87Z" fill="#a45ff0"/><path d="M406.54 162.91L407.86 164.47L406.54 166.03L405.22 164.47Z" fill="#a45ff0"/><path d="M410.16 151.80L411.48 153.36L410.16 154.92L408.84 153.36Z" fill="#a45ff0"/><path d="M413.78 141.00L415.10 142.56L413.78 144.12L412.46 142.56Z" fill="#a45ff0"/><path d="M417.41 130.54L418.73 132.10L417.41 133.66L416.09 132.10Z" fill="#a45ff0"/><path d="M421.03 120.44L422.35 122.00L421.03 123.56L419.71 122.00Z" fill="#a45ff0"/><path d="M424.65 110.72L425.97 112.28L424.65 113.84L423.33 112.28Z" fill="#a45ff0"/><path d="M428.28 101.41L429.60 102.97L428.28 104.53L426.96 102.97Z" fill="#a45ff0"/><path d="M431.90 92.56L433.22 94.12L431.90 95.68L430.58 94.12Z" fill="#a45ff0"/><path d="M435.52 84.20L436.84 85.76L435.52 87.32L434.20 85.76Z" fill="#a45ff0"/><path d="M439.14 76.37L440.46 77.93L439.14 79.49L437.82 77.93Z" fill="#a45ff0"/><path d="M442.77 69.12L444.09 70.68L442.77 72.24L441.45 70.68Z" fill="#a45ff0"/><path d="M446.39 62.50L447.71 64.06L446.39 65.62L445.07 64.06Z" fill="#a45ff0"/><path d="M450.01 56.57L451.33 58.13L450.01 59.69L448.69 58.13Z" fill="#a45ff0"/><path d="M453.64 51.40L454.96 52.96L453.64 54.52L452.32 52.96Z" fill="#a45ff0"/><path d="M457.26 47.06L458.58 48.62L457.26 50.18L455.94 48.62Z" fill="#a45ff0"/><path d="M460.88 43.64L462.20 45.20L460.88 46.76L459.56 45.20Z" fill="#a45ff0"/><path d="M464.51 41.26L465.83 42.82L464.51 44.38L463.19 42.82Z" fill="#a45ff0"/><path d="M468.13 40.02L469.45 41.58L468.13 43.14L466.81 41.58Z" fill="#a45ff0"/><path d="M471.75 40.02L473.07 41.58L471.75 43.14L470.43 41.58Z" fill="#a45ff0"/><path d="M475.38 41.44L476.69 43.00L475.38 44.56L474.06 43.00Z" fill="#a45ff0"/><path d="M479.00 43.87L480.32 45.43L479.00 46.99L477.68 45.43Z" fill="#a45ff0"/><path d="M482.62 46.88L483.94 48.44L482.62 50.00L481.30 48.44Z" fill="#a45ff0"/><path d="M486.24 50.07L487.56 51.63L486.24 53.19L484.92 51.63Z" fill="#a45ff0"/><path d="M489.87 54.20L491.19 55.76L489.87 57.32L488.55 55.76Z" fill="#a45ff0"/><path d="M493.49 59.44L494.81 61.00L493.49 62.56L492.17 61.00Z" fill="#a45ff0"/><path d="M497.11 65.28L498.43 66.84L497.11 68.40L495.79 66.84Z" fill="#a45ff0"/><path d="M500.74 71.21L502.06 72.77L500.74 74.33L499.42 72.77Z" fill="#a45ff0"/><path d="M504.36 77.15L505.68 78.71L504.36 80.27L503.04 78.71Z" fill="#a45ff0"/><path d="M507.98 83.64L509.30 85.20L507.98 86.76L506.66 85.20Z" fill="#a45ff0"/><path d="M511.61 90.47L512.93 92.03L511.61 93.59L510.29 92.03Z" fill="#a45ff0"/><path d="M515.23 97.39L516.55 98.95L515.23 100.51L513.91 98.95Z" fill="#a45ff0"/><path d="M518.85 104.16L520.17 105.72L518.85 107.28L517.53 105.72Z" fill="#a45ff0"/><path d="M522.47 110.54L523.79 112.10L522.47 113.66L521.15 112.10Z" fill="#a45ff0"/><path d="M526.10 116.28L527.42 117.84L526.10 119.40L524.78 117.84Z" fill="#a45ff0"/><path d="M529.72 121.23L531.04 122.79L529.72 124.35L528.40 122.79Z" fill="#a45ff0"/><path d="M533.34 125.75L534.66 127.31L533.34 128.87L532.02 127.31Z" fill="#a45ff0"/><path d="M536.97 129.96L538.29 131.52L536.97 133.08L535.65 131.52Z" fill="#a45ff0"/><path d="M540.59 133.93L541.91 135.49L540.59 137.05L539.27 135.49Z" fill="#a45ff0"/><path d="M544.21 137.69L545.53 139.25L544.21 140.81L542.89 139.25Z" fill="#a45ff0"/><path d="M547.84 141.30L549.16 142.86L547.84 144.42L546.51 142.86Z" fill="#a45ff0"/><path d="M551.46 144.81L552.78 146.37L551.46 147.93L550.14 146.37Z" fill="#a45ff0"/><path d="M555.08 148.27L556.40 149.83L555.08 151.39L553.76 149.83Z" fill="#a45ff0"/><path d="M558.70 151.72L560.02 153.28L558.70 154.84L557.38 153.28Z" fill="#a45ff0"/><path d="M562.33 155.23L563.65 156.79L562.33 158.35L561.01 156.79Z" fill="#a45ff0"/><path d="M565.95 158.83L567.27 160.39L565.95 161.95L564.63 160.39Z" fill="#a45ff0"/><path d="M569.57 162.58L570.89 164.14L569.57 165.70L568.25 164.14Z" fill="#a45ff0"/><path d="M573.20 166.52L574.52 168.08L573.20 169.64L571.88 168.08Z" fill="#a45ff0"/><path d="M576.82 170.60L578.14 172.16L576.82 173.72L575.50 172.16Z" fill="#a45ff0"/><path d="M580.44 174.74L581.76 176.30L580.44 177.86L579.12 176.30Z" fill="#a45ff0"/><path d="M584.07 178.93L585.39 180.49L584.07 182.05L582.75 180.49Z" fill="#a45ff0"/><path d="M587.69 183.13L589.01 184.69L587.69 186.25L586.37 184.69Z" fill="#a45ff0"/><path d="M591.31 187.31L592.63 188.87L591.31 190.43L589.99 188.87Z" fill="#a45ff0"/><path d="M594.93 191.55L596.25 193.11L594.93 194.67L593.61 193.11Z" fill="#a45ff0"/><path d="M598.56 196.01L599.88 197.57L598.56 199.13L597.24 197.57Z" fill="#a45ff0"/><path d="M602.18 200.51L603.50 202.07L602.18 203.63L600.86 202.07Z" fill="#a45ff0"/><path d="M605.80 204.83L607.12 206.39L605.80 207.95L604.48 206.39Z" fill="#a45ff0"/><path d="M609.43 208.77L610.75 210.33L609.43 211.89L608.11 210.33Z" fill="#a45ff0"/><path d="M613.05 212.10L614.37 213.66L613.05 215.22L611.73 213.66Z" fill="#a45ff0"/><path d="M616.67 214.80L617.99 216.36L616.67 217.92L615.35 216.36Z" fill="#a45ff0"/><path d="M620.29 217.15L621.62 218.71L620.29 220.27L618.97 218.71Z" fill="#a45ff0"/><path d="M623.92 219.38L625.24 220.94L623.92 222.50L622.60 220.94Z" fill="#a45ff0"/><path d="M627.54 221.25L628.86 222.81L627.54 224.37L626.22 222.81Z" fill="#a45ff0"/><path d="M631.16 222.58L632.48 224.14L631.16 225.70L629.84 224.14Z" fill="#a45ff0"/><path d="M634.79 223.73L636.11 225.29L634.79 226.85L633.47 225.29Z" fill="#a45ff0"/><path d="M638.41 225.13L639.73 226.69L638.41 228.25L637.09 226.69Z" fill="#a45ff0"/><path d="M642.03 226.93L643.35 228.49L642.03 230.05L640.71 228.49Z" fill="#a45ff0"/><path d="M645.66 229.00L646.98 230.56L645.66 232.12L644.34 230.56Z" fill="#a45ff0"/>
<polyline points="384.80,236.60 388.42,227.36 392.05,218.19 395.67,209.07 399.29,200.03 402.92,191.05 406.54,182.34 410.16,173.92 413.78,165.51 417.41,156.81 421.03,147.56 424.65,136.99 428.28,125.98 431.90,117.67 435.52,107.54 439.14,97.16 442.77,86.60 446.39,77.02 450.01,71.19 453.64,66.03 457.26,61.69 460.88,57.97 464.51,55.12 468.13,52.76 471.75,50.62 475.38,49.29 479.00,49.69 482.62,50.45 486.24,51.88 489.87,54.86 493.49,58.52 497.11,63.60 500.74,72.22 504.36,80.56 507.98,88.99 511.61,97.40 515.23,105.57 518.85,113.31 522.47,120.40 526.10,126.95 529.72,133.21 533.34,139.19 536.97,144.93 540.59,150.45 544.21,155.76 547.84,160.91 551.46,165.90 555.08,170.76 558.70,175.47 562.33,179.98 565.95,184.25 569.57,188.24 573.20,191.91 576.82,195.24 580.44,198.32 584.07,201.25 587.69,204.12 591.31,207.03 594.93,210.08 598.56,213.36 602.18,217.03 605.80,220.89 609.43,224.52 613.05,227.80 616.67,230.91 620.29,233.83 622.11,235.21" fill="none" stroke="#dcb45a" stroke-width="0.7" stroke-linejoin="round"/>
<circle cx="388.42" cy="227.36" r="1.20" fill="#d9a020"/><circle cx="392.05" cy="218.19" r="1.20" fill="#d9a020"/><circle cx="395.67" cy="209.07" r="1.20" fill="#d9a020"/><circle cx="399.29" cy="200.03" r="1.20" fill="#d9a020"/><circle cx="402.92" cy="191.05" r="1.20" fill="#d9a020"/><circle cx="406.54" cy="182.34" r="1.20" fill="#d9a020"/><circle cx="410.16" cy="173.92" r="1.20" fill="#d9a020"/><circle cx="413.78" cy="165.51" r="1.20" fill="#d9a020"/><circle cx="417.41" cy="156.81" r="1.20" fill="#d9a020"/><circle cx="421.03" cy="147.56" r="1.20" fill="#d9a020"/><circle cx="424.65" cy="136.99" r="1.20" fill="#d9a020"/><circle cx="428.28" cy="125.98" r="1.20" fill="#d9a020"/><circle cx="431.90" cy="117.67" r="1.20" fill="#d9a020"/><circle cx="435.52" cy="107.54" r="1.20" fill="#d9a020"/><circle cx="439.14" cy="97.16" r="1.20" fill="#d9a020"/><circle cx="442.77" cy="86.60" r="1.20" fill="#d9a020"/><circle cx="446.39" cy="77.02" r="1.20" fill="#d9a020"/><circle cx="450.01" cy="71.19" r="1.20" fill="#d9a020"/><circle cx="453.64" cy="66.03" r="1.20" fill="#d9a020"/><circle cx="457.26" cy="61.69" r="1.20" fill="#d9a020"/><circle cx="460.88" cy="57.97" r="1.20" fill="#d9a020"/><circle cx="464.51" cy="55.12" r="1.20" fill="#d9a020"/><circle cx="468.13" cy="52.76" r="1.20" fill="#d9a020"/><circle cx="471.75" cy="50.62" r="1.20" fill="#d9a020"/><circle cx="475.38" cy="49.29" r="1.20" fill="#d9a020"/><circle cx="479.00" cy="49.69" r="1.20" fill="#d9a020"/><circle cx="482.62" cy="50.45" r="1.20" fill="#d9a020"/><circle cx="486.24" cy="51.88" r="1.20" fill="#d9a020"/><circle cx="489.87" cy="54.86" r="1.20" fill="#d9a020"/><circle cx="493.49" cy="58.52" r="1.20" fill="#d9a020"/><circle cx="497.11" cy="63.60" r="1.20" fill="#d9a020"/><circle cx="500.74" cy="72.22" r="1.20" fill="#d9a020"/><circle cx="504.36" cy="80.56" r="1.20" fill="#d9a020"/><circle cx="507.98" cy="88.99" r="1.20" fill="#d9a020"/><circle cx="511.61" cy="97.40" r="1.20" fill="#d9a020"/><circle cx="515.23" cy="105.57" r="1.20" fill="#d9a020"/><circle cx="518.85" cy="113.31" r="1.20" fill="#d9a020"/><circle cx="522.47" cy="120.40" r="1.20" fill="#d9a020"/><circle cx="526.10" cy="126.95" r="1.20" fill="#d9a020"/><circle cx="529.72" cy="133.21" r="1.20" fill="#d9a020"/><circle cx="533.34" cy="139.19" r="1.20" fill="#d9a020"/><circle cx="536.97" cy="144.93" r="1.20" fill="#d9a020"/><circle cx="540.59" cy="150.45" r="1.20" fill="#d9a020"/><circle cx="544.21" cy="155.76" r="1.20" fill="#d9a020"/><circle cx="547.84" cy="160.91" r="1.20" fill="#d9a020"/><circle cx="551.46" cy="165.90" r="1.20" fill="#d9a020"/><circle cx="555.08" cy="170.76" r="1.20" fill="#d9a020"/><circle cx="558.70" cy="175.47" r="1.20" fill="#d9a020"/><circle cx="562.33" cy="179.98" r="1.20" fill="#d9a020"/><circle cx="565.95" cy="184.25" r="1.20" fill="#d9a020"/><circle cx="569.57" cy="188.24" r="1.20" fill="#d9a020"/><circle cx="573.20" cy="191.91" r="1.20" fill="#d9a020"/><circle cx="576.82" cy="195.24" r="1.20" fill="#d9a020"/><circle cx="580.44" cy="198.32" r="1.20" fill="#d9a020"/><circle cx="584.07" cy="201.25" r="1.20" fill="#d9a020"/><circle cx="587.69" cy="204.12" r="1.20" fill="#d9a020"/><circle cx="591.31" cy="207.03" r="1.20" fill="#d9a020"/><circle cx="594.93" cy="210.08" r="1.20" fill="#d9a020"/><circle cx="598.56" cy="213.36" r="1.20" fill="#d9a020"/><circle cx="602.18" cy="217.03" r="1.20" fill="#d9a020"/><circle cx="605.80" cy="220.89" r="1.20" fill="#d9a020"/><circle cx="609.43" cy="224.52" r="1.20" fill="#d9a020"/><circle cx="613.05" cy="227.80" r="1.20" fill="#d9a020"/><circle cx="616.67" cy="230.91" r="1.20" fill="#d9a020"/><circle cx="620.29" cy="233.83" r="1.20" fill="#d9a020"/><circle cx="622.11" cy="235.21" r="1.20" fill="#d9a020"/>
<polyline points="384.80,236.60 388.42,226.10 392.05,215.70 395.67,205.39 399.29,195.19 402.92,185.07 406.54,175.03 410.16,165.07 413.78,155.23 417.41,145.55 421.03,136.03 424.65,126.72 428.28,117.73 431.90,108.88 435.52,100.35 439.14,92.51 442.77,84.91 446.39,77.75 450.01,72.35 453.64,69.52 457.26,66.99 460.88,64.41 464.51,62.02 468.13,60.55 471.75,59.62 475.38,58.12 479.00,57.20 482.62,57.19 486.24,58.41 489.87,60.91 493.49,64.62 497.11,70.58 500.74,78.17 504.36,86.85 507.98,96.04 511.61,105.18 515.23,113.71 518.85,121.07 522.47,127.21 526.10,132.69 529.72,138.00 533.34,143.64 536.97,149.99 540.59,156.67 544.21,163.01 547.84,168.38 551.46,173.11 555.08,177.48 558.70,181.55 562.33,185.38 565.95,189.04 569.57,192.52 573.20,195.68 576.82,198.62 580.44,201.45 584.07,204.30 587.69,207.28 591.31,210.51 594.93,214.13 598.56,218.51 602.18,223.08 605.80,227.12 609.43,230.81 613.05,233.77 614.86,234.97" fill="none" stroke="#55d8de" stroke-width="0.7" stroke-linejoin="round"/>
<path d="M388.42 224.66L389.74 227.06L387.10 227.06Z" fill="#1ecbd2"/><path d="M392.05 214.26L393.37 216.66L390.73 216.66Z" fill="#1ecbd2"/><path d="M395.67 203.95L396.99 206.35L394.35 206.35Z" fill="#1ecbd2"/><path d="M399.29 193.75L400.61 196.15L397.97 196.15Z" fill="#1ecbd2"/><path d="M402.92 183.63L404.24 186.03L401.60 186.03Z" fill="#1ecbd2"/><path d="M406.54 173.59L407.86 175.99L405.22 175.99Z" fill="#1ecbd2"/><path d="M410.16 163.63L411.48 166.03L408.84 166.03Z" fill="#1ecbd2"/><path d="M413.78 153.79L415.10 156.19L412.46 156.19Z" fill="#1ecbd2"/><path d="M417.41 144.11L418.73 146.51L416.09 146.51Z" fill="#1ecbd2"/><path d="M421.03 134.59L422.35 136.99L419.71 136.99Z" fill="#1ecbd2"/><path d="M424.65 125.28L425.97 127.68L423.33 127.68Z" fill="#1ecbd2"/><path d="M428.28 116.29L429.60 118.69L426.96 118.69Z" fill="#1ecbd2"/><path d="M431.90 107.44L433.22 109.84L430.58 109.84Z" fill="#1ecbd2"/><path d="M435.52 98.91L436.84 101.31L434.20 101.31Z" fill="#1ecbd2"/><path d="M439.14 91.07L440.46 93.47L437.82 93.47Z" fill="#1ecbd2"/><path d="M442.77 83.47L444.09 85.87L441.45 85.87Z" fill="#1ecbd2"/><path d="M446.39 76.31L447.71 78.71L445.07 78.71Z" fill="#1ecbd2"/><path d="M450.01 70.91L451.33 73.31L448.69 73.31Z" fill="#1ecbd2"/><path d="M453.64 68.08L454.96 70.48L452.32 70.48Z" fill="#1ecbd2"/><path d="M457.26 65.55L458.58 67.95L455.94 67.95Z" fill="#1ecbd2"/><path d="M460.88 62.97L462.20 65.37L459.56 65.37Z" fill="#1ecbd2"/><path d="M464.51 60.58L465.83 62.98L463.19 62.98Z" fill="#1ecbd2"/><path d="M468.13 59.11L469.45 61.51L466.81 61.51Z" fill="#1ecbd2"/><path d="M471.75 58.18L473.07 60.58L470.43 60.58Z" fill="#1ecbd2"/><path d="M475.38 56.68L476.69 59.08L474.06 59.08Z" fill="#1ecbd2"/><path d="M479.00 55.76L480.32 58.16L477.68 58.16Z" fill="#1ecbd2"/><path d="M482.62 55.75L483.94 58.15L481.30 58.15Z" fill="#1ecbd2"/><path d="M486.24 56.97L487.56 59.37L484.92 59.37Z" fill="#1ecbd2"/><path d="M489.87 59.47L491.19 61.87L488.55 61.87Z" fill="#1ecbd2"/><path d="M493.49 63.18L494.81 65.58L492.17 65.58Z" fill="#1ecbd2"/><path d="M497.11 69.14L498.43 71.54L495.79 71.54Z" fill="#1ecbd2"/><path d="M500.74 76.73L502.06 79.13L499.42 79.13Z" fill="#1ecbd2"/><path d="M504.36 85.41L505.68 87.81L503.04 87.81Z" fill="#1ecbd2"/><path d="M507.98 94.60L509.30 97.00L506.66 97.00Z" fill="#1ecbd2"/><path d="M511.61 103.74L512.93 106.14L510.29 106.14Z" fill="#1ecbd2"/><path d="M515.23 112.27L516.55 114.67L513.91 114.67Z" fill="#1ecbd2"/><path d="M518.85 119.63L520.17 122.03L517.53 122.03Z" fill="#1ecbd2"/><path d="M522.47 125.77L523.79 128.17L521.15 128.17Z" fill="#1ecbd2"/><path d="M526.10 131.25L527.42 133.65L524.78 133.65Z" fill="#1ecbd2"/><path d="M529.72 136.56L531.04 138.96L528.40 138.96Z" fill="#1ecbd2"/><path d="M533.34 142.20L534.66 144.60L532.02 144.60Z" fill="#1ecbd2"/><path d="M536.97 148.55L538.29 150.95L535.65 150.95Z" fill="#1ecbd2"/><path d="M540.59 155.23L541.91 157.63L539.27 157.63Z" fill="#1ecbd2"/><path d="M544.21 161.57L545.53 163.97L542.89 163.97Z" fill="#1ecbd2"/><path d="M547.84 166.94L549.16 169.34L546.51 169.34Z" fill="#1ecbd2"/><path d="M551.46 171.67L552.78 174.07L550.14 174.07Z" fill="#1ecbd2"/><path d="M555.08 176.04L556.40 178.44L553.76 178.44Z" fill="#1ecbd2"/><path d="M558.70 180.11L560.02 182.51L557.38 182.51Z" fill="#1ecbd2"/><path d="M562.33 183.94L563.65 186.34L561.01 186.34Z" fill="#1ecbd2"/><path d="M565.95 187.60L567.27 190.00L564.63 190.00Z" fill="#1ecbd2"/><path d="M569.57 191.08L570.89 193.48L568.25 193.48Z" fill="#1ecbd2"/><path d="M573.20 194.24L574.52 196.64L571.88 196.64Z" fill="#1ecbd2"/><path d="M576.82 197.18L578.14 199.58L575.50 199.58Z" fill="#1ecbd2"/><path d="M580.44 200.01L581.76 202.41L579.12 202.41Z" fill="#1ecbd2"/><path d="M584.07 202.86L585.39 205.26L582.75 205.26Z" fill="#1ecbd2"/><path d="M587.69 205.84L589.01 208.24L586.37 208.24Z" fill="#1ecbd2"/><path d="M591.31 209.07L592.63 211.47L589.99 211.47Z" fill="#1ecbd2"/><path d="M594.93 212.69L596.25 215.09L593.61 215.09Z" fill="#1ecbd2"/><path d="M598.56 217.07L599.88 219.47L597.24 219.47Z" fill="#1ecbd2"/><path d="M602.18 221.64L603.50 224.04L600.86 224.04Z" fill="#1ecbd2"/><path d="M605.80 225.68L607.12 228.08L604.48 228.08Z" fill="#1ecbd2"/><path d="M609.43 229.37L610.75 231.77L608.11 231.77Z" fill="#1ecbd2"/><path d="M613.05 232.33L614.37 234.73L611.73 234.73Z" fill="#1ecbd2"/><path d="M614.86 233.53L616.18 235.93L613.54 235.93Z" fill="#1ecbd2"/></g>
<clipPath id="lgl"><rect x="260.55" y="8.40" width="58.70" height="160.10"/></clipPath>
<rect x="260.55" y="8.40" width="58.70" height="160.10" fill="#fff" stroke="#8a8a8a" stroke-width="1.1"/>
<g clip-path="url(#lgl)">
<line x1="262.35" y1="12.40" x2="276.85" y2="12.40" stroke="#555555" stroke-width="1.0" stroke-opacity="1"/>
<rect x="268.45" y="11.20" width="2.40" height="2.40" fill="#3a3a3a"/>
<text transform="translate(278.85,14.50) scale(0.92,1)" class="lg">CC</text>
<line x1="262.35" y1="20.84" x2="276.85" y2="20.84" stroke="#f77d7d" stroke-width="1.6" stroke-opacity="0.45"/>
<circle cx="269.65" cy="20.84" r="1.20" fill="#f03a3a"/>
<text transform="translate(278.85,22.94) scale(0.92,1)" class="lg">ECC_CP_10</text>
<line x1="262.35" y1="29.27" x2="276.85" y2="29.27" stroke="#5b95ec" stroke-width="1.0" stroke-opacity="1"/>
<path d="M269.65 27.83L270.97 30.23L268.33 30.23Z" fill="#2f74e0"/>
<text transform="translate(278.85,31.37) scale(0.92,1)" class="lg">ECC_CP_15</text>
<line x1="262.35" y1="37.70" x2="276.85" y2="37.70" stroke="#8fd3aa" stroke-width="1.8" stroke-opacity="0.45"/>
<path d="M269.65 39.14L270.97 36.74L268.33 36.74Z" fill="#25a05a"/>
<text transform="translate(278.85,39.80) scale(0.92,1)" class="lg">ECC_CP_20</text>
<line x1="262.35" y1="46.14" x2="276.85" y2="46.14" stroke="#b985f3" stroke-width="1.0" stroke-opacity="1"/>
<path d="M269.65 44.58L270.97 46.14L269.65 47.70L268.33 46.14Z" fill="#a259f0"/>
<text transform="translate(278.85,48.24) scale(0.92,1)" class="lg">EC_10</text>
<line x1="262.35" y1="54.58" x2="277.35" y2="54.58" stroke="#e0aa40" stroke-width="1.0" stroke-opacity="1"/>
<path d="M268.21 54.58L270.61 53.26L270.61 55.90Z" fill="#de9a14"/>
<text transform="translate(276.85,56.68) scale(0.92,1)" class="lg">EC_15</text>
<line x1="262.35" y1="63.01" x2="276.85" y2="63.01" stroke="#72dde3" stroke-width="1.8" stroke-opacity="0.45"/>
<circle cx="269.65" cy="63.01" r="1.20" fill="#16c6d0"/>
<text transform="translate(278.85,65.11) scale(0.92,1)" class="lg">EC_20</text>
<line x1="262.35" y1="71.45" x2="276.85" y2="71.45" stroke="#9c6e6e" stroke-width="1.0" stroke-opacity="1"/>
<path d="M269.65 69.89L270.97 71.45L269.65 73.01L268.33 71.45Z" fill="#7e4646"/>
<text transform="translate(278.85,73.55) scale(0.92,1)" class="lg">CFBB_CP_10</text>
<line x1="262.35" y1="79.88" x2="276.85" y2="79.88" stroke="#b8b860" stroke-width="1.8" stroke-opacity="0.45"/>
<circle cx="269.65" cy="79.88" r="1.20" fill="#9c9c24"/>
<text transform="translate(278.85,81.98) scale(0.92,1)" class="lg">CFBB_CP_15</text>
<line x1="262.35" y1="88.32" x2="276.85" y2="88.32" stroke="#ff8a4a" stroke-width="1.0" stroke-opacity="1"/>
<circle cx="269.65" cy="88.32" r="1.20" fill="#ff6412"/>
<text transform="translate(278.85,90.42) scale(0.92,1)" class="lg">CFBB_CP_20</text>
<line x1="262.35" y1="96.75" x2="276.85" y2="96.75" stroke="#8fb4ec" stroke-width="1.6" stroke-opacity="0.45"/>
<path d="M269.65 95.19L270.97 96.75L269.65 98.31L268.33 96.75Z" fill="#3d7fd8"/>
<text transform="translate(278.85,98.85) scale(0.92,1)" class="lg">CFBB_10</text>
<line x1="262.35" y1="105.19" x2="276.85" y2="105.19" stroke="#7dc846" stroke-width="1.0" stroke-opacity="1"/>
<circle cx="269.65" cy="105.19" r="0.96" fill="#6cbf2a"/>
<text transform="translate(278.85,107.29) scale(0.92,1)" class="lg">CFBB_15</text>
<line x1="262.35" y1="113.62" x2="276.85" y2="113.62" stroke="#929292" stroke-width="1.0" stroke-opacity="1"/>
<path d="M268.45 112.42L270.85 114.82M270.85 112.42L268.45 114.82" stroke="#6a6a6a" stroke-width="0.8"/>
<text transform="translate(278.85,115.72) scale(0.92,1)" class="lg">CFBB_20</text>
<line x1="262.35" y1="122.06" x2="276.85" y2="122.06" stroke="#f58a8a" stroke-width="1.6" stroke-opacity="0.45"/>
<circle cx="269.65" cy="122.06" r="1.20" fill="#f0404c"/>
<text transform="translate(278.85,124.16) scale(0.92,1)" class="lg">GC_CP_10</text>
<line x1="262.35" y1="130.49" x2="276.85" y2="130.49" stroke="#6a9cf0" stroke-width="1.0" stroke-opacity="1"/>

<text transform="translate(278.85,132.59) scale(0.92,1)" class="lg">GC_CP_15</text>
<line x1="262.35" y1="138.93" x2="276.85" y2="138.93" stroke="#6cc294" stroke-width="1.0" stroke-opacity="1"/>
<circle cx="269.65" cy="138.93" r="0.60" fill="#33a867"/>
<text transform="translate(278.85,141.03) scale(0.92,1)" class="lg">GC_CP_20</text>
<line x1="262.35" y1="147.36" x2="276.85" y2="147.36" stroke="#bb8af3" stroke-width="1.0" stroke-opacity="1"/>
<path d="M269.65 145.80L270.97 147.36L269.65 148.92L268.33 147.36Z" fill="#a45ff0"/>
<text transform="translate(278.85,149.46) scale(0.92,1)" class="lg">RA_10</text>
<line x1="262.35" y1="155.80" x2="276.85" y2="155.80" stroke="#dcb45a" stroke-width="1.6" stroke-opacity="0.45"/>
<circle cx="269.65" cy="155.80" r="1.20" fill="#d9a020"/>
<text transform="translate(278.85,157.90) scale(0.92,1)" class="lg">RA_15</text>
<line x1="262.35" y1="164.23" x2="276.85" y2="164.23" stroke="#55d8de" stroke-width="1.6" stroke-opacity="0.45"/>
<path d="M269.65 162.79L270.97 165.19L268.33 165.19Z" fill="#1ecbd2"/>
<text transform="translate(278.85,166.33) scale(0.92,1)" class="lg">RA_20</text>
</g>
<clipPath id="lgr"><rect x="614.55" y="6.40" width="57.75" height="159.90"/></clipPath>
<rect x="614.55" y="6.40" width="57.75" height="159.90" fill="#fff" stroke="#8a8a8a" stroke-width="1.1"/>
<g clip-path="url(#lgr)">
<line x1="616.35" y1="10.40" x2="630.85" y2="10.40" stroke="#555555" stroke-width="1.0" stroke-opacity="1"/>
<rect x="622.45" y="9.20" width="2.40" height="2.40" fill="#3a3a3a"/>
<text transform="translate(632.85,12.50) scale(0.92,1)" class="lg">CC</text>
<line x1="616.35" y1="18.80" x2="630.85" y2="18.80" stroke="#f77d7d" stroke-width="1.0" stroke-opacity="1"/>
<circle cx="623.65" cy="18.80" r="1.20" fill="#f03a3a"/>
<text transform="translate(632.85,20.90) scale(0.92,1)" class="lg">ECC_CP_10</text>
<line x1="616.35" y1="27.20" x2="630.85" y2="27.20" stroke="#5b95ec" stroke-width="1.8" stroke-opacity="0.45"/>
<path d="M623.65 25.76L624.97 28.16L622.33 28.16Z" fill="#2f74e0"/>
<text transform="translate(632.85,29.30) scale(0.92,1)" class="lg">ECC_CP_15</text>
<line x1="616.35" y1="35.60" x2="630.85" y2="35.60" stroke="#8fd3aa" stroke-width="1.0" stroke-opacity="1"/>
<path d="M623.65 37.04L624.97 34.64L622.33 34.64Z" fill="#25a05a"/>
<text transform="translate(632.85,37.70) scale(0.92,1)" class="lg">ECC_CP_20</text>
<line x1="616.35" y1="44.00" x2="630.85" y2="44.00" stroke="#b985f3" stroke-width="1.8" stroke-opacity="0.45"/>
<path d="M623.65 42.44L624.97 44.00L623.65 45.56L622.33 44.00Z" fill="#a259f0"/>
<text transform="translate(632.85,46.10) scale(0.92,1)" class="lg">EC_10</text>
<line x1="616.35" y1="52.40" x2="631.35" y2="52.40" stroke="#e0aa40" stroke-width="1.0" stroke-opacity="1"/>
<path d="M622.21 52.40L624.61 51.08L624.61 53.72Z" fill="#de9a14"/>
<text transform="translate(630.85,54.50) scale(0.92,1)" class="lg">EC_15</text>
<line x1="616.35" y1="60.80" x2="630.85" y2="60.80" stroke="#72dde3" stroke-width="1.0" stroke-opacity="1"/>
<circle cx="623.65" cy="60.80" r="1.20" fill="#16c6d0"/>
<text transform="translate(632.85,62.90) scale(0.92,1)" class="lg">EC_20</text>
<line x1="616.35" y1="69.20" x2="630.85" y2="69.20" stroke="#9c6e6e" stroke-width="1.0" stroke-opacity="1"/>
<path d="M623.65 67.64L624.97 69.20L623.65 70.76L622.33 69.20Z" fill="#7e4646"/>
<text transform="translate(632.85,71.30) scale(0.92,1)" class="lg">CFBB_CP_10</text>
<line x1="616.35" y1="77.60" x2="630.85" y2="77.60" stroke="#b8b860" stroke-width="1.0" stroke-opacity="1"/>
<circle cx="623.65" cy="77.60" r="1.20" fill="#9c9c24"/>
<text transform="translate(632.85,79.70) scale(0.92,1)" class="lg">CFBB_CP_15</text>
<line x1="616.35" y1="86.00" x2="630.85" y2="86.00" stroke="#ff8a4a" stroke-width="1.8" stroke-opacity="0.45"/>
<circle cx="623.65" cy="86.00" r="1.20" fill="#ff6412"/>
<text transform="translate(632.85,88.10) scale(0.92,1)" class="lg">CFBB_CP_20</text>
<line x1="616.35" y1="94.40" x2="630.85" y2="94.40" stroke="#8fb4ec" stroke-width="1.0" stroke-opacity="1"/>
<path d="M623.65 92.84L624.97 94.40L623.65 95.96L622.33 94.40Z" fill="#3d7fd8"/>
<text transform="translate(632.85,96.50) scale(0.92,1)" class="lg">CFBB_10</text>
<line x1="616.35" y1="102.80" x2="630.85" y2="102.80" stroke="#7dc846" stroke-width="1.8" stroke-opacity="0.45"/>
<circle cx="623.65" cy="102.80" r="0.96" fill="#6cbf2a"/>
<text transform="translate(632.85,104.90) scale(0.92,1)" class="lg">CFBB_15</text>
<line x1="616.35" y1="111.20" x2="630.85" y2="111.20" stroke="#929292" stroke-width="1.0" stroke-opacity="1"/>
<path d="M622.45 110.00L624.85 112.40M624.85 110.00L622.45 112.40" stroke="#6a6a6a" stroke-width="0.8"/>
<text transform="translate(632.85,113.30) scale(0.92,1)" class="lg">CFBB_20</text>
<line x1="616.35" y1="119.60" x2="630.85" y2="119.60" stroke="#f58a8a" stroke-width="1.0" stroke-opacity="1"/>
<circle cx="623.65" cy="119.60" r="1.20" fill="#f0404c"/>
<text transform="translate(632.85,121.70) scale(0.92,1)" class="lg">GC_CP_10</text>
<line x1="616.35" y1="128.00" x2="630.85" y2="128.00" stroke="#6a9cf0" stroke-width="1.8" stroke-opacity="0.45"/>

<text transform="translate(632.85,130.10) scale(0.92,1)" class="lg">GC_CP_15</text>
<line x1="616.35" y1="136.40" x2="630.85" y2="136.40" stroke="#6cc294" stroke-width="1.0" stroke-opacity="1"/>
<circle cx="623.65" cy="136.40" r="0.60" fill="#33a867"/>
<text transform="translate(632.85,138.50) scale(0.92,1)" class="lg">GC_CP_20</text>
<line x1="616.35" y1="144.80" x2="630.85" y2="144.80" stroke="#bb8af3" stroke-width="1.8" stroke-opacity="0.45"/>
<path d="M623.65 143.24L624.97 144.80L623.65 146.36L622.33 144.80Z" fill="#a45ff0"/>
<text transform="translate(632.85,146.90) scale(0.92,1)" class="lg">RA_10</text>
<line x1="616.35" y1="153.20" x2="630.85" y2="153.20" stroke="#dcb45a" stroke-width="1.0" stroke-opacity="1"/>
<circle cx="623.65" cy="153.20" r="1.20" fill="#d9a020"/>
<text transform="translate(632.85,155.30) scale(0.92,1)" class="lg">RA_15</text>
<line x1="616.35" y1="161.60" x2="630.85" y2="161.60" stroke="#55d8de" stroke-width="1.0" stroke-opacity="1"/>
<path d="M623.65 160.16L624.97 162.56L622.33 162.56Z" fill="#1ecbd2"/>
<text transform="translate(632.85,163.70) scale(0.92,1)" class="lg">RA_20</text>
</g>
<line x1="29.55" y1="6.45" x2="319.65" y2="6.45" stroke="#555" stroke-width="1.4"/>
<line x1="319.65" y1="6.45" x2="319.65" y2="239.80" stroke="#5a5a5a" stroke-width="1.5"/>
<line x1="29.50" y1="5.85" x2="29.50" y2="240.40" stroke="#4c4c4c" stroke-width="1.4"/>
<line x1="28.95" y1="239.80" x2="320.25" y2="239.80" stroke="#7a7a7a" stroke-width="1.8"/>
<line x1="29.55" y1="239.80" x2="29.55" y2="244.70" stroke="#3a3a3a" stroke-width="1.1"/>
<text x="29.55" y="254.40" class="tk" text-anchor="middle">0.000</text>
<line x1="87.65" y1="239.80" x2="87.65" y2="244.70" stroke="#3a3a3a" stroke-width="1.1"/>
<text x="87.65" y="254.40" class="tk" text-anchor="middle">0.001</text>
<line x1="145.75" y1="239.80" x2="145.75" y2="244.70" stroke="#3a3a3a" stroke-width="1.1"/>
<text x="145.75" y="254.40" class="tk" text-anchor="middle">0.002</text>
<line x1="203.85" y1="239.80" x2="203.85" y2="244.70" stroke="#3a3a3a" stroke-width="1.1"/>
<text x="203.85" y="254.40" class="tk" text-anchor="middle">0.003</text>
<line x1="261.95" y1="239.80" x2="261.95" y2="244.70" stroke="#3a3a3a" stroke-width="1.1"/>
<text x="261.95" y="254.40" class="tk" text-anchor="middle">0.004</text>
<line x1="320.05" y1="239.80" x2="320.05" y2="244.70" stroke="#3a3a3a" stroke-width="1.1"/>
<text x="320.05" y="254.40" class="tk" text-anchor="middle">0.005</text>
<line x1="24.95" y1="239.75" x2="29.55" y2="239.75" stroke="#3a3a3a" stroke-width="1.1"/>
<text x="21.55" y="242.65" class="tk" text-anchor="end">0</text>
<line x1="24.95" y1="206.50" x2="29.55" y2="206.50" stroke="#3a3a3a" stroke-width="1.1"/>
<text x="21.55" y="209.40" class="tk" text-anchor="end">5</text>
<line x1="24.95" y1="173.25" x2="29.55" y2="173.25" stroke="#3a3a3a" stroke-width="1.1"/>
<text x="21.55" y="176.15" class="tk" text-anchor="end">10</text>
<line x1="24.95" y1="140.00" x2="29.55" y2="140.00" stroke="#3a3a3a" stroke-width="1.1"/>
<text x="21.55" y="142.90" class="tk" text-anchor="end">15</text>
<line x1="24.95" y1="106.75" x2="29.55" y2="106.75" stroke="#3a3a3a" stroke-width="1.1"/>
<text x="21.55" y="109.65" class="tk" text-anchor="end">20</text>
<line x1="24.95" y1="73.50" x2="29.55" y2="73.50" stroke="#3a3a3a" stroke-width="1.1"/>
<text x="21.55" y="76.40" class="tk" text-anchor="end">25</text>
<line x1="24.95" y1="40.25" x2="29.55" y2="40.25" stroke="#3a3a3a" stroke-width="1.1"/>
<text x="21.55" y="43.15" class="tk" text-anchor="end">30</text>
<line x1="24.95" y1="6.45" x2="29.55" y2="6.45" stroke="#3a3a3a" stroke-width="1.1"/>
<text x="21.55" y="9.90" class="tk" text-anchor="end">35</text>
<line x1="384.80" y1="3.95" x2="674.50" y2="3.95" stroke="#8e8e8e" stroke-width="1.8"/>
<line x1="674.50" y1="3.95" x2="674.50" y2="236.50" stroke="#555" stroke-width="1.4"/>
<line x1="384.80" y1="3.35" x2="384.80" y2="237.10" stroke="#6e6e6e" stroke-width="1.7"/>
<line x1="384.20" y1="236.50" x2="675.10" y2="236.50" stroke="#666" stroke-width="1.5"/>
<line x1="384.80" y1="236.50" x2="384.80" y2="241.40" stroke="#3a3a3a" stroke-width="1.1"/>
<text x="384.80" y="251.10" class="tk" text-anchor="middle">0.000</text>
<line x1="421.03" y1="236.50" x2="421.03" y2="241.40" stroke="#3a3a3a" stroke-width="1.1"/>
<text x="421.03" y="251.10" class="tk" text-anchor="middle">0.001</text>
<line x1="457.26" y1="236.50" x2="457.26" y2="241.40" stroke="#3a3a3a" stroke-width="1.1"/>
<text x="457.26" y="251.10" class="tk" text-anchor="middle">0.002</text>
<line x1="493.49" y1="236.50" x2="493.49" y2="241.40" stroke="#3a3a3a" stroke-width="1.1"/>
<text x="493.49" y="251.10" class="tk" text-anchor="middle">0.003</text>
<line x1="529.72" y1="236.50" x2="529.72" y2="241.40" stroke="#3a3a3a" stroke-width="1.1"/>
<text x="529.72" y="251.10" class="tk" text-anchor="middle">0.004</text>
<line x1="565.95" y1="236.50" x2="565.95" y2="241.40" stroke="#3a3a3a" stroke-width="1.1"/>
<text x="565.95" y="251.10" class="tk" text-anchor="middle">0.005</text>
<line x1="602.18" y1="236.50" x2="602.18" y2="241.40" stroke="#3a3a3a" stroke-width="1.1"/>
<text x="602.18" y="251.10" class="tk" text-anchor="middle">0.006</text>
<line x1="638.41" y1="236.50" x2="638.41" y2="241.40" stroke="#3a3a3a" stroke-width="1.1"/>
<text x="638.41" y="251.10" class="tk" text-anchor="middle">0.007</text>
<line x1="674.64" y1="236.50" x2="674.64" y2="241.40" stroke="#3a3a3a" stroke-width="1.1"/>
<text x="674.64" y="251.10" class="tk" text-anchor="middle">0.008</text>
<line x1="380.20" y1="236.60" x2="384.80" y2="236.60" stroke="#3a3a3a" stroke-width="1.1"/>
<text x="376.80" y="239.50" class="tk" text-anchor="end">0</text>
<line x1="380.20" y1="213.36" x2="384.80" y2="213.36" stroke="#3a3a3a" stroke-width="1.1"/>
<text x="376.80" y="216.26" class="tk" text-anchor="end">5</text>
<line x1="380.20" y1="190.12" x2="384.80" y2="190.12" stroke="#3a3a3a" stroke-width="1.1"/>
<text x="376.80" y="193.02" class="tk" text-anchor="end">10</text>
<line x1="380.20" y1="166.88" x2="384.80" y2="166.88" stroke="#3a3a3a" stroke-width="1.1"/>
<text x="376.80" y="169.78" class="tk" text-anchor="end">15</text>
<line x1="380.20" y1="143.64" x2="384.80" y2="143.64" stroke="#3a3a3a" stroke-width="1.1"/>
<text x="376.80" y="146.54" class="tk" text-anchor="end">20</text>
<line x1="380.20" y1="120.40" x2="384.80" y2="120.40" stroke="#3a3a3a" stroke-width="1.1"/>
<text x="376.80" y="123.30" class="tk" text-anchor="end">25</text>
<line x1="380.20" y1="97.16" x2="384.80" y2="97.16" stroke="#3a3a3a" stroke-width="1.1"/>
<text x="376.80" y="100.06" class="tk" text-anchor="end">30</text>
<line x1="380.20" y1="73.92" x2="384.80" y2="73.92" stroke="#3a3a3a" stroke-width="1.1"/>
<text x="376.80" y="76.82" class="tk" text-anchor="end">35</text>
<line x1="380.20" y1="50.68" x2="384.80" y2="50.68" stroke="#3a3a3a" stroke-width="1.1"/>
<text x="376.80" y="53.58" class="tk" text-anchor="end">40</text>
<line x1="380.20" y1="27.44" x2="384.80" y2="27.44" stroke="#3a3a3a" stroke-width="1.1"/>
<text x="376.80" y="30.34" class="tk" text-anchor="end">45</text>
<line x1="380.20" y1="3.95" x2="384.80" y2="3.95" stroke="#3a3a3a" stroke-width="1.1"/>
<text x="376.80" y="7.10" class="tk" text-anchor="end">50</text>
<text class="at" x="174.8" y="270.6" text-anchor="middle">Strain (mm/mm)</text>
<text class="at" x="529.9" y="267.2" text-anchor="middle">Strain (mm/mm)</text>
<text class="at" transform="translate(8.9,122.5) rotate(-90)" text-anchor="middle">Stress (MPa)</text>
<text class="at" transform="translate(363.4,117.9) rotate(-90)" text-anchor="middle">Stress (MPa)</text>
<path d="M159.90 301.9Q151.50 308.7 159.90 315.6" fill="none" stroke="#111" stroke-width="1.8" stroke-linecap="butt"/><path d="M170.80 301.9Q179.20 308.7 170.80 315.6" fill="none" stroke="#111" stroke-width="1.8" stroke-linecap="butt"/><text class="cap" x="165.00" y="314.3">a</text>
<path d="M524.90 301.9Q516.50 308.7 524.90 315.6" fill="none" stroke="#111" stroke-width="1.8" stroke-linecap="butt"/><path d="M535.80 301.9Q544.20 308.7 535.80 315.6" fill="none" stroke="#111" stroke-width="1.8" stroke-linecap="butt"/><text class="cap" x="530.15" y="314.3">b</text>
</svg>
</body></html>
